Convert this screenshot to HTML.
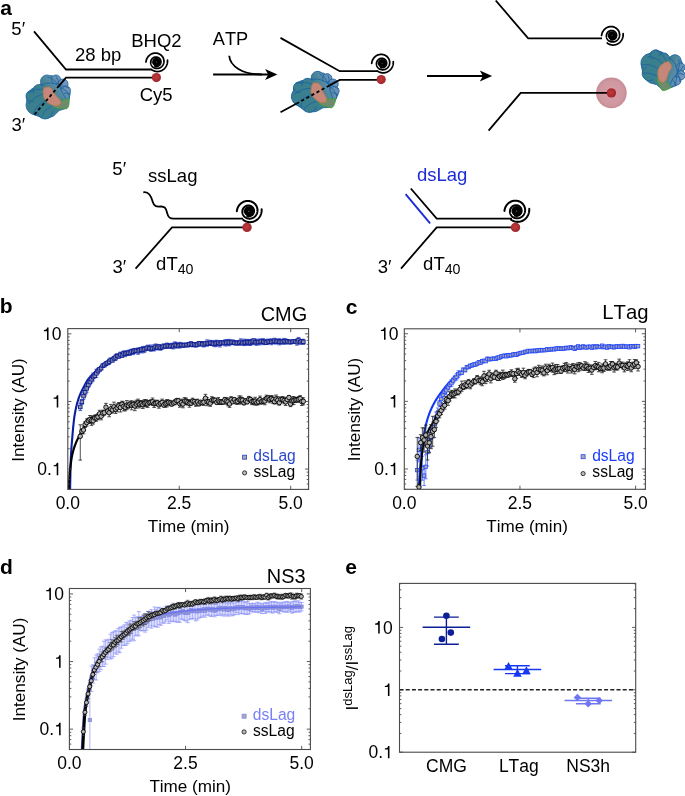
<!DOCTYPE html>
<html><head><meta charset="utf-8"><style>html,body{margin:0;padding:0;background:#fff;width:685px;height:796px;overflow:hidden}svg{display:block;font-kerning:none;will-change:transform}text{font-kerning:none}</style></head>
<body><svg width="685" height="796" viewBox="0 0 685 796" font-family='"Liberation Sans", sans-serif'>
<defs>
<radialGradient id="rg" cx="0.45" cy="0.45" r="0.6"><stop offset="0" stop-color="#c23c38"/><stop offset="1" stop-color="#9c2330"/></radialGradient>
<radialGradient id="glow" cx="0.5" cy="0.5" r="0.5"><stop offset="0" stop-color="#d7a2a8"/><stop offset="0.8" stop-color="#cf97a0"/><stop offset="1" stop-color="#c68c96"/></radialGradient>
<linearGradient id="pg" x1="-4" y1="4" x2="20" y2="-16" gradientUnits="userSpaceOnUse"><stop offset="0" stop-color="#3a7f8d"/><stop offset="0.3" stop-color="#3e8090"/><stop offset="1" stop-color="#7e9bc6"/></linearGradient>
</defs>
<rect width="685" height="796" fill="#fff"/>
<text x="0.18" y="15.4" font-size="21" font-weight="bold" fill="#000">a</text>
<text x="11.36" y="34.5" font-size="18.5" fill="#000">5′</text>
<text x="11.4" y="131" font-size="18.5" fill="#000">3′</text>
<text x="74.97" y="60.6" font-size="18.5" fill="#000">28 bp</text>
<text x="131.28" y="47" font-size="18.5" fill="#000">BHQ2</text>
<text x="139.66" y="101" font-size="18.5" fill="#000">Cy5</text>
<path d="M34 31.4 L66 69.5 L151.5 69.5" fill="none" stroke="#000" stroke-width="1.8"/>
<g transform="translate(48.25 97) rotate(0) scale(1 1)"><path d="M2.95 -21.5 L10.85 -18.7 L16.35 -14.8 L20.25 -9.2 L21.95 -3.7 L21.05 1 L17.85 11.3 L10.85 13.6 L5.25 19.1 L-1.05 21.5 L-8.15 19.9 L-14.45 17.6 L-18.35 12.1 L-20.75 6.5 L-21.95 1 L-20.35 -4.5 L-16.05 -8.4 L-8.15 -11.2 L-6.55 -14.8 L-2.55 -19.5 Z" fill="url(#pg)" stroke="#1f64a0" stroke-width="0.85" stroke-linejoin="round"/><circle cx="-12.25" cy="8" r="10" fill="url(#pg)" stroke="#1f64a0" stroke-width="0.85"/><circle cx="-3.25" cy="14.5" r="7.5" fill="url(#pg)" stroke="#1f64a0" stroke-width="0.85"/><circle cx="-16.75" cy="-1" r="5.5" fill="url(#pg)" stroke="#1f64a0" stroke-width="0.85"/><circle cx="-9.25" cy="-6.5" r="6" fill="url(#pg)" stroke="#1f64a0" stroke-width="0.85"/><circle cx="-1.25" cy="-15.5" r="6.5" fill="url(#pg)" stroke="#1f64a0" stroke-width="0.85"/><circle cx="7.75" cy="-17.5" r="4.5" fill="url(#pg)" stroke="#1f64a0" stroke-width="0.85"/><circle cx="14.75" cy="-13" r="5" fill="url(#pg)" stroke="#1f64a0" stroke-width="0.85"/><circle cx="17.75" cy="-6.5" r="4.5" fill="url(#pg)" stroke="#1f64a0" stroke-width="0.85"/><circle cx="17.25" cy="0" r="4" fill="url(#pg)" stroke="#1f64a0" stroke-width="0.85"/><path d="M-15.25 -2 L-3.25 -13 L9.75 -13 L15.75 -3 L11.75 9 L-0.25 17 L-12.25 13 Z" fill="url(#pg)" stroke="none"/><path d="M10.85 -11.3 Q1.75 -16.5 -7.25 -12" fill="none" stroke="#1f64a0" stroke-width="0.85"/><path d="M10.85 -11.3 Q6.25 -18 -0.75 -20" fill="none" stroke="#1f64a0" stroke-width="0.85"/><path d="M10.85 -11.3 Q10.75 -17 7.75 -20.5" fill="none" stroke="#1f64a0" stroke-width="0.85"/><path d="M10.85 -11.3 Q13.75 -15 16.25 -16.5" fill="none" stroke="#1f64a0" stroke-width="0.85"/><path d="M10.85 -11.3 Q16.25 -11.5 20.75 -9" fill="none" stroke="#1f64a0" stroke-width="0.85"/><path d="M10.85 -11.3 Q16.25 -7.5 21.75 -2.5" fill="none" stroke="#1f64a0" stroke-width="0.85"/><path d="M10.85 -11.3 Q13.25 -4 18.75 3" fill="none" stroke="#1f64a0" stroke-width="0.85"/><path d="M-20.75 -4 Q-13.25 -8.5 -5.25 -8" fill="none" stroke="#1f64a0" stroke-width="0.85"/><path d="M-19.75 7 Q-14.25 -1 -4.25 -3" fill="none" stroke="#1f64a0" stroke-width="0.85"/><path d="M-15.25 17 Q-11.25 7 -2.25 4" fill="none" stroke="#1f64a0" stroke-width="0.85"/><path d="M-7.25 20.5 Q-4.25 13 2.75 9" fill="none" stroke="#1f64a0" stroke-width="0.85"/><path d="M5.25 9.3 L10.85 7.3 L13.15 3.4 L17.85 2.2 L21.05 1.8 L20.85 6.5 L20.25 9.7 L18.65 11.7 L11.55 11.7 L7.65 10.9 Z" fill="#6f8a6c" stroke="#3ba33b" stroke-width="0.8" stroke-linejoin="round"/><path d="M-4.15 -9.2 L0.55 -10 L3.75 -8 L5.25 -4.5 L8.45 -0.6 L11.55 2.6 L12.55 6.1 L10.85 8.1 L6.85 8.9 L2.15 7.3 L-1.85 4.6 L-4.55 0.2 L-5.15 -5.3 Z" fill="#c4877a" stroke="#c27a48" stroke-width="0.8" stroke-linejoin="round"/></g>
<path d="M152.5 77.6 L66 77.6 L59.2 85.6" fill="none" stroke="#000" stroke-width="1.8"/>
<path d="M59.2 85.6 L33.6 115.5" fill="none" stroke="#000" stroke-width="1.8" stroke-dasharray="3.2 2.6"/>
<path d="M145.95 62 L146.03 61.42 L146.13 60.84 L146.27 60.27 L146.44 59.72 L146.64 59.18 L146.87 58.66 L147.13 58.15 L147.42 57.66 L147.72 57.19 L148.06 56.74 L148.41 56.31 L148.79 55.91 L149.19 55.53 L149.61 55.17 L150.04 54.84 L150.49 54.54 L150.95 54.27 L151.42 54.02 L151.91 53.8 L152.4 53.61 L152.9 53.45 L153.41 53.32 L153.92 53.22 L154.43 53.15 L154.94 53.1 L155.45 53.09 L155.96 53.11 L156.46 53.15 L156.96 53.22 L157.45 53.32 L157.93 53.45 L158.4 53.6 L158.85 53.77 L159.3 53.97 L159.73 54.2 L160.14 54.45 L160.54 54.72 L160.91 55 L161.27 55.31 L161.61 55.64 L161.93 55.98 L162.23 56.34 L162.5 56.71 L162.76 57.09 L162.99 57.49 L163.19 57.9 L163.37 58.31 L163.53 58.73 L163.66 59.16 L163.76 59.59 L163.84 60.03 L163.9 60.46 L163.93 60.9 L163.94 61.33 L163.92 61.76 L163.88 62.19 L163.81 62.61 L163.72 63.03 L163.61 63.43 L163.48 63.83 L163.32 64.22 L163.15 64.59 L162.95 64.96 L162.74 65.31 L162.51 65.64 L162.26 65.96 L161.99 66.27 L161.71 66.55 L161.42 66.82 L161.11 67.07 L160.79 67.3 L160.46 67.51 L160.12 67.71 L159.78 67.88 L159.42 68.03 L159.06 68.16 L158.7 68.27 L158.33 68.35 L157.96 68.42 L157.58 68.46 L157.21 68.49 L156.84 68.49 L156.47 68.47 L156.11 68.43 L155.75 68.38 L155.39 68.3 L155.05 68.2 L154.71 68.08 L154.38 67.95 L154.05 67.8 L153.74 67.63 L153.45 67.44 L153.16 67.24 L152.89 67.03 L152.63 66.8 L152.38 66.56 L152.15 66.3 L151.94 66.04 L151.74 65.76 L151.56 65.48 L151.4 65.19 L151.25 64.89 L151.12 64.58 L151.01 64.27 L150.92 63.95 L150.85 63.64 L150.79 63.32 L150.75 63 L150.73 62.67 L150.73 62.35 L150.75 62.04 L150.78 61.72 L150.83 61.41 L150.9 61.1 L150.99 60.8 L151.09 60.51 L151.2 60.22 L151.34 59.94 L151.48 59.67 L151.64 59.41 L151.82 59.16 L152 58.93 L152.2 58.7 L152.41 58.49 L152.64 58.29 L152.87 58.1 L153.11 57.93 L153.35 57.77 L153.61 57.62 L153.87 57.49 L154.14 57.38 L154.41 57.28 L154.69 57.2 L154.97 57.13 L155.25 57.08 L155.53 57.05 L155.82 57.03 L156.1 57.03 L156.38 57.04 L156.66 57.07 L156.94 57.11 L157.21 57.17 L157.48 57.24 L157.74 57.33 L157.99 57.43 L158.24 57.55 L158.48 57.68 L158.72 57.82 L158.94 57.97 L159.15 58.14 L159.36 58.32 L159.55 58.5 L159.73 58.7 L159.9 58.91 L160.06 59.12 L160.21 59.34 L160.34 59.57 L160.46 59.81 L160.56 60.05 L160.65 60.3 L160.73 60.55 L160.79 60.8 L160.84 61.05 L160.88 61.31 L160.9 61.57 L160.9 61.83 L160.9 62.09 L160.87 62.34 L160.84 62.6 L160.79 62.85 L160.72 63.09 L160.64 63.34 L160.55 63.57 L160.45 63.8 L160.33 64.03 L160.2 64.25 L160.06 64.46 L159.91 64.66 L159.75 64.85 L159.58 65.03 L159.4 65.21 L159.21 65.37 L159.01 65.52 L158.8 65.66 L158.59 65.79 L158.37 65.9 L158.14 66.01 L157.91 66.1 L157.68 66.18 L157.44 66.24 L157.2 66.29 L156.95 66.33 L156.71 66.35 L156.46 66.36 L156.21 66.36 L155.97 66.34 L155.72 66.31 L155.48 66.27 L155.24 66.21 L155.01 66.14" fill="none" stroke="#000" stroke-width="1.75" stroke-linecap="round"/>
<path d="M151.63 69.55 L151.9 69.76 L152.18 69.96 L152.47 70.14 L152.77 70.32 L153.08 70.49 L153.39 70.65 L153.71 70.79 L154.04 70.92 L154.37 71.05 L154.71 71.15 L155.05 71.25 L155.4 71.33 L155.76 71.4 L156.11 71.46 L156.47 71.5 L156.84 71.53 L157.2 71.54 L157.57 71.54 L157.94 71.53 L158.31 71.5 L158.68 71.46 L159.05 71.4 L159.42 71.33 L159.79 71.24 L160.15 71.14 L160.51 71.03 L160.87 70.9 L161.23 70.75 L161.58 70.59 L161.92 70.42 L162.26 70.24 L162.6 70.04 L162.93 69.82 L163.25 69.6 L163.56 69.36 L163.86 69.1 L164.16 68.84 L164.44 68.56 L164.72 68.27 L164.99 67.97 L165.24 67.66 L165.48 67.34 L165.72 67 L165.94 66.66 L166.14 66.31 L166.34 65.95 L166.52 65.58 L166.69 65.2 L166.84 64.81 L166.98 64.42 L167.1 64.02 L167.21 63.62 L167.3 63.21 L167.38 62.79 L167.44 62.37 L167.49 61.95 L167.52 61.52 L167.53 61.09 L167.53 60.66 L167.51 60.23" fill="none" stroke="#000" stroke-width="1.75" stroke-linecap="round"/>
<circle cx="156.35" cy="62" r="4.3" fill="#000"/>
<circle cx="156.35" cy="62" r="0.45" fill="#999"/>
<circle cx="156.4" cy="77.6" r="4.6" fill="url(#rg)"/>
<text x="212.76" y="44.5" font-size="18.2" fill="#000">ATP</text>
<path d="M213.1 74.5 L271.4 74.5" fill="none" stroke="#000" stroke-width="1.8"/>
<path d="M277.4 74.5 L265.1 69 L268.2 74.5 L265.1 80 Z" fill="#000"/>
<path d="M229.2 55.8 C230 66 242 74.5 262 74.5" fill="none" stroke="#000" stroke-width="1.8"/>
<path d="M280.5 37.9 L339.7 71.2 L377 71.2" fill="none" stroke="#000" stroke-width="1.8"/>
<g transform="translate(315.5 92.4) rotate(14) scale(1.02 0.96)"><path d="M2.95 -21.5 L10.85 -18.7 L16.35 -14.8 L20.25 -9.2 L21.95 -3.7 L21.05 1 L17.85 11.3 L10.85 13.6 L5.25 19.1 L-1.05 21.5 L-8.15 19.9 L-14.45 17.6 L-18.35 12.1 L-20.75 6.5 L-21.95 1 L-20.35 -4.5 L-16.05 -8.4 L-8.15 -11.2 L-6.55 -14.8 L-2.55 -19.5 Z" fill="url(#pg)" stroke="#1f64a0" stroke-width="0.85" stroke-linejoin="round"/><circle cx="-12.25" cy="8" r="10" fill="url(#pg)" stroke="#1f64a0" stroke-width="0.85"/><circle cx="-3.25" cy="14.5" r="7.5" fill="url(#pg)" stroke="#1f64a0" stroke-width="0.85"/><circle cx="-16.75" cy="-1" r="5.5" fill="url(#pg)" stroke="#1f64a0" stroke-width="0.85"/><circle cx="-9.25" cy="-6.5" r="6" fill="url(#pg)" stroke="#1f64a0" stroke-width="0.85"/><circle cx="-1.25" cy="-15.5" r="6.5" fill="url(#pg)" stroke="#1f64a0" stroke-width="0.85"/><circle cx="7.75" cy="-17.5" r="4.5" fill="url(#pg)" stroke="#1f64a0" stroke-width="0.85"/><circle cx="14.75" cy="-13" r="5" fill="url(#pg)" stroke="#1f64a0" stroke-width="0.85"/><circle cx="17.75" cy="-6.5" r="4.5" fill="url(#pg)" stroke="#1f64a0" stroke-width="0.85"/><circle cx="17.25" cy="0" r="4" fill="url(#pg)" stroke="#1f64a0" stroke-width="0.85"/><path d="M-15.25 -2 L-3.25 -13 L9.75 -13 L15.75 -3 L11.75 9 L-0.25 17 L-12.25 13 Z" fill="url(#pg)" stroke="none"/><path d="M10.85 -11.3 Q1.75 -16.5 -7.25 -12" fill="none" stroke="#1f64a0" stroke-width="0.85"/><path d="M10.85 -11.3 Q6.25 -18 -0.75 -20" fill="none" stroke="#1f64a0" stroke-width="0.85"/><path d="M10.85 -11.3 Q10.75 -17 7.75 -20.5" fill="none" stroke="#1f64a0" stroke-width="0.85"/><path d="M10.85 -11.3 Q13.75 -15 16.25 -16.5" fill="none" stroke="#1f64a0" stroke-width="0.85"/><path d="M10.85 -11.3 Q16.25 -11.5 20.75 -9" fill="none" stroke="#1f64a0" stroke-width="0.85"/><path d="M10.85 -11.3 Q16.25 -7.5 21.75 -2.5" fill="none" stroke="#1f64a0" stroke-width="0.85"/><path d="M10.85 -11.3 Q13.25 -4 18.75 3" fill="none" stroke="#1f64a0" stroke-width="0.85"/><path d="M-20.75 -4 Q-13.25 -8.5 -5.25 -8" fill="none" stroke="#1f64a0" stroke-width="0.85"/><path d="M-19.75 7 Q-14.25 -1 -4.25 -3" fill="none" stroke="#1f64a0" stroke-width="0.85"/><path d="M-15.25 17 Q-11.25 7 -2.25 4" fill="none" stroke="#1f64a0" stroke-width="0.85"/><path d="M-7.25 20.5 Q-4.25 13 2.75 9" fill="none" stroke="#1f64a0" stroke-width="0.85"/><path d="M5.25 9.3 L10.85 7.3 L13.15 3.4 L17.85 2.2 L21.05 1.8 L20.85 6.5 L20.25 9.7 L18.65 11.7 L11.55 11.7 L7.65 10.9 Z" fill="#6f8a6c" stroke="#3ba33b" stroke-width="0.8" stroke-linejoin="round"/><path d="M-4.15 -9.2 L0.55 -10 L3.75 -8 L5.25 -4.5 L8.45 -0.6 L11.55 2.6 L12.55 6.1 L10.85 8.1 L6.85 8.9 L2.15 7.3 L-1.85 4.6 L-4.55 0.2 L-5.15 -5.3 Z" fill="#c4877a" stroke="#c27a48" stroke-width="0.8" stroke-linejoin="round"/></g>
<path d="M378.6 79.9 L339.7 79.9 L329.5 85.5" fill="none" stroke="#000" stroke-width="1.8"/>
<path d="M329.5 85.5 L296.3 103.7" fill="none" stroke="#000" stroke-width="1.8" stroke-dasharray="3.2 2.6"/>
<path d="M296.3 103.7 L280.5 112.3" fill="none" stroke="#000" stroke-width="1.8"/>
<path d="M371.7 63.3 L371.78 62.72 L371.88 62.14 L372.02 61.57 L372.19 61.02 L372.39 60.48 L372.62 59.96 L372.88 59.45 L373.17 58.96 L373.47 58.49 L373.81 58.04 L374.16 57.61 L374.54 57.21 L374.94 56.83 L375.36 56.47 L375.79 56.14 L376.24 55.84 L376.7 55.57 L377.17 55.32 L377.66 55.1 L378.15 54.91 L378.65 54.75 L379.16 54.62 L379.67 54.52 L380.18 54.45 L380.69 54.4 L381.2 54.39 L381.71 54.41 L382.21 54.45 L382.71 54.52 L383.2 54.62 L383.68 54.75 L384.15 54.9 L384.6 55.07 L385.05 55.27 L385.48 55.5 L385.89 55.75 L386.29 56.02 L386.66 56.3 L387.02 56.61 L387.36 56.94 L387.68 57.28 L387.98 57.64 L388.25 58.01 L388.51 58.39 L388.74 58.79 L388.94 59.2 L389.12 59.61 L389.28 60.03 L389.41 60.46 L389.51 60.89 L389.59 61.33 L389.65 61.76 L389.68 62.2 L389.69 62.63 L389.67 63.06 L389.63 63.49 L389.56 63.91 L389.47 64.33 L389.36 64.73 L389.23 65.13 L389.07 65.52 L388.9 65.89 L388.7 66.26 L388.49 66.61 L388.26 66.94 L388.01 67.26 L387.74 67.57 L387.46 67.85 L387.17 68.12 L386.86 68.37 L386.54 68.6 L386.21 68.81 L385.87 69.01 L385.53 69.18 L385.17 69.33 L384.81 69.46 L384.45 69.57 L384.08 69.65 L383.71 69.72 L383.33 69.76 L382.96 69.79 L382.59 69.79 L382.22 69.77 L381.86 69.73 L381.5 69.68 L381.14 69.6 L380.8 69.5 L380.46 69.38 L380.13 69.25 L379.8 69.1 L379.49 68.93 L379.2 68.74 L378.91 68.54 L378.64 68.33 L378.38 68.1 L378.13 67.86 L377.9 67.6 L377.69 67.34 L377.49 67.06 L377.31 66.78 L377.15 66.49 L377 66.19 L376.87 65.88 L376.76 65.57 L376.67 65.25 L376.6 64.94 L376.54 64.62 L376.5 64.3 L376.48 63.97 L376.48 63.65 L376.5 63.34 L376.53 63.02 L376.58 62.71 L376.65 62.4 L376.74 62.1 L376.84 61.81 L376.95 61.52 L377.09 61.24 L377.23 60.97 L377.39 60.71 L377.57 60.46 L377.75 60.23 L377.95 60 L378.16 59.79 L378.39 59.59 L378.62 59.4 L378.86 59.23 L379.1 59.07 L379.36 58.92 L379.62 58.79 L379.89 58.68 L380.16 58.58 L380.44 58.5 L380.72 58.43 L381 58.38 L381.28 58.35 L381.57 58.33 L381.85 58.33 L382.13 58.34 L382.41 58.37 L382.69 58.41 L382.96 58.47 L383.23 58.54 L383.49 58.63 L383.74 58.73 L383.99 58.85 L384.23 58.98 L384.47 59.12 L384.69 59.27 L384.9 59.44 L385.11 59.62 L385.3 59.8 L385.48 60 L385.65 60.21 L385.81 60.42 L385.96 60.64 L386.09 60.87 L386.21 61.11 L386.31 61.35 L386.4 61.6 L386.48 61.85 L386.54 62.1 L386.59 62.35 L386.63 62.61 L386.65 62.87 L386.65 63.13 L386.65 63.39 L386.62 63.64 L386.59 63.9 L386.54 64.15 L386.47 64.39 L386.39 64.64 L386.3 64.87 L386.2 65.1 L386.08 65.33 L385.95 65.55 L385.81 65.76 L385.66 65.96 L385.5 66.15 L385.33 66.33 L385.15 66.51 L384.96 66.67 L384.76 66.82 L384.55 66.96 L384.34 67.09 L384.12 67.2 L383.89 67.31 L383.66 67.4 L383.43 67.48 L383.19 67.54 L382.95 67.59 L382.7 67.63 L382.46 67.65 L382.21 67.66 L381.96 67.66 L381.72 67.64 L381.47 67.61 L381.23 67.57 L380.99 67.51 L380.76 67.44" fill="none" stroke="#000" stroke-width="1.75" stroke-linecap="round"/>
<path d="M377.38 70.85 L377.65 71.06 L377.93 71.26 L378.22 71.44 L378.52 71.62 L378.83 71.79 L379.14 71.95 L379.46 72.09 L379.79 72.22 L380.12 72.35 L380.46 72.45 L380.8 72.55 L381.15 72.63 L381.51 72.7 L381.86 72.76 L382.22 72.8 L382.59 72.83 L382.95 72.84 L383.32 72.84 L383.69 72.83 L384.06 72.8 L384.43 72.76 L384.8 72.7 L385.17 72.63 L385.54 72.54 L385.9 72.44 L386.26 72.33 L386.62 72.2 L386.98 72.05 L387.33 71.89 L387.67 71.72 L388.01 71.54 L388.35 71.34 L388.68 71.12 L389 70.9 L389.31 70.66 L389.61 70.4 L389.91 70.14 L390.19 69.86 L390.47 69.57 L390.74 69.27 L390.99 68.96 L391.23 68.64 L391.47 68.3 L391.69 67.96 L391.89 67.61 L392.09 67.25 L392.27 66.88 L392.44 66.5 L392.59 66.11 L392.73 65.72 L392.85 65.32 L392.96 64.92 L393.05 64.51 L393.13 64.09 L393.19 63.67 L393.24 63.25 L393.27 62.82 L393.28 62.39 L393.28 61.96 L393.26 61.53" fill="none" stroke="#000" stroke-width="1.75" stroke-linecap="round"/>
<circle cx="382.1" cy="63.3" r="4.3" fill="#000"/>
<circle cx="382.1" cy="63.3" r="0.45" fill="#999"/>
<circle cx="381.2" cy="79.6" r="4.6" fill="url(#rg)"/>
<path d="M427 76 L486.1 76" fill="none" stroke="#000" stroke-width="1.8"/>
<path d="M492.1 76 L479.8 70.5 L482.9 76 L479.8 81.5 Z" fill="#000"/>
<path d="M495.7 0.5 L528.2 38.4 L602 38.4" fill="none" stroke="#000" stroke-width="1.8"/>
<path d="M601.6 35.5 L601.68 34.92 L601.78 34.34 L601.92 33.77 L602.09 33.22 L602.29 32.68 L602.52 32.16 L602.78 31.65 L603.07 31.16 L603.37 30.69 L603.71 30.24 L604.06 29.81 L604.44 29.41 L604.84 29.03 L605.26 28.67 L605.69 28.34 L606.14 28.04 L606.6 27.77 L607.07 27.52 L607.56 27.3 L608.05 27.11 L608.55 26.95 L609.06 26.82 L609.57 26.72 L610.08 26.65 L610.59 26.6 L611.1 26.59 L611.61 26.61 L612.11 26.65 L612.61 26.72 L613.1 26.82 L613.58 26.95 L614.05 27.1 L614.5 27.27 L614.95 27.47 L615.38 27.7 L615.79 27.95 L616.19 28.22 L616.56 28.5 L616.92 28.81 L617.26 29.14 L617.58 29.48 L617.88 29.84 L618.15 30.21 L618.41 30.59 L618.64 30.99 L618.84 31.4 L619.02 31.81 L619.18 32.23 L619.31 32.66 L619.41 33.09 L619.49 33.53 L619.55 33.96 L619.58 34.4 L619.59 34.83 L619.57 35.26 L619.53 35.69 L619.46 36.11 L619.37 36.53 L619.26 36.93 L619.13 37.33 L618.97 37.72 L618.8 38.09 L618.6 38.46 L618.39 38.81 L618.16 39.14 L617.91 39.46 L617.64 39.77 L617.36 40.05 L617.07 40.32 L616.76 40.57 L616.44 40.8 L616.11 41.01 L615.77 41.21 L615.43 41.38 L615.07 41.53 L614.71 41.66 L614.35 41.77 L613.98 41.85 L613.61 41.92 L613.23 41.96 L612.86 41.99 L612.49 41.99 L612.12 41.97 L611.76 41.93 L611.4 41.88 L611.04 41.8 L610.7 41.7 L610.36 41.58 L610.03 41.45 L609.7 41.3 L609.39 41.13 L609.1 40.94 L608.81 40.74 L608.54 40.53 L608.28 40.3 L608.03 40.06 L607.8 39.8 L607.59 39.54 L607.39 39.26 L607.21 38.98 L607.05 38.69 L606.9 38.39 L606.77 38.08 L606.66 37.77 L606.57 37.45 L606.5 37.14 L606.44 36.82 L606.4 36.5 L606.38 36.17 L606.38 35.85 L606.4 35.54 L606.43 35.22 L606.48 34.91 L606.55 34.6 L606.64 34.3 L606.74 34.01 L606.85 33.72 L606.99 33.44 L607.13 33.17 L607.29 32.91 L607.47 32.66 L607.65 32.43 L607.85 32.2 L608.06 31.99 L608.29 31.79 L608.52 31.6 L608.76 31.43 L609 31.27 L609.26 31.12 L609.52 30.99 L609.79 30.88 L610.06 30.78 L610.34 30.7 L610.62 30.63 L610.9 30.58 L611.18 30.55 L611.47 30.53 L611.75 30.53 L612.03 30.54 L612.31 30.57 L612.59 30.61 L612.86 30.67 L613.13 30.74 L613.39 30.83 L613.64 30.93 L613.89 31.05 L614.13 31.18 L614.37 31.32 L614.59 31.47 L614.8 31.64 L615.01 31.82 L615.2 32 L615.38 32.2 L615.55 32.41 L615.71 32.62 L615.86 32.84 L615.99 33.07 L616.11 33.31 L616.21 33.55 L616.3 33.8 L616.38 34.05 L616.44 34.3 L616.49 34.55 L616.53 34.81 L616.55 35.07 L616.55 35.33 L616.55 35.59 L616.52 35.84 L616.49 36.1 L616.44 36.35 L616.37 36.59 L616.29 36.84 L616.2 37.07 L616.1 37.3 L615.98 37.53 L615.85 37.75 L615.71 37.96 L615.56 38.16 L615.4 38.35 L615.23 38.53 L615.05 38.71 L614.86 38.87 L614.66 39.02 L614.45 39.16 L614.24 39.29 L614.02 39.4 L613.79 39.51 L613.56 39.6 L613.33 39.68 L613.09 39.74 L612.85 39.79 L612.6 39.83 L612.36 39.85 L612.11 39.86 L611.86 39.86 L611.62 39.84 L611.37 39.81 L611.13 39.77 L610.89 39.71 L610.66 39.64" fill="none" stroke="#000" stroke-width="1.75" stroke-linecap="round"/>
<path d="M607.28 43.05 L607.55 43.26 L607.83 43.46 L608.12 43.64 L608.42 43.82 L608.73 43.99 L609.04 44.15 L609.36 44.29 L609.69 44.42 L610.02 44.55 L610.36 44.65 L610.7 44.75 L611.05 44.83 L611.41 44.9 L611.76 44.96 L612.12 45 L612.49 45.03 L612.85 45.04 L613.22 45.04 L613.59 45.03 L613.96 45 L614.33 44.96 L614.7 44.9 L615.07 44.83 L615.44 44.74 L615.8 44.64 L616.16 44.53 L616.52 44.4 L616.88 44.25 L617.23 44.09 L617.57 43.92 L617.91 43.74 L618.25 43.54 L618.58 43.32 L618.9 43.1 L619.21 42.86 L619.51 42.6 L619.81 42.34 L620.09 42.06 L620.37 41.77 L620.64 41.47 L620.89 41.16 L621.13 40.84 L621.37 40.5 L621.59 40.16 L621.79 39.81 L621.99 39.45 L622.17 39.08 L622.34 38.7 L622.49 38.31 L622.63 37.92 L622.75 37.52 L622.86 37.12 L622.95 36.71 L623.03 36.29 L623.09 35.87 L623.14 35.45 L623.17 35.02 L623.18 34.59 L623.18 34.16 L623.16 33.73" fill="none" stroke="#000" stroke-width="1.75" stroke-linecap="round"/>
<circle cx="612" cy="35.5" r="4.3" fill="#000"/>
<circle cx="612" cy="35.5" r="0.45" fill="#999"/>
<circle cx="611.4" cy="92.9" r="15.3" fill="url(#glow)"/>
<path d="M488.6 130.6 L520.7 92.8 L607 92.8" fill="none" stroke="#000" stroke-width="1.8"/>
<circle cx="611.4" cy="92.9" r="4.7" fill="url(#rg)"/>
<g transform="translate(662.8 69.3) rotate(60) scale(0.95 0.95)"><path d="M2.95 -21.5 L10.85 -18.7 L16.35 -14.8 L20.25 -9.2 L21.95 -3.7 L21.05 1 L17.85 11.3 L10.85 13.6 L5.25 19.1 L-1.05 21.5 L-8.15 19.9 L-14.45 17.6 L-18.35 12.1 L-20.75 6.5 L-21.95 1 L-20.35 -4.5 L-16.05 -8.4 L-8.15 -11.2 L-6.55 -14.8 L-2.55 -19.5 Z" fill="url(#pg)" stroke="#1f64a0" stroke-width="0.85" stroke-linejoin="round"/><circle cx="-12.25" cy="8" r="10" fill="url(#pg)" stroke="#1f64a0" stroke-width="0.85"/><circle cx="-3.25" cy="14.5" r="7.5" fill="url(#pg)" stroke="#1f64a0" stroke-width="0.85"/><circle cx="-16.75" cy="-1" r="5.5" fill="url(#pg)" stroke="#1f64a0" stroke-width="0.85"/><circle cx="-9.25" cy="-6.5" r="6" fill="url(#pg)" stroke="#1f64a0" stroke-width="0.85"/><circle cx="-1.25" cy="-15.5" r="6.5" fill="url(#pg)" stroke="#1f64a0" stroke-width="0.85"/><circle cx="7.75" cy="-17.5" r="4.5" fill="url(#pg)" stroke="#1f64a0" stroke-width="0.85"/><circle cx="14.75" cy="-13" r="5" fill="url(#pg)" stroke="#1f64a0" stroke-width="0.85"/><circle cx="17.75" cy="-6.5" r="4.5" fill="url(#pg)" stroke="#1f64a0" stroke-width="0.85"/><circle cx="17.25" cy="0" r="4" fill="url(#pg)" stroke="#1f64a0" stroke-width="0.85"/><path d="M-15.25 -2 L-3.25 -13 L9.75 -13 L15.75 -3 L11.75 9 L-0.25 17 L-12.25 13 Z" fill="url(#pg)" stroke="none"/><path d="M10.85 -11.3 Q1.75 -16.5 -7.25 -12" fill="none" stroke="#1f64a0" stroke-width="0.85"/><path d="M10.85 -11.3 Q6.25 -18 -0.75 -20" fill="none" stroke="#1f64a0" stroke-width="0.85"/><path d="M10.85 -11.3 Q10.75 -17 7.75 -20.5" fill="none" stroke="#1f64a0" stroke-width="0.85"/><path d="M10.85 -11.3 Q13.75 -15 16.25 -16.5" fill="none" stroke="#1f64a0" stroke-width="0.85"/><path d="M10.85 -11.3 Q16.25 -11.5 20.75 -9" fill="none" stroke="#1f64a0" stroke-width="0.85"/><path d="M10.85 -11.3 Q16.25 -7.5 21.75 -2.5" fill="none" stroke="#1f64a0" stroke-width="0.85"/><path d="M10.85 -11.3 Q13.25 -4 18.75 3" fill="none" stroke="#1f64a0" stroke-width="0.85"/><path d="M-20.75 -4 Q-13.25 -8.5 -5.25 -8" fill="none" stroke="#1f64a0" stroke-width="0.85"/><path d="M-19.75 7 Q-14.25 -1 -4.25 -3" fill="none" stroke="#1f64a0" stroke-width="0.85"/><path d="M-15.25 17 Q-11.25 7 -2.25 4" fill="none" stroke="#1f64a0" stroke-width="0.85"/><path d="M-7.25 20.5 Q-4.25 13 2.75 9" fill="none" stroke="#1f64a0" stroke-width="0.85"/><path d="M5.25 9.3 L10.85 7.3 L13.15 3.4 L17.85 2.2 L21.05 1.8 L20.85 6.5 L20.25 9.7 L18.65 11.7 L11.55 11.7 L7.65 10.9 Z" fill="#6f8a6c" stroke="#3ba33b" stroke-width="0.8" stroke-linejoin="round"/><path d="M-4.15 -9.2 L0.55 -10 L3.75 -8 L5.25 -4.5 L8.45 -0.6 L11.55 2.6 L12.55 6.1 L10.85 8.1 L6.85 8.9 L2.15 7.3 L-1.85 4.6 L-4.55 0.2 L-5.15 -5.3 Z" fill="#c4877a" stroke="#c27a48" stroke-width="0.8" stroke-linejoin="round"/></g>
<text x="112.36" y="175.4" font-size="18.5" fill="#000">5′</text>
<text x="148.09" y="181.5" font-size="18.5" fill="#000">ssLag</text>
<path d="M143.3 192.3 C149.5 191 151.5 197 152.8 202 C154.2 207 157 206.7 160.5 206.5 C165 206.3 166 208.5 167 212.5 C168 217 169.5 218.7 173.5 218.7 L243 218.7" fill="none" stroke="#000" stroke-width="1.8"/>
<path d="M247 227.4 L172 227.4 L135.6 268.6" fill="none" stroke="#000" stroke-width="1.8"/>
<text x="112.4" y="272.6" font-size="18.5" fill="#000">3′</text>
<text x="156.12" y="269.9" font-size="18.5" fill="#000">dT</text>
<text x="177.67" y="274.4" font-size="14.2" fill="#000">40</text>
<path d="M236.84 211.2 L236.93 210.53 L237.05 209.87 L237.21 209.22 L237.41 208.58 L237.64 207.96 L237.9 207.35 L238.2 206.77 L238.52 206.21 L238.88 205.67 L239.26 205.15 L239.67 204.66 L240.11 204.19 L240.57 203.76 L241.05 203.35 L241.54 202.97 L242.06 202.62 L242.59 202.31 L243.14 202.02 L243.69 201.77 L244.26 201.55 L244.84 201.37 L245.42 201.22 L246 201.1 L246.59 201.02 L247.18 200.97 L247.77 200.95 L248.35 200.97 L248.93 201.02 L249.5 201.1 L250.06 201.22 L250.61 201.36 L251.15 201.54 L251.68 201.74 L252.19 201.97 L252.68 202.23 L253.16 202.51 L253.61 202.82 L254.05 203.15 L254.46 203.51 L254.85 203.88 L255.22 204.28 L255.56 204.69 L255.88 205.12 L256.17 205.56 L256.43 206.01 L256.67 206.48 L256.87 206.96 L257.05 207.44 L257.2 207.93 L257.32 208.43 L257.42 208.93 L257.48 209.43 L257.52 209.93 L257.53 210.43 L257.51 210.93 L257.46 211.42 L257.38 211.9 L257.28 212.38 L257.15 212.85 L257 213.31 L256.82 213.75 L256.62 214.18 L256.4 214.6 L256.15 215 L255.88 215.39 L255.6 215.76 L255.29 216.11 L254.97 216.43 L254.63 216.74 L254.28 217.03 L253.91 217.3 L253.53 217.54 L253.14 217.76 L252.74 217.96 L252.33 218.13 L251.92 218.28 L251.5 218.41 L251.07 218.51 L250.65 218.58 L250.22 218.63 L249.79 218.66 L249.36 218.66 L248.94 218.64 L248.52 218.6 L248.11 218.53 L247.7 218.44 L247.3 218.33 L246.91 218.2 L246.53 218.04 L246.16 217.87 L245.8 217.67 L245.46 217.46 L245.13 217.23 L244.82 216.98 L244.52 216.72 L244.24 216.44 L243.97 216.15 L243.73 215.84 L243.5 215.53 L243.29 215.2 L243.11 214.86 L242.94 214.52 L242.79 214.17 L242.66 213.81 L242.56 213.45 L242.47 213.08 L242.41 212.71 L242.36 212.34 L242.34 211.97 L242.34 211.61 L242.36 211.24 L242.4 210.88 L242.45 210.52 L242.53 210.17 L242.63 209.82 L242.75 209.48 L242.88 209.15 L243.03 208.83 L243.2 208.52 L243.39 208.22 L243.59 207.94 L243.8 207.66 L244.03 207.4 L244.27 207.16 L244.53 206.93 L244.79 206.71 L245.07 206.51 L245.36 206.33 L245.65 206.17 L245.95 206.02 L246.26 205.89 L246.57 205.77 L246.89 205.68 L247.21 205.6 L247.54 205.55 L247.86 205.51 L248.19 205.48 L248.51 205.48 L248.84 205.5 L249.16 205.53 L249.47 205.58 L249.79 205.65 L250.09 205.73 L250.4 205.83 L250.69 205.95 L250.98 206.08 L251.25 206.23 L251.52 206.39 L251.78 206.57 L252.02 206.76 L252.26 206.96 L252.48 207.18 L252.69 207.41 L252.89 207.64 L253.07 207.89 L253.23 208.15 L253.39 208.41 L253.52 208.68 L253.64 208.96 L253.75 209.24 L253.84 209.53 L253.91 209.82 L253.97 210.11 L254.01 210.41 L254.03 210.71 L254.04 211 L254.03 211.3 L254 211.59 L253.96 211.88 L253.9 212.17 L253.83 212.46 L253.74 212.74 L253.63 213.01 L253.51 213.28 L253.38 213.53 L253.23 213.78 L253.07 214.03 L252.9 214.26 L252.71 214.48 L252.52 214.69 L252.31 214.89 L252.09 215.07 L251.86 215.25 L251.62 215.41 L251.38 215.56 L251.12 215.69 L250.86 215.81 L250.6 215.91 L250.33 216 L250.05 216.08 L249.77 216.13 L249.49 216.18 L249.21 216.2 L248.93 216.22 L248.64 216.21 L248.36 216.19 L248.08 216.16 L247.8 216.11 L247.52 216.04 L247.25 215.96" fill="none" stroke="#000" stroke-width="2.01" stroke-linecap="round"/>
<path d="M243.38 219.88 L243.69 220.12 L244.01 220.35 L244.34 220.57 L244.68 220.77 L245.04 220.96 L245.4 221.14 L245.76 221.31 L246.14 221.46 L246.52 221.6 L246.91 221.73 L247.31 221.84 L247.71 221.93 L248.12 222.01 L248.53 222.08 L248.94 222.12 L249.36 222.16 L249.78 222.17 L250.21 222.17 L250.63 222.16 L251.06 222.12 L251.48 222.08 L251.91 222.01 L252.33 221.93 L252.75 221.83 L253.17 221.71 L253.59 221.58 L254 221.43 L254.41 221.27 L254.81 221.08 L255.21 220.89 L255.6 220.67 L255.99 220.44 L256.36 220.2 L256.73 219.94 L257.09 219.66 L257.44 219.37 L257.78 219.07 L258.11 218.75 L258.43 218.41 L258.73 218.07 L259.02 217.71 L259.3 217.34 L259.57 216.96 L259.82 216.56 L260.06 216.16 L260.29 215.74 L260.49 215.31 L260.69 214.88 L260.86 214.44 L261.02 213.98 L261.16 213.53 L261.29 213.06 L261.4 212.59 L261.49 212.11 L261.56 211.63 L261.61 211.14 L261.65 210.65 L261.66 210.16 L261.66 209.66 L261.64 209.17" fill="none" stroke="#000" stroke-width="2.01" stroke-linecap="round"/>
<circle cx="248.8" cy="211.2" r="4.94" fill="#000"/>
<circle cx="248.8" cy="211.2" r="0.52" fill="#999"/>
<circle cx="247" cy="227.4" r="4.7" fill="url(#rg)"/>
<text x="416.92" y="181.1" font-size="18.5" fill="#1c2bd6">dsLag</text>
<path d="M410.8 188.5 L436.7 218.7 L512 218.7" fill="none" stroke="#000" stroke-width="1.8"/>
<path d="M405.6 194.2 L430.1 223.3" fill="none" stroke="#1c2bd6" stroke-width="1.9"/>
<path d="M515.5 227.4 L436.7 227.4 L401 268.6" fill="none" stroke="#000" stroke-width="1.8"/>
<text x="377.8" y="272.6" font-size="18.5" fill="#000">3′</text>
<text x="423.12" y="269.9" font-size="18.5" fill="#000">dT</text>
<text x="444.67" y="274.4" font-size="14.2" fill="#000">40</text>
<path d="M504.44 210.9 L504.53 210.23 L504.65 209.57 L504.81 208.92 L505.01 208.28 L505.24 207.66 L505.5 207.05 L505.8 206.47 L506.12 205.91 L506.48 205.37 L506.86 204.85 L507.27 204.36 L507.71 203.89 L508.17 203.46 L508.65 203.05 L509.14 202.67 L509.66 202.32 L510.19 202.01 L510.74 201.72 L511.29 201.47 L511.86 201.25 L512.44 201.07 L513.02 200.92 L513.6 200.8 L514.19 200.72 L514.78 200.67 L515.37 200.65 L515.95 200.67 L516.53 200.72 L517.1 200.8 L517.66 200.92 L518.21 201.06 L518.75 201.24 L519.28 201.44 L519.79 201.67 L520.28 201.93 L520.76 202.21 L521.21 202.52 L521.65 202.85 L522.06 203.21 L522.45 203.58 L522.82 203.98 L523.16 204.39 L523.48 204.82 L523.77 205.26 L524.03 205.71 L524.27 206.18 L524.47 206.66 L524.65 207.14 L524.8 207.63 L524.92 208.13 L525.02 208.63 L525.08 209.13 L525.12 209.63 L525.13 210.13 L525.11 210.63 L525.06 211.12 L524.98 211.6 L524.88 212.08 L524.75 212.55 L524.6 213.01 L524.42 213.45 L524.22 213.88 L524 214.3 L523.75 214.7 L523.48 215.09 L523.2 215.46 L522.89 215.81 L522.57 216.13 L522.23 216.44 L521.88 216.73 L521.51 217 L521.13 217.24 L520.74 217.46 L520.34 217.66 L519.93 217.83 L519.52 217.98 L519.1 218.11 L518.67 218.21 L518.25 218.28 L517.82 218.33 L517.39 218.36 L516.96 218.36 L516.54 218.34 L516.12 218.3 L515.71 218.23 L515.3 218.14 L514.9 218.03 L514.51 217.9 L514.13 217.74 L513.76 217.57 L513.4 217.37 L513.06 217.16 L512.73 216.93 L512.42 216.68 L512.12 216.42 L511.84 216.14 L511.57 215.85 L511.33 215.54 L511.1 215.23 L510.89 214.9 L510.71 214.56 L510.54 214.22 L510.39 213.87 L510.26 213.51 L510.16 213.15 L510.07 212.78 L510.01 212.41 L509.96 212.04 L509.94 211.67 L509.94 211.31 L509.96 210.94 L510 210.58 L510.05 210.22 L510.13 209.87 L510.23 209.52 L510.35 209.18 L510.48 208.85 L510.63 208.53 L510.8 208.22 L510.99 207.92 L511.19 207.64 L511.4 207.36 L511.63 207.1 L511.87 206.86 L512.13 206.63 L512.39 206.41 L512.67 206.21 L512.96 206.03 L513.25 205.87 L513.55 205.72 L513.86 205.59 L514.17 205.47 L514.49 205.38 L514.81 205.3 L515.14 205.25 L515.46 205.21 L515.79 205.18 L516.11 205.18 L516.44 205.2 L516.76 205.23 L517.07 205.28 L517.39 205.35 L517.69 205.43 L518 205.53 L518.29 205.65 L518.58 205.78 L518.85 205.93 L519.12 206.09 L519.38 206.27 L519.62 206.46 L519.86 206.66 L520.08 206.88 L520.29 207.11 L520.49 207.34 L520.67 207.59 L520.83 207.85 L520.99 208.11 L521.12 208.38 L521.24 208.66 L521.35 208.94 L521.44 209.23 L521.51 209.52 L521.57 209.81 L521.61 210.11 L521.63 210.41 L521.64 210.7 L521.63 211 L521.6 211.29 L521.56 211.58 L521.5 211.87 L521.43 212.16 L521.34 212.44 L521.23 212.71 L521.11 212.98 L520.98 213.23 L520.83 213.48 L520.67 213.73 L520.5 213.96 L520.31 214.18 L520.12 214.39 L519.91 214.59 L519.69 214.77 L519.46 214.95 L519.22 215.11 L518.98 215.26 L518.72 215.39 L518.46 215.51 L518.2 215.61 L517.93 215.7 L517.65 215.78 L517.37 215.83 L517.09 215.88 L516.81 215.9 L516.53 215.92 L516.24 215.91 L515.96 215.89 L515.68 215.86 L515.4 215.81 L515.12 215.74 L514.85 215.66" fill="none" stroke="#000" stroke-width="2.01" stroke-linecap="round"/>
<path d="M510.98 219.58 L511.29 219.82 L511.61 220.05 L511.94 220.27 L512.28 220.47 L512.64 220.66 L513 220.84 L513.36 221.01 L513.74 221.16 L514.12 221.3 L514.51 221.43 L514.91 221.54 L515.31 221.63 L515.72 221.71 L516.13 221.78 L516.54 221.82 L516.96 221.86 L517.38 221.87 L517.81 221.87 L518.23 221.86 L518.66 221.82 L519.08 221.78 L519.51 221.71 L519.93 221.63 L520.35 221.53 L520.77 221.41 L521.19 221.28 L521.6 221.13 L522.01 220.97 L522.41 220.78 L522.81 220.59 L523.2 220.37 L523.59 220.14 L523.96 219.9 L524.33 219.64 L524.69 219.36 L525.04 219.07 L525.38 218.77 L525.71 218.45 L526.03 218.11 L526.33 217.77 L526.62 217.41 L526.9 217.04 L527.17 216.66 L527.42 216.26 L527.66 215.86 L527.89 215.44 L528.09 215.01 L528.29 214.58 L528.46 214.14 L528.62 213.68 L528.76 213.23 L528.89 212.76 L529 212.29 L529.09 211.81 L529.16 211.33 L529.21 210.84 L529.25 210.35 L529.26 209.86 L529.26 209.36 L529.24 208.87" fill="none" stroke="#000" stroke-width="2.01" stroke-linecap="round"/>
<circle cx="516.4" cy="210.9" r="4.94" fill="#000"/>
<circle cx="516.4" cy="210.9" r="0.52" fill="#999"/>
<circle cx="515.5" cy="227.4" r="4.7" fill="url(#rg)"/>
<text x="-0.38" y="313.4" font-size="21" font-weight="bold" fill="#000">b</text>
<text x="260.76" y="320.9" font-size="19.9" fill="#000">CMG</text>
<clipPath id="cb"><rect x="67.8" y="328.6" width="240.8" height="160.8"/></clipPath>
<g clip-path="url(#cb)">
<path d="M70.1 490 L70.15 487.33 L70.2 484.68 L70.25 482.04 L70.3 479.45 L70.35 476.92 L70.4 474.46 L70.45 472.1 L70.5 469.83 L70.55 467.69 L70.6 465.69 L70.65 463.85 L70.7 462.17 L70.75 460.68 L70.8 459.4 L70.85 458.25 L70.9 457.15 L70.95 456.09 L71 455.08 L71.05 454.11 L71.1 453.18 L71.15 452.29 L71.2 451.43 L71.25 450.61 L71.3 449.82 L71.35 449.06 L71.4 448.33 L71.45 447.62 L71.55 446.27 L71.65 444.99 L71.75 443.77 L71.85 442.59 L71.95 441.43 L72.05 440.27 L72.15 439.1 L72.25 437.9 L72.35 436.71 L72.45 435.52 L72.55 434.35 L72.65 433.19 L72.75 432.04 L72.85 430.92 L72.95 429.8 L73.05 428.71 L73.15 427.64 L73.25 426.59 L73.35 425.57 L73.45 424.57 L73.55 423.6 L73.65 422.65 L73.75 421.74 L73.85 420.86 L73.95 420.01 L74.05 419.19 L74.15 418.41 L74.25 417.67 L74.35 416.97 L74.5 416 L74.65 415.09 L74.8 414.2 L74.95 413.34 L75.1 412.51 L75.25 411.7 L75.4 410.91 L75.55 410.15 L75.7 409.41 L75.85 408.69 L76 408 L76.2 407.1 L76.4 406.23 L76.6 405.4 L76.8 404.6 L77 403.83 L77.2 403.09 L77.4 402.37 L77.6 401.67 L77.8 401 L78.05 400.19 L78.3 399.41 L78.55 398.65 L78.8 397.92 L79.05 397.21 L79.3 396.53 L79.55 395.87 L79.85 395.11 L80.15 394.38 L80.45 393.68 L80.75 393 L81.05 392.34 L81.35 391.71 L81.7 390.98 L82.05 390.28 L82.4 389.59 L82.75 388.91 L83.1 388.23 L83.45 387.56 L83.8 386.89 L84.15 386.21 L84.5 385.53 L84.85 384.85 L85.2 384.19 L85.55 383.53 L85.9 382.89 L86.25 382.26 L86.65 381.57 L87.05 380.91 L87.45 380.29 L87.85 379.71 L88.3 379.1 L88.75 378.52 L89.2 377.98 L89.7 377.4 L90.2 376.85 L90.7 376.32 L91.2 375.8 L91.7 375.3 L92.2 374.8 L92.7 374.3 L93.2 373.8 L93.7 373.3 L94.2 372.79 L94.7 372.28 L95.2 371.77 L95.7 371.26 L96.2 370.76 L96.7 370.26 L97.2 369.76 L97.7 369.27 L98.25 368.74 L98.8 368.21 L99.35 367.69 L99.9 367.18 L100.45 366.68 L101 366.19 L101.55 365.71 L102.1 365.24 L102.65 364.78 L103.2 364.34 L103.75 363.91 L104.35 363.44 L104.95 362.98 L105.55 362.53 L106.15 362.08 L106.75 361.64 L107.35 361.22 L107.95 360.8 L108.55 360.39 L109.15 359.99 L109.75 359.6 L110.35 359.22 L110.95 358.85 L111.6 358.46 L112.25 358.08 L112.9 357.72 L113.55 357.36 L114.2 357 L114.85 356.66 L115.5 356.31 L116.15 355.98 L116.8 355.65 L117.45 355.34 L118.1 355.03 L118.75 354.74 L119.4 354.46 L120.05 354.19 L120.75 353.91 L121.45 353.66 L122.15 353.42 L122.85 353.18 L123.55 352.96 L124.25 352.74 L124.95 352.52 L125.65 352.31 L126.35 352.11 L127.05 351.9 L127.75 351.71 L128.45 351.52 L129.15 351.33 L129.85 351.15 L130.55 350.97 L131.25 350.79 L131.95 350.63 L132.65 350.46 L133.35 350.3 L134.05 350.14 L134.75 349.99 L135.45 349.84 L136.15 349.69 L136.85 349.55 L137.55 349.41 L138.25 349.28 L138.95 349.15 L139.65 349.02 L140.35 348.9 L141.05 348.77 L141.75 348.66 L142.45 348.54 L143.15 348.43 L143.85 348.32 L144.55 348.21 L145.25 348.1 L145.95 348 L146.65 347.9 L147.35 347.8 L148.05 347.71 L148.75 347.61 L149.45 347.52 L150.15 347.43 L150.85 347.34 L151.55 347.25 L152.25 347.16 L152.95 347.08 L153.65 347 L154.35 346.91 L155.05 346.83 L155.75 346.75 L156.45 346.68 L157.15 346.6 L157.85 346.52 L158.55 346.44 L159.25 346.37 L159.95 346.29 L160.65 346.22 L161.35 346.15 L162.05 346.07 L162.75 346 L163.45 345.93 L164.15 345.86 L164.85 345.79 L165.55 345.72 L166.25 345.65 L166.95 345.58 L167.65 345.52 L168.35 345.45 L169.05 345.39 L169.75 345.32 L170.45 345.26 L171.15 345.2 L171.85 345.14 L172.55 345.08 L173.25 345.02 L173.95 344.96 L174.65 344.91 L175.35 344.85 L176.05 344.8 L176.75 344.75 L177.45 344.7 L178.15 344.65 L178.85 344.6 L179.55 344.56 L180.25 344.51 L180.95 344.47 L181.65 344.43 L182.35 344.39 L183.05 344.35 L183.75 344.31 L184.45 344.27 L185.15 344.23 L185.85 344.19 L186.55 344.16 L187.25 344.12 L187.95 344.09 L188.65 344.05 L189.35 344.02 L190.05 343.98 L190.75 343.95 L191.45 343.92 L192.15 343.88 L192.85 343.85 L193.55 343.82 L194.25 343.79 L194.95 343.76 L195.65 343.73 L196.35 343.69 L197.05 343.66 L197.75 343.63 L198.45 343.6 L199.15 343.57 L199.85 343.54 L200.55 343.5 L201.25 343.47 L201.95 343.44 L202.65 343.41 L203.35 343.38 L204.05 343.35 L204.75 343.32 L205.45 343.29 L206.15 343.26 L206.85 343.23 L207.55 343.2 L208.25 343.17 L208.95 343.14 L209.65 343.11 L210.35 343.08 L211.05 343.05 L211.75 343.02 L212.45 342.99 L213.15 342.96 L213.85 342.93 L214.55 342.9 L215.25 342.87 L215.95 342.85 L216.65 342.82 L217.35 342.79 L218.05 342.76 L218.75 342.74 L219.45 342.71 L220.15 342.68 L220.85 342.65 L221.55 342.63 L222.25 342.6 L222.95 342.58 L223.65 342.55 L224.35 342.53 L225.05 342.5 L225.75 342.48 L226.45 342.45 L227.15 342.43 L227.85 342.4 L228.55 342.38 L229.25 342.36 L229.95 342.33 L230.65 342.31 L231.35 342.29 L232.05 342.27 L232.75 342.25 L233.45 342.22 L234.15 342.2 L234.85 342.18 L235.55 342.16 L236.25 342.14 L236.95 342.12 L237.65 342.11 L238.35 342.09 L239.05 342.07 L239.75 342.05 L240.45 342.03 L241.15 342.02 L241.85 342 L242.55 341.99 L243.25 341.97 L243.95 341.95 L244.65 341.94 L245.35 341.92 L246.05 341.9 L246.75 341.89 L247.45 341.87 L248.15 341.86 L248.85 341.84 L249.55 341.83 L250.25 341.81 L250.95 341.79 L251.65 341.78 L252.35 341.76 L253.05 341.75 L253.75 341.73 L254.45 341.72 L255.15 341.7 L255.85 341.69 L256.55 341.67 L257.25 341.66 L257.95 341.64 L258.65 341.63 L259.35 341.61 L260.05 341.6 L260.75 341.58 L261.45 341.57 L262.15 341.56 L262.85 341.54 L263.55 341.53 L264.25 341.51 L264.95 341.5 L265.65 341.49 L266.35 341.47 L267.05 341.46 L267.75 341.45 L268.45 341.43 L269.15 341.42 L269.85 341.41 L270.55 341.39 L271.25 341.38 L271.95 341.37 L272.65 341.36 L273.35 341.34 L274.05 341.33 L274.75 341.32 L275.45 341.31 L276.15 341.3 L276.85 341.29 L277.55 341.27 L278.25 341.26 L278.95 341.25 L279.65 341.24 L280.35 341.23 L281.05 341.22 L281.75 341.21 L282.45 341.2 L283.15 341.19 L283.85 341.18 L284.55 341.17 L285.25 341.16 L285.95 341.15 L286.65 341.14 L287.35 341.14 L288.05 341.13 L288.75 341.12 L289.45 341.11 L290.15 341.1 L290.85 341.1 L291.55 341.09 L292.25 341.08 L292.95 341.07 L293.65 341.07 L294.35 341.06 L295.05 341.06 L295.75 341.05 L296.45 341.04 L297.15 341.04 L297.85 341.03 L298.55 341.03 L299.25 341.02 L299.95 341.02 L300.65 341.01 L301.35 341.01 L302.05 341.01 L302.75 341 L303.45 341 L303.6 341" fill="none" stroke="#0b1f9c" stroke-width="2.1"/>
<path d="M80.28 403.28V410.55 M78.48 403.28h3.6 M78.48 410.55h3.6M81.89 399.5V404.32 M80.09 399.5h3.6 M80.09 404.32h3.6M83.49 392.74V399.47 M81.69 392.74h3.6 M81.69 399.47h3.6M85.1 388.59V395.98 M83.3 388.59h3.6 M83.3 395.98h3.6M86.7 384.58V392.19 M84.9 384.58h3.6 M84.9 392.19h3.6M88.31 382.11V387.79 M86.51 382.11h3.6 M86.51 387.79h3.6M89.91 379.07V384.81 M88.11 379.07h3.6 M88.11 384.81h3.6M91.52 375.71V382.78 M89.72 375.71h3.6 M89.72 382.78h3.6M93.12 373.1V381.03 M91.32 373.1h3.6 M91.32 381.03h3.6M94.73 373.99V377.74 M92.93 373.99h3.6 M92.93 377.74h3.6M96.33 369.31V377.42 M94.53 369.31h3.6 M94.53 377.42h3.6M97.94 368.33V373.76 M96.14 368.33h3.6 M96.14 373.76h3.6M99.54 367.48V371.22 M97.74 367.48h3.6 M97.74 371.22h3.6M101.15 366.34V369.91 M99.35 366.34h3.6 M99.35 369.91h3.6M102.75 363.92V367.54 M100.95 363.92h3.6 M100.95 367.54h3.6M104.36 363.27V366.88 M102.56 363.27h3.6 M102.56 366.88h3.6M105.96 361.82V365.65 M104.16 361.82h3.6 M104.16 365.65h3.6M107.57 361.55V364.39 M105.77 361.55h3.6 M105.77 364.39h3.6M109.17 359.14V364.26 M107.37 359.14h3.6 M107.37 364.26h3.6M110.78 358.16V361.61 M108.98 358.16h3.6 M108.98 361.61h3.6M112.38 358.7V361.91 M110.58 358.7h3.6 M110.58 361.91h3.6M113.98 356.44V360.43 M112.18 356.44h3.6 M112.18 360.43h3.6M115.59 354.33V360.53 M113.79 354.33h3.6 M113.79 360.53h3.6M117.19 353.84V358.15 M115.39 353.84h3.6 M115.39 358.15h3.6M118.8 354.27V358.15 M117 354.27h3.6 M117 358.15h3.6M120.4 352.12V357.05 M118.6 352.12h3.6 M118.6 357.05h3.6M122.01 352.9V357.52 M120.21 352.9h3.6 M120.21 357.52h3.6M123.61 350.98V355.91 M121.81 350.98h3.6 M121.81 355.91h3.6M125.22 351.01V356.7 M123.42 351.01h3.6 M123.42 356.7h3.6M126.82 350.99V355.28 M125.02 350.99h3.6 M125.02 355.28h3.6M128.43 350.21V355.56 M126.63 350.21h3.6 M126.63 355.56h3.6M130.03 350.09V355.34 M128.23 350.09h3.6 M128.23 355.34h3.6M131.64 349.16V353.8 M129.84 349.16h3.6 M129.84 353.8h3.6M133.24 348.98V354.61 M131.44 348.98h3.6 M131.44 354.61h3.6M134.85 348.38V352.94 M133.05 348.38h3.6 M133.05 352.94h3.6M136.45 349.28V352.15 M134.65 349.28h3.6 M134.65 352.15h3.6M138.06 347.93V354.31 M136.26 347.93h3.6 M136.26 354.31h3.6M139.66 347.85V352.8 M137.86 347.85h3.6 M137.86 352.8h3.6M141.27 347.31V351.92 M139.47 347.31h3.6 M139.47 351.92h3.6M142.87 346.52V352.89 M141.07 346.52h3.6 M141.07 352.89h3.6M144.48 346.36V352.29 M142.68 346.36h3.6 M142.68 352.29h3.6M146.08 346.61V350.23 M144.28 346.61h3.6 M144.28 350.23h3.6M147.69 345.16V350.05 M145.89 345.16h3.6 M145.89 350.05h3.6M149.29 346.14V350.59 M147.49 346.14h3.6 M147.49 350.59h3.6M150.9 345V351.29 M149.1 345h3.6 M149.1 351.29h3.6M152.5 347.15V349.93 M150.7 347.15h3.6 M150.7 349.93h3.6M154.11 344.91V350.94 M152.31 344.91h3.6 M152.31 350.94h3.6M155.71 343.97V349.46 M153.91 343.97h3.6 M153.91 349.46h3.6M157.32 345.11V349.93 M155.52 345.11h3.6 M155.52 349.93h3.6M158.92 344.45V348.78 M157.12 344.45h3.6 M157.12 348.78h3.6M160.53 345.35V350.21 M158.73 345.35h3.6 M158.73 350.21h3.6M162.13 345.3V348.8 M160.33 345.3h3.6 M160.33 348.8h3.6M163.74 343.99V348.07 M161.94 343.99h3.6 M161.94 348.07h3.6M165.34 344.34V348.37 M163.54 344.34h3.6 M163.54 348.37h3.6M166.95 343.08V348.09 M165.15 343.08h3.6 M165.15 348.09h3.6M168.55 343.65V348.1 M166.75 343.65h3.6 M166.75 348.1h3.6M170.16 344.48V347.89 M168.36 344.48h3.6 M168.36 347.89h3.6M171.76 343.31V348.22 M169.96 343.31h3.6 M169.96 348.22h3.6M173.37 343.23V348.92 M171.57 343.23h3.6 M171.57 348.92h3.6M174.97 341.92V347.68 M173.17 341.92h3.6 M173.17 347.68h3.6M176.58 342.63V347.87 M174.78 342.63h3.6 M174.78 347.87h3.6M178.18 344.48V347.55 M176.38 344.48h3.6 M176.38 347.55h3.6M179.78 342.34V347.88 M177.98 342.34h3.6 M177.98 347.88h3.6M181.39 343.09V346.77 M179.59 343.09h3.6 M179.59 346.77h3.6M182.99 343.29V347.32 M181.19 343.29h3.6 M181.19 347.32h3.6M184.6 343.61V346.62 M182.8 343.61h3.6 M182.8 346.62h3.6M186.2 343.23V346.6 M184.4 343.23h3.6 M184.4 346.6h3.6M187.81 343.11V346.87 M186.01 343.11h3.6 M186.01 346.87h3.6M189.41 342.35V346.29 M187.61 342.35h3.6 M187.61 346.29h3.6M191.02 341.62V346.12 M189.22 341.62h3.6 M189.22 346.12h3.6M192.62 342.55V346.86 M190.82 342.55h3.6 M190.82 346.86h3.6M194.23 342.53V345.98 M192.43 342.53h3.6 M192.43 345.98h3.6M195.83 342.54V347.18 M194.03 342.54h3.6 M194.03 347.18h3.6M197.44 342.88V346.41 M195.64 342.88h3.6 M195.64 346.41h3.6M199.04 341.88V344.72 M197.24 341.88h3.6 M197.24 344.72h3.6M200.65 341.95V344.78 M198.85 341.95h3.6 M198.85 344.78h3.6M202.25 342.56V345.91 M200.45 342.56h3.6 M200.45 345.91h3.6M203.86 341.62V346.97 M202.06 341.62h3.6 M202.06 346.97h3.6M205.46 341.62V345.19 M203.66 341.62h3.6 M203.66 345.19h3.6M207.07 339.89V346.24 M205.27 339.89h3.6 M205.27 346.24h3.6M208.67 341.87V345.45 M206.87 341.87h3.6 M206.87 345.45h3.6M210.28 340.33V345.48 M208.48 340.33h3.6 M208.48 345.48h3.6M211.88 340.92V344.86 M210.08 340.92h3.6 M210.08 344.86h3.6M213.49 341.1V346.19 M211.69 341.1h3.6 M211.69 346.19h3.6M215.09 340.41V346.73 M213.29 340.41h3.6 M213.29 346.73h3.6M216.7 340.29V346.27 M214.9 340.29h3.6 M214.9 346.27h3.6M218.3 340.82V344.72 M216.5 340.82h3.6 M216.5 344.72h3.6M219.91 340.74V346.96 M218.11 340.74h3.6 M218.11 346.96h3.6M221.51 341.09V344.78 M219.71 341.09h3.6 M219.71 344.78h3.6M223.12 341.03V343.82 M221.32 341.03h3.6 M221.32 343.82h3.6M224.72 340.03V345.81 M222.92 340.03h3.6 M222.92 345.81h3.6M226.33 339.53V345.83 M224.53 339.53h3.6 M224.53 345.83h3.6M227.93 339.49V345.44 M226.13 339.49h3.6 M226.13 345.44h3.6M229.54 339.37V345.71 M227.74 339.37h3.6 M227.74 345.71h3.6M231.14 340.38V344.53 M229.34 340.38h3.6 M229.34 344.53h3.6M232.75 340.02V344.06 M230.95 340.02h3.6 M230.95 344.06h3.6M234.35 340.51V344.86 M232.55 340.51h3.6 M232.55 344.86h3.6M235.96 341.37V344.84 M234.16 341.37h3.6 M234.16 344.84h3.6M237.56 341.01V344.86 M235.76 341.01h3.6 M235.76 344.86h3.6M239.17 340.47V345.07 M237.37 340.47h3.6 M237.37 345.07h3.6M240.77 338.88V344.95 M238.97 338.88h3.6 M238.97 344.95h3.6M242.38 341.69V344.51 M240.58 341.69h3.6 M240.58 344.51h3.6M243.98 339.18V345.57 M242.18 339.18h3.6 M242.18 345.57h3.6M245.59 339.78V345.42 M243.79 339.78h3.6 M243.79 345.42h3.6M247.19 339.39V344.63 M245.39 339.39h3.6 M245.39 344.63h3.6M248.79 339.48V345.33 M246.99 339.48h3.6 M246.99 345.33h3.6M250.4 339.48V345.48 M248.6 339.48h3.6 M248.6 345.48h3.6M252 339.25V344.54 M250.2 339.25h3.6 M250.2 344.54h3.6M253.61 338.92V342.54 M251.81 338.92h3.6 M251.81 342.54h3.6M255.21 339.41V344.84 M253.41 339.41h3.6 M253.41 344.84h3.6M256.82 339.14V345.25 M255.02 339.14h3.6 M255.02 345.25h3.6M258.42 340.29V343.84 M256.62 340.29h3.6 M256.62 343.84h3.6M260.03 339V344.85 M258.23 339h3.6 M258.23 344.85h3.6M261.63 339.19V343.31 M259.83 339.19h3.6 M259.83 343.31h3.6M263.24 338.65V344.6 M261.44 338.65h3.6 M261.44 344.6h3.6M264.84 339.62V344.6 M263.04 339.62h3.6 M263.04 344.6h3.6M266.45 341.03V344.29 M264.65 341.03h3.6 M264.65 344.29h3.6M268.05 339.07V343.86 M266.25 339.07h3.6 M266.25 343.86h3.6M269.66 340.28V343.31 M267.86 340.28h3.6 M267.86 343.31h3.6M271.26 338.77V344.72 M269.46 338.77h3.6 M269.46 344.72h3.6M272.87 339.83V343.85 M271.07 339.83h3.6 M271.07 343.85h3.6M274.47 338.28V343.3 M272.67 338.28h3.6 M272.67 343.3h3.6M276.08 339.24V344.1 M274.28 339.24h3.6 M274.28 344.1h3.6M277.68 339.34V342.92 M275.88 339.34h3.6 M275.88 342.92h3.6M279.29 338.82V344.86 M277.49 338.82h3.6 M277.49 344.86h3.6M280.89 339.27V344.1 M279.09 339.27h3.6 M279.09 344.1h3.6M282.5 340.04V343.82 M280.7 340.04h3.6 M280.7 343.82h3.6M284.1 338.41V344.07 M282.3 338.41h3.6 M282.3 344.07h3.6M285.71 338.86V344.09 M283.91 338.86h3.6 M283.91 344.09h3.6M287.31 339.81V342.91 M285.51 339.81h3.6 M285.51 342.91h3.6M288.92 340.65V343.56 M287.12 340.65h3.6 M287.12 343.56h3.6M290.52 340.19V343.83 M288.72 340.19h3.6 M288.72 343.83h3.6M292.13 340.25V343.43 M290.33 340.25h3.6 M290.33 343.43h3.6M293.73 339.64V343.01 M291.93 339.64h3.6 M291.93 343.01h3.6M295.34 339.82V342.95 M293.54 339.82h3.6 M293.54 342.95h3.6M296.94 339.02V345.13 M295.14 339.02h3.6 M295.14 345.13h3.6M298.55 337.41V343.51 M296.75 337.41h3.6 M296.75 343.51h3.6M300.15 340.22V344.06 M298.35 340.22h3.6 M298.35 344.06h3.6M301.76 339.73V342.86 M299.96 339.73h3.6 M299.96 342.86h3.6M303.36 339.23V344.39 M301.56 339.23h3.6 M301.56 344.39h3.6" stroke="#3148c0" stroke-width="0.9" fill="none" opacity="1"/>
<g fill="#9494a4" stroke="#0f1f95" stroke-width="0.9"><rect x="78.5" y="405.14" width="3.56" height="3.56"/><rect x="80.11" y="400.13" width="3.56" height="3.56"/><rect x="81.71" y="394.32" width="3.56" height="3.56"/><rect x="83.32" y="390.5" width="3.56" height="3.56"/><rect x="84.92" y="386.6" width="3.56" height="3.56"/><rect x="86.53" y="383.17" width="3.56" height="3.56"/><rect x="88.13" y="380.16" width="3.56" height="3.56"/><rect x="89.74" y="377.46" width="3.56" height="3.56"/><rect x="91.34" y="375.28" width="3.56" height="3.56"/><rect x="92.95" y="374.08" width="3.56" height="3.56"/><rect x="94.55" y="371.58" width="3.56" height="3.56"/><rect x="96.16" y="369.27" width="3.56" height="3.56"/><rect x="97.76" y="367.57" width="3.56" height="3.56"/><rect x="99.37" y="366.34" width="3.56" height="3.56"/><rect x="100.97" y="363.95" width="3.56" height="3.56"/><rect x="102.58" y="363.29" width="3.56" height="3.56"/><rect x="104.18" y="361.95" width="3.56" height="3.56"/><rect x="105.79" y="361.18" width="3.56" height="3.56"/><rect x="107.39" y="359.92" width="3.56" height="3.56"/><rect x="109" y="358.1" width="3.56" height="3.56"/><rect x="110.6" y="358.52" width="3.56" height="3.56"/><rect x="112.2" y="356.65" width="3.56" height="3.56"/><rect x="113.81" y="355.65" width="3.56" height="3.56"/><rect x="115.41" y="354.21" width="3.56" height="3.56"/><rect x="117.02" y="354.43" width="3.56" height="3.56"/><rect x="118.62" y="352.8" width="3.56" height="3.56"/><rect x="120.23" y="353.42" width="3.56" height="3.56"/><rect x="121.83" y="351.66" width="3.56" height="3.56"/><rect x="123.44" y="352.08" width="3.56" height="3.56"/><rect x="125.04" y="351.35" width="3.56" height="3.56"/><rect x="126.65" y="351.11" width="3.56" height="3.56"/><rect x="128.25" y="350.93" width="3.56" height="3.56"/><rect x="129.86" y="349.7" width="3.56" height="3.56"/><rect x="131.46" y="350.02" width="3.56" height="3.56"/><rect x="133.07" y="348.88" width="3.56" height="3.56"/><rect x="134.67" y="348.93" width="3.56" height="3.56"/><rect x="136.28" y="349.34" width="3.56" height="3.56"/><rect x="137.88" y="348.54" width="3.56" height="3.56"/><rect x="139.49" y="347.83" width="3.56" height="3.56"/><rect x="141.09" y="347.92" width="3.56" height="3.56"/><rect x="142.7" y="347.54" width="3.56" height="3.56"/><rect x="144.3" y="346.64" width="3.56" height="3.56"/><rect x="145.91" y="345.82" width="3.56" height="3.56"/><rect x="147.51" y="346.58" width="3.56" height="3.56"/><rect x="149.12" y="346.36" width="3.56" height="3.56"/><rect x="150.72" y="346.76" width="3.56" height="3.56"/><rect x="152.33" y="346.14" width="3.56" height="3.56"/><rect x="153.93" y="344.94" width="3.56" height="3.56"/><rect x="155.54" y="345.74" width="3.56" height="3.56"/><rect x="157.14" y="344.83" width="3.56" height="3.56"/><rect x="158.75" y="346" width="3.56" height="3.56"/><rect x="160.35" y="345.27" width="3.56" height="3.56"/><rect x="161.96" y="344.25" width="3.56" height="3.56"/><rect x="163.56" y="344.57" width="3.56" height="3.56"/><rect x="165.17" y="343.8" width="3.56" height="3.56"/><rect x="166.77" y="344.09" width="3.56" height="3.56"/><rect x="168.38" y="344.4" width="3.56" height="3.56"/><rect x="169.98" y="343.98" width="3.56" height="3.56"/><rect x="171.59" y="344.29" width="3.56" height="3.56"/><rect x="173.19" y="343.02" width="3.56" height="3.56"/><rect x="174.8" y="343.47" width="3.56" height="3.56"/><rect x="176.4" y="344.24" width="3.56" height="3.56"/><rect x="178" y="343.33" width="3.56" height="3.56"/><rect x="179.61" y="343.15" width="3.56" height="3.56"/><rect x="181.21" y="343.52" width="3.56" height="3.56"/><rect x="182.82" y="343.33" width="3.56" height="3.56"/><rect x="184.42" y="343.13" width="3.56" height="3.56"/><rect x="186.03" y="343.21" width="3.56" height="3.56"/><rect x="187.63" y="342.54" width="3.56" height="3.56"/><rect x="189.24" y="342.09" width="3.56" height="3.56"/><rect x="190.84" y="342.93" width="3.56" height="3.56"/><rect x="192.45" y="342.47" width="3.56" height="3.56"/><rect x="194.05" y="343.08" width="3.56" height="3.56"/><rect x="195.66" y="342.86" width="3.56" height="3.56"/><rect x="197.26" y="341.52" width="3.56" height="3.56"/><rect x="198.87" y="341.58" width="3.56" height="3.56"/><rect x="200.47" y="342.45" width="3.56" height="3.56"/><rect x="202.08" y="342.51" width="3.56" height="3.56"/><rect x="203.68" y="341.62" width="3.56" height="3.56"/><rect x="205.29" y="341.28" width="3.56" height="3.56"/><rect x="206.89" y="341.88" width="3.56" height="3.56"/><rect x="208.5" y="341.13" width="3.56" height="3.56"/><rect x="210.1" y="341.11" width="3.56" height="3.56"/><rect x="211.71" y="341.86" width="3.56" height="3.56"/><rect x="213.31" y="341.79" width="3.56" height="3.56"/><rect x="214.92" y="341.5" width="3.56" height="3.56"/><rect x="216.52" y="340.99" width="3.56" height="3.56"/><rect x="218.13" y="342.07" width="3.56" height="3.56"/><rect x="219.73" y="341.15" width="3.56" height="3.56"/><rect x="221.34" y="340.64" width="3.56" height="3.56"/><rect x="222.94" y="341.14" width="3.56" height="3.56"/><rect x="224.55" y="340.9" width="3.56" height="3.56"/><rect x="226.15" y="340.68" width="3.56" height="3.56"/><rect x="227.76" y="340.76" width="3.56" height="3.56"/><rect x="229.36" y="340.67" width="3.56" height="3.56"/><rect x="230.97" y="340.26" width="3.56" height="3.56"/><rect x="232.57" y="340.91" width="3.56" height="3.56"/><rect x="234.18" y="341.32" width="3.56" height="3.56"/><rect x="235.78" y="341.16" width="3.56" height="3.56"/><rect x="237.39" y="340.99" width="3.56" height="3.56"/><rect x="238.99" y="340.13" width="3.56" height="3.56"/><rect x="240.6" y="341.32" width="3.56" height="3.56"/><rect x="242.2" y="340.59" width="3.56" height="3.56"/><rect x="243.81" y="340.81" width="3.56" height="3.56"/><rect x="245.41" y="340.23" width="3.56" height="3.56"/><rect x="247.01" y="340.62" width="3.56" height="3.56"/><rect x="248.62" y="340.7" width="3.56" height="3.56"/><rect x="250.22" y="340.11" width="3.56" height="3.56"/><rect x="251.83" y="338.95" width="3.56" height="3.56"/><rect x="253.43" y="340.34" width="3.56" height="3.56"/><rect x="255.04" y="340.41" width="3.56" height="3.56"/><rect x="256.64" y="340.28" width="3.56" height="3.56"/><rect x="258.25" y="340.14" width="3.56" height="3.56"/><rect x="259.85" y="339.47" width="3.56" height="3.56"/><rect x="261.46" y="339.84" width="3.56" height="3.56"/><rect x="263.06" y="340.32" width="3.56" height="3.56"/><rect x="264.67" y="340.88" width="3.56" height="3.56"/><rect x="266.27" y="339.68" width="3.56" height="3.56"/><rect x="267.88" y="340.02" width="3.56" height="3.56"/><rect x="269.48" y="339.96" width="3.56" height="3.56"/><rect x="271.09" y="340.06" width="3.56" height="3.56"/><rect x="272.69" y="339.01" width="3.56" height="3.56"/><rect x="274.3" y="339.89" width="3.56" height="3.56"/><rect x="275.9" y="339.35" width="3.56" height="3.56"/><rect x="277.51" y="340.06" width="3.56" height="3.56"/><rect x="279.11" y="339.9" width="3.56" height="3.56"/><rect x="280.72" y="340.15" width="3.56" height="3.56"/><rect x="282.32" y="339.46" width="3.56" height="3.56"/><rect x="283.93" y="339.7" width="3.56" height="3.56"/><rect x="285.53" y="339.58" width="3.56" height="3.56"/><rect x="287.14" y="340.33" width="3.56" height="3.56"/><rect x="288.74" y="340.23" width="3.56" height="3.56"/><rect x="290.35" y="340.06" width="3.56" height="3.56"/><rect x="291.95" y="339.54" width="3.56" height="3.56"/><rect x="293.56" y="339.6" width="3.56" height="3.56"/><rect x="295.16" y="340.29" width="3.56" height="3.56"/><rect x="296.77" y="338.68" width="3.56" height="3.56"/><rect x="298.37" y="340.36" width="3.56" height="3.56"/><rect x="299.98" y="339.51" width="3.56" height="3.56"/><rect x="301.58" y="340.03" width="3.56" height="3.56"/></g>
<path d="M68.6 490 L68.65 489.18 L68.7 488.36 L68.75 487.55 L68.8 486.74 L68.85 485.94 L68.9 485.15 L68.95 484.36 L69 483.58 L69.05 482.81 L69.1 482.05 L69.15 481.3 L69.2 480.56 L69.25 479.83 L69.3 479.11 L69.35 478.4 L69.45 477.02 L69.55 475.69 L69.65 474.42 L69.75 473.21 L69.85 472.06 L69.95 470.98 L70.05 469.97 L70.15 469.04 L70.25 468.13 L70.35 467.25 L70.45 466.4 L70.55 465.57 L70.65 464.77 L70.75 463.99 L70.85 463.23 L70.95 462.49 L71.05 461.78 L71.2 460.76 L71.35 459.78 L71.5 458.85 L71.65 457.97 L71.8 457.13 L71.95 456.33 L72.1 455.58 L72.25 454.87 L72.4 454.18 L72.6 453.31 L72.8 452.48 L73 451.68 L73.2 450.92 L73.4 450.2 L73.6 449.5 L73.85 448.67 L74.1 447.88 L74.35 447.13 L74.6 446.4 L74.85 445.69 L75.1 445 L75.35 444.33 L75.65 443.56 L75.95 442.82 L76.25 442.1 L76.55 441.42 L76.85 440.75 L77.15 440.11 L77.5 439.37 L77.85 438.66 L78.2 437.96 L78.55 437.27 L78.9 436.58 L79.25 435.9 L79.6 435.21 L79.95 434.53 L80.3 433.85 L80.65 433.19 L81 432.54 L81.35 431.9 L81.7 431.26 L82.05 430.64 L82.4 430.03 L82.8 429.35 L83.2 428.68 L83.6 428.02 L84 427.38 L84.4 426.74 L84.8 426.09 L85.2 425.45 L85.6 424.83 L86 424.22 L86.4 423.63 L86.85 423 L87.3 422.41 L87.8 421.82 L88.3 421.3 L88.8 420.79 L89.3 420.29 L89.85 419.76 L90.4 419.25 L90.95 418.76 L91.5 418.3 L92.05 417.86 L92.65 417.41 L93.25 417.01 L93.9 416.63 L94.55 416.3 L95.2 416.03 L95.3 416" fill="none" stroke="#000" stroke-width="2.2"/>
<path d="M80.28 424.8V460.1 M78.48 424.8h3.6 M78.48 460.1h3.6M81.89 429.02V433.56 M80.09 429.02h3.6 M80.09 433.56h3.6M83.49 426.14V433.87 M81.69 426.14h3.6 M81.69 433.87h3.6M85.1 421.67V427.43 M83.3 421.67h3.6 M83.3 427.43h3.6M86.7 418.94V426.18 M84.9 418.94h3.6 M84.9 426.18h3.6M88.31 418.18V423.12 M86.51 418.18h3.6 M86.51 423.12h3.6M89.91 415.55V423.57 M88.11 415.55h3.6 M88.11 423.57h3.6M91.52 415.87V425.36 M89.72 415.87h3.6 M89.72 425.36h3.6M93.12 417.6V424.1 M91.32 417.6h3.6 M91.32 424.1h3.6M94.73 415.21V420.75 M92.93 415.21h3.6 M92.93 420.75h3.6M96.33 414.64V421.25 M94.53 414.64h3.6 M94.53 421.25h3.6M97.94 413.93V419.74 M96.14 413.93h3.6 M96.14 419.74h3.6M99.54 410.3V417.24 M97.74 410.3h3.6 M97.74 417.24h3.6M101.15 412.72V419.85 M99.35 412.72h3.6 M99.35 419.85h3.6M102.75 410.23V416.08 M100.95 410.23h3.6 M100.95 416.08h3.6M104.36 410.32V415.14 M102.56 410.32h3.6 M102.56 415.14h3.6M105.96 403.35V411.1 M104.16 403.35h3.6 M104.16 411.1h3.6M107.57 408.6V413.67 M105.77 408.6h3.6 M105.77 413.67h3.6M109.17 408.67V416.75 M107.37 408.67h3.6 M107.37 416.75h3.6M110.78 404.38V413.39 M108.98 404.38h3.6 M108.98 413.39h3.6M112.38 406.92V412.92 M110.58 406.92h3.6 M110.58 412.92h3.6M113.98 402.15V411.57 M112.18 402.15h3.6 M112.18 411.57h3.6M115.59 405.23V413.41 M113.79 405.23h3.6 M113.79 413.41h3.6M117.19 403.84V411.81 M115.39 403.84h3.6 M115.39 411.81h3.6M118.8 402.58V409.32 M117 402.58h3.6 M117 409.32h3.6M120.4 402.89V412 M118.6 402.89h3.6 M118.6 412h3.6M122.01 401.21V407.22 M120.21 401.21h3.6 M120.21 407.22h3.6M123.61 401.9V410.79 M121.81 401.9h3.6 M121.81 410.79h3.6M125.22 403.73V410.9 M123.42 403.73h3.6 M123.42 410.9h3.6M126.82 400.59V409.68 M125.02 400.59h3.6 M125.02 409.68h3.6M128.43 402.96V408.25 M126.63 402.96h3.6 M126.63 408.25h3.6M130.03 401.3V407.15 M128.23 401.3h3.6 M128.23 407.15h3.6M131.64 400.77V409.79 M129.84 400.77h3.6 M129.84 409.79h3.6M133.24 401.79V407.33 M131.44 401.79h3.6 M131.44 407.33h3.6M134.85 401.36V410.65 M133.05 401.36h3.6 M133.05 410.65h3.6M136.45 400.24V408.16 M134.65 400.24h3.6 M134.65 408.16h3.6M138.06 399.14V406.77 M136.26 399.14h3.6 M136.26 406.77h3.6M139.66 400.59V407.86 M137.86 400.59h3.6 M137.86 407.86h3.6M141.27 400.76V406.62 M139.47 400.76h3.6 M139.47 406.62h3.6M142.87 400.73V408.54 M141.07 400.73h3.6 M141.07 408.54h3.6M144.48 399.61V406.9 M142.68 399.61h3.6 M142.68 406.9h3.6M146.08 399.63V406.48 M144.28 399.63h3.6 M144.28 406.48h3.6M147.69 400.45V407.39 M145.89 400.45h3.6 M145.89 407.39h3.6M149.29 400.67V404.42 M147.49 400.67h3.6 M147.49 404.42h3.6M150.9 399.95V404.49 M149.1 399.95h3.6 M149.1 404.49h3.6M152.5 398.02V405.56 M150.7 398.02h3.6 M150.7 405.56h3.6M154.11 400V407.44 M152.31 400h3.6 M152.31 407.44h3.6M155.71 401.02V405.64 M153.91 401.02h3.6 M153.91 405.64h3.6M157.32 400.2V405.64 M155.52 400.2h3.6 M155.52 405.64h3.6M158.92 401.4V408.21 M157.12 401.4h3.6 M157.12 408.21h3.6M160.53 401.27V405.55 M158.73 401.27h3.6 M158.73 405.55h3.6M162.13 399.15V405.75 M160.33 399.15h3.6 M160.33 405.75h3.6M163.74 403.21V406.81 M161.94 403.21h3.6 M161.94 406.81h3.6M165.34 400.39V407.25 M163.54 400.39h3.6 M163.54 407.25h3.6M166.95 399.58V406.84 M165.15 399.58h3.6 M165.15 406.84h3.6M168.55 400.26V404.46 M166.75 400.26h3.6 M166.75 404.46h3.6M170.16 400.41V405.68 M168.36 400.41h3.6 M168.36 405.68h3.6M171.76 402.23V405.91 M169.96 402.23h3.6 M169.96 405.91h3.6M173.37 401.17V404.82 M171.57 401.17h3.6 M171.57 404.82h3.6M174.97 399.68V404.76 M173.17 399.68h3.6 M173.17 404.76h3.6M176.58 398.67V402.67 M174.78 398.67h3.6 M174.78 402.67h3.6M178.18 398.34V403.39 M176.38 398.34h3.6 M176.38 403.39h3.6M179.78 400.16V407.2 M177.98 400.16h3.6 M177.98 407.2h3.6M181.39 399.11V406.02 M179.59 399.11h3.6 M179.59 406.02h3.6M182.99 400.34V407.82 M181.19 400.34h3.6 M181.19 407.82h3.6M184.6 397.66V404.42 M182.8 397.66h3.6 M182.8 404.42h3.6M186.2 398.11V404.66 M184.4 398.11h3.6 M184.4 404.66h3.6M187.81 399.98V404.92 M186.01 399.98h3.6 M186.01 404.92h3.6M189.41 399.65V407.19 M187.61 399.65h3.6 M187.61 407.19h3.6M191.02 401.08V405.15 M189.22 401.08h3.6 M189.22 405.15h3.6M192.62 398.19V404.06 M190.82 398.19h3.6 M190.82 404.06h3.6M194.23 399.48V403.63 M192.43 399.48h3.6 M192.43 403.63h3.6M195.83 400.02V406.31 M194.03 400.02h3.6 M194.03 406.31h3.6M197.44 399.19V404.62 M195.64 399.19h3.6 M195.64 404.62h3.6M199.04 401.71V405.84 M197.24 401.71h3.6 M197.24 405.84h3.6M200.65 400.4V404.14 M198.85 400.4h3.6 M198.85 404.14h3.6M202.25 400.83V404.76 M200.45 400.83h3.6 M200.45 404.76h3.6M203.86 398.95V405.37 M202.06 398.95h3.6 M202.06 405.37h3.6M205.46 394.33V402.14 M203.66 394.33h3.6 M203.66 402.14h3.6M207.07 397.66V405.76 M205.27 397.66h3.6 M205.27 405.76h3.6M208.67 399.69V404.33 M206.87 399.69h3.6 M206.87 404.33h3.6M210.28 400.09V406.32 M208.48 400.09h3.6 M208.48 406.32h3.6M211.88 396.71V403.48 M210.08 396.71h3.6 M210.08 403.48h3.6M213.49 397.72V402.39 M211.69 397.72h3.6 M211.69 402.39h3.6M215.09 398.49V401.99 M213.29 398.49h3.6 M213.29 401.99h3.6M216.7 400.51V404.15 M214.9 400.51h3.6 M214.9 404.15h3.6M218.3 397.59V404.43 M216.5 397.59h3.6 M216.5 404.43h3.6M219.91 399.53V404.12 M218.11 399.53h3.6 M218.11 404.12h3.6M221.51 399.82V404.37 M219.71 399.82h3.6 M219.71 404.37h3.6M223.12 399.61V404.1 M221.32 399.61h3.6 M221.32 404.1h3.6M224.72 397.42V402.34 M222.92 397.42h3.6 M222.92 402.34h3.6M226.33 397.85V404.31 M224.53 397.85h3.6 M224.53 404.31h3.6M227.93 397.91V405.86 M226.13 397.91h3.6 M226.13 405.86h3.6M229.54 400.5V407.36 M227.74 400.5h3.6 M227.74 407.36h3.6M231.14 396.62V402.8 M229.34 396.62h3.6 M229.34 402.8h3.6M232.75 399.86V403.58 M230.95 399.86h3.6 M230.95 403.58h3.6M234.35 397.51V401.83 M232.55 397.51h3.6 M232.55 401.83h3.6M235.96 399.83V403.75 M234.16 399.83h3.6 M234.16 403.75h3.6M237.56 398.43V404.32 M235.76 398.43h3.6 M235.76 404.32h3.6M239.17 395.89V403.65 M237.37 395.89h3.6 M237.37 403.65h3.6M240.77 396.07V404.11 M238.97 396.07h3.6 M238.97 404.11h3.6M242.38 397.6V402.81 M240.58 397.6h3.6 M240.58 402.81h3.6M243.98 400.86V404.81 M242.18 400.86h3.6 M242.18 404.81h3.6M245.59 398.63V403.53 M243.79 398.63h3.6 M243.79 403.53h3.6M247.19 400.1V403.65 M245.39 400.1h3.6 M245.39 403.65h3.6M248.79 396.38V401.96 M246.99 396.38h3.6 M246.99 401.96h3.6M250.4 397.29V401.74 M248.6 397.29h3.6 M248.6 401.74h3.6M252 398.45V404.66 M250.2 398.45h3.6 M250.2 404.66h3.6M253.61 399.09V404.3 M251.81 399.09h3.6 M251.81 404.3h3.6M255.21 397.28V405.1 M253.41 397.28h3.6 M253.41 405.1h3.6M256.82 400.44V404.82 M255.02 400.44h3.6 M255.02 404.82h3.6M258.42 398.62V404.75 M256.62 398.62h3.6 M256.62 404.75h3.6M260.03 396.04V403.02 M258.23 396.04h3.6 M258.23 403.02h3.6M261.63 398.89V404.2 M259.83 398.89h3.6 M259.83 404.2h3.6M263.24 399.17V403.02 M261.44 399.17h3.6 M261.44 403.02h3.6M264.84 397.34V404.77 M263.04 397.34h3.6 M263.04 404.77h3.6M266.45 395.15V401.84 M264.65 395.15h3.6 M264.65 401.84h3.6M268.05 396.21V399.8 M266.25 396.21h3.6 M266.25 399.8h3.6M269.66 395.91V402.74 M267.86 395.91h3.6 M267.86 402.74h3.6M271.26 395.73V401.52 M269.46 395.73h3.6 M269.46 401.52h3.6M272.87 396.01V403.2 M271.07 396.01h3.6 M271.07 403.2h3.6M274.47 399.25V403.97 M272.67 399.25h3.6 M272.67 403.97h3.6M276.08 395.06V402.97 M274.28 395.06h3.6 M274.28 402.97h3.6M277.68 396.61V403.82 M275.88 396.61h3.6 M275.88 403.82h3.6M279.29 400.26V405.12 M277.49 400.26h3.6 M277.49 405.12h3.6M280.89 397.13V401.68 M279.09 397.13h3.6 M279.09 401.68h3.6M282.5 396.68V402.14 M280.7 396.68h3.6 M280.7 402.14h3.6M284.1 397.16V403.79 M282.3 397.16h3.6 M282.3 403.79h3.6M285.71 398.26V405.53 M283.91 398.26h3.6 M283.91 405.53h3.6M287.31 397.57V401.49 M285.51 397.57h3.6 M285.51 401.49h3.6M288.92 395.48V399.64 M287.12 395.48h3.6 M287.12 399.64h3.6M290.52 401.22V406.63 M288.72 401.22h3.6 M288.72 406.63h3.6M292.13 397.03V404.67 M290.33 397.03h3.6 M290.33 404.67h3.6M293.73 396.53V404.59 M291.93 396.53h3.6 M291.93 404.59h3.6M295.34 397.49V402.35 M293.54 397.49h3.6 M293.54 402.35h3.6M296.94 397.5V402.05 M295.14 397.5h3.6 M295.14 402.05h3.6M298.55 396.62V402.13 M296.75 396.62h3.6 M296.75 402.13h3.6M300.15 395.63V401.54 M298.35 395.63h3.6 M298.35 401.54h3.6M301.76 397.6V405.48 M299.96 397.6h3.6 M299.96 405.48h3.6M303.36 397.86V404.84 M301.56 397.86h3.6 M301.56 404.84h3.6" stroke="#222" stroke-width="0.8" fill="none" opacity="1"/>
<g fill="#b0b0b0" stroke="#000" stroke-width="0.9"><circle cx="80.28" cy="436.3" r="2.24"/><circle cx="81.89" cy="431.29" r="2.24"/><circle cx="83.49" cy="430" r="2.24"/><circle cx="85.1" cy="424.55" r="2.24"/><circle cx="86.7" cy="422.56" r="2.24"/><circle cx="88.31" cy="420.65" r="2.24"/><circle cx="89.91" cy="419.56" r="2.24"/><circle cx="91.52" cy="420.61" r="2.24"/><circle cx="93.12" cy="420.85" r="2.24"/><circle cx="94.73" cy="417.98" r="2.24"/><circle cx="96.33" cy="417.95" r="2.24"/><circle cx="97.94" cy="416.83" r="2.24"/><circle cx="99.54" cy="413.77" r="2.24"/><circle cx="101.15" cy="416.29" r="2.24"/><circle cx="102.75" cy="413.16" r="2.24"/><circle cx="104.36" cy="412.73" r="2.24"/><circle cx="105.96" cy="407.22" r="2.24"/><circle cx="107.57" cy="411.14" r="2.24"/><circle cx="109.17" cy="412.71" r="2.24"/><circle cx="110.78" cy="408.88" r="2.24"/><circle cx="112.38" cy="409.92" r="2.24"/><circle cx="113.98" cy="406.86" r="2.24"/><circle cx="115.59" cy="409.32" r="2.24"/><circle cx="117.19" cy="407.82" r="2.24"/><circle cx="118.8" cy="405.95" r="2.24"/><circle cx="120.4" cy="407.45" r="2.24"/><circle cx="122.01" cy="404.22" r="2.24"/><circle cx="123.61" cy="406.35" r="2.24"/><circle cx="125.22" cy="407.31" r="2.24"/><circle cx="126.82" cy="405.14" r="2.24"/><circle cx="128.43" cy="405.6" r="2.24"/><circle cx="130.03" cy="404.22" r="2.24"/><circle cx="131.64" cy="405.28" r="2.24"/><circle cx="133.24" cy="404.56" r="2.24"/><circle cx="134.85" cy="406" r="2.24"/><circle cx="136.45" cy="404.2" r="2.24"/><circle cx="138.06" cy="402.95" r="2.24"/><circle cx="139.66" cy="404.22" r="2.24"/><circle cx="141.27" cy="403.69" r="2.24"/><circle cx="142.87" cy="404.64" r="2.24"/><circle cx="144.48" cy="403.25" r="2.24"/><circle cx="146.08" cy="403.06" r="2.24"/><circle cx="147.69" cy="403.92" r="2.24"/><circle cx="149.29" cy="402.54" r="2.24"/><circle cx="150.9" cy="402.22" r="2.24"/><circle cx="152.5" cy="401.79" r="2.24"/><circle cx="154.11" cy="403.72" r="2.24"/><circle cx="155.71" cy="403.33" r="2.24"/><circle cx="157.32" cy="402.92" r="2.24"/><circle cx="158.92" cy="404.81" r="2.24"/><circle cx="160.53" cy="403.41" r="2.24"/><circle cx="162.13" cy="402.45" r="2.24"/><circle cx="163.74" cy="405.01" r="2.24"/><circle cx="165.34" cy="403.82" r="2.24"/><circle cx="166.95" cy="403.21" r="2.24"/><circle cx="168.55" cy="402.36" r="2.24"/><circle cx="170.16" cy="403.04" r="2.24"/><circle cx="171.76" cy="404.07" r="2.24"/><circle cx="173.37" cy="403" r="2.24"/><circle cx="174.97" cy="402.22" r="2.24"/><circle cx="176.58" cy="400.67" r="2.24"/><circle cx="178.18" cy="400.86" r="2.24"/><circle cx="179.78" cy="403.68" r="2.24"/><circle cx="181.39" cy="402.57" r="2.24"/><circle cx="182.99" cy="404.08" r="2.24"/><circle cx="184.6" cy="401.04" r="2.24"/><circle cx="186.2" cy="401.38" r="2.24"/><circle cx="187.81" cy="402.45" r="2.24"/><circle cx="189.41" cy="403.42" r="2.24"/><circle cx="191.02" cy="403.11" r="2.24"/><circle cx="192.62" cy="401.13" r="2.24"/><circle cx="194.23" cy="401.56" r="2.24"/><circle cx="195.83" cy="403.17" r="2.24"/><circle cx="197.44" cy="401.91" r="2.24"/><circle cx="199.04" cy="403.77" r="2.24"/><circle cx="200.65" cy="402.27" r="2.24"/><circle cx="202.25" cy="402.8" r="2.24"/><circle cx="203.86" cy="402.16" r="2.24"/><circle cx="205.46" cy="398.23" r="2.24"/><circle cx="207.07" cy="401.71" r="2.24"/><circle cx="208.67" cy="402.01" r="2.24"/><circle cx="210.28" cy="403.21" r="2.24"/><circle cx="211.88" cy="400.09" r="2.24"/><circle cx="213.49" cy="400.06" r="2.24"/><circle cx="215.09" cy="400.24" r="2.24"/><circle cx="216.7" cy="402.33" r="2.24"/><circle cx="218.3" cy="401.01" r="2.24"/><circle cx="219.91" cy="401.82" r="2.24"/><circle cx="221.51" cy="402.1" r="2.24"/><circle cx="223.12" cy="401.86" r="2.24"/><circle cx="224.72" cy="399.88" r="2.24"/><circle cx="226.33" cy="401.08" r="2.24"/><circle cx="227.93" cy="401.88" r="2.24"/><circle cx="229.54" cy="403.93" r="2.24"/><circle cx="231.14" cy="399.71" r="2.24"/><circle cx="232.75" cy="401.72" r="2.24"/><circle cx="234.35" cy="399.67" r="2.24"/><circle cx="235.96" cy="401.79" r="2.24"/><circle cx="237.56" cy="401.38" r="2.24"/><circle cx="239.17" cy="399.77" r="2.24"/><circle cx="240.77" cy="400.09" r="2.24"/><circle cx="242.38" cy="400.21" r="2.24"/><circle cx="243.98" cy="402.83" r="2.24"/><circle cx="245.59" cy="401.08" r="2.24"/><circle cx="247.19" cy="401.87" r="2.24"/><circle cx="248.79" cy="399.17" r="2.24"/><circle cx="250.4" cy="399.51" r="2.24"/><circle cx="252" cy="401.56" r="2.24"/><circle cx="253.61" cy="401.69" r="2.24"/><circle cx="255.21" cy="401.19" r="2.24"/><circle cx="256.82" cy="402.63" r="2.24"/><circle cx="258.42" cy="401.68" r="2.24"/><circle cx="260.03" cy="399.53" r="2.24"/><circle cx="261.63" cy="401.55" r="2.24"/><circle cx="263.24" cy="401.09" r="2.24"/><circle cx="264.84" cy="401.06" r="2.24"/><circle cx="266.45" cy="398.49" r="2.24"/><circle cx="268.05" cy="398.01" r="2.24"/><circle cx="269.66" cy="399.32" r="2.24"/><circle cx="271.26" cy="398.63" r="2.24"/><circle cx="272.87" cy="399.61" r="2.24"/><circle cx="274.47" cy="401.61" r="2.24"/><circle cx="276.08" cy="399.01" r="2.24"/><circle cx="277.68" cy="400.21" r="2.24"/><circle cx="279.29" cy="402.69" r="2.24"/><circle cx="280.89" cy="399.4" r="2.24"/><circle cx="282.5" cy="399.41" r="2.24"/><circle cx="284.1" cy="400.47" r="2.24"/><circle cx="285.71" cy="401.89" r="2.24"/><circle cx="287.31" cy="399.53" r="2.24"/><circle cx="288.92" cy="397.56" r="2.24"/><circle cx="290.52" cy="403.92" r="2.24"/><circle cx="292.13" cy="400.85" r="2.24"/><circle cx="293.73" cy="400.56" r="2.24"/><circle cx="295.34" cy="399.92" r="2.24"/><circle cx="296.94" cy="399.77" r="2.24"/><circle cx="298.55" cy="399.38" r="2.24"/><circle cx="300.15" cy="398.58" r="2.24"/><circle cx="301.76" cy="401.54" r="2.24"/><circle cx="303.36" cy="401.35" r="2.24"/></g>
</g>
<path d="M67.8 489.4h1.9M308.6 489.4h-1.9M67.8 484.05h1.9M308.6 484.05h-1.9M67.8 479.52h1.9M308.6 479.52h-1.9M67.8 475.6h1.9M308.6 475.6h-1.9M67.8 472.14h1.9M308.6 472.14h-1.9M67.8 469.05h3.6M308.6 469.05h-3.6M67.8 448.7h1.9M308.6 448.7h-1.9M67.8 436.8h1.9M308.6 436.8h-1.9M67.8 428.35h1.9M308.6 428.35h-1.9M67.8 421.8h1.9M308.6 421.8h-1.9M67.8 416.45h1.9M308.6 416.45h-1.9M67.8 411.92h1.9M308.6 411.92h-1.9M67.8 408h1.9M308.6 408h-1.9M67.8 404.54h1.9M308.6 404.54h-1.9M67.8 401.45h3.6M308.6 401.45h-3.6M67.8 381.1h1.9M308.6 381.1h-1.9M67.8 369.2h1.9M308.6 369.2h-1.9M67.8 360.75h1.9M308.6 360.75h-1.9M67.8 354.2h1.9M308.6 354.2h-1.9M67.8 348.85h1.9M308.6 348.85h-1.9M67.8 344.32h1.9M308.6 344.32h-1.9M67.8 340.4h1.9M308.6 340.4h-1.9M67.8 336.94h1.9M308.6 336.94h-1.9M67.8 333.85h3.6M308.6 333.85h-3.6M179.25 489.4v-3.6M179.25 328.6v3.6M290.7 489.4v-3.6M290.7 328.6v3.6" stroke="#4a4a4a" stroke-width="0.9" fill="none"/>
<rect x="67.8" y="328.6" width="240.8" height="160.8" fill="none" stroke="#4a4a4a" stroke-width="1.1"/>
<text x="51.87" y="339.95" font-size="17.5">0</text>
<path d="M48.55 339.95 L46.99 339.95 L46.99 331.13 L43.94 331.13 L43.94 330.01 C45.92 330.01 46.73 329.49 47.09 327.54 L48.55 327.54 Z" fill="#000"/>
<path d="M58.28 407.55 L56.72 407.55 L56.72 398.73 L53.67 398.73 L53.67 397.61 C55.65 397.61 56.46 397.09 56.82 395.14 L58.28 395.14 Z" fill="#000"/>
<text x="37.27" y="475.15" font-size="17.5">0</text>
<text x="47" y="475.15" font-size="17.5">.</text>
<path d="M58.27 475.15 L56.72 475.15 L56.72 466.33 L53.67 466.33 L53.67 465.21 C55.65 465.21 56.45 464.69 56.82 462.74 L58.27 462.74 Z" fill="#000"/>
<text x="55.64" y="508.6" font-size="17.5" fill="#000">0.0</text>
<text x="167.01" y="508.6" font-size="17.5" fill="#000">2.5</text>
<text x="278.53" y="508.6" font-size="17.5" fill="#000">5.0</text>
<text x="147.69" y="531.9" font-size="17.1" fill="#000">Time (min)</text>
<text transform="translate(24 461.78) rotate(-90)" x="0" y="0" font-size="17.1">Intensity (AU)</text>
<rect x="242.6" y="455.2" width="4" height="4" fill="#aaa" stroke="#2540c0" stroke-width="0.8"/>
<text x="253.24" y="461.3" font-size="15.6" fill="#2a48cc">dsLag</text>
<circle cx="244.6" cy="472.9" r="2.1" fill="#bbb" stroke="#111" stroke-width="0.8"/>
<text x="253.47" y="476.9" font-size="15.6" fill="#000">ssLag</text>
<text x="345.78" y="313.9" font-size="21" font-weight="bold" fill="#000">c</text>
<text x="602.34" y="319" font-size="20.3" fill="#000">LTag</text>
<clipPath id="cc"><rect x="404.3" y="328.8" width="241.1" height="160.5"/></clipPath>
<g clip-path="url(#cc)">
<path d="M418.6 490 L418.65 489.16 L418.7 488.32 L418.75 487.49 L418.8 486.66 L418.85 485.84 L418.9 485.02 L418.95 484.21 L419 483.4 L419.05 482.59 L419.1 481.8 L419.15 481.01 L419.2 480.22 L419.25 479.44 L419.3 478.67 L419.35 477.91 L419.4 477.15 L419.45 476.4 L419.5 475.66 L419.55 474.93 L419.6 474.2 L419.65 473.49 L419.7 472.78 L419.8 471.39 L419.9 470.05 L420 468.74 L420.1 467.48 L420.2 466.27 L420.3 465.1 L420.4 463.97 L420.5 462.85 L420.6 461.75 L420.7 460.66 L420.8 459.59 L420.9 458.54 L421 457.51 L421.1 456.49 L421.2 455.5 L421.3 454.51 L421.4 453.55 L421.5 452.61 L421.6 451.68 L421.7 450.77 L421.8 449.89 L421.9 449.02 L422 448.17 L422.1 447.33 L422.2 446.52 L422.3 445.73 L422.4 444.96 L422.5 444.2 L422.6 443.47 L422.7 442.76 L422.85 441.73 L423 440.74 L423.15 439.77 L423.3 438.82 L423.45 437.89 L423.6 436.97 L423.75 436.07 L423.9 435.18 L424.05 434.31 L424.2 433.46 L424.35 432.63 L424.5 431.81 L424.65 431.01 L424.8 430.23 L424.95 429.46 L425.1 428.71 L425.25 427.98 L425.4 427.27 L425.55 426.57 L425.75 425.66 L425.95 424.79 L426.15 423.94 L426.35 423.13 L426.55 422.34 L426.75 421.59 L426.95 420.86 L427.15 420.17 L427.4 419.33 L427.65 418.52 L427.9 417.74 L428.15 416.97 L428.4 416.22 L428.65 415.5 L428.9 414.79 L429.15 414.1 L429.4 413.43 L429.7 412.65 L430 411.9 L430.3 411.16 L430.6 410.45 L430.9 409.75 L431.2 409.07 L431.5 408.42 L431.8 407.77 L432.15 407.04 L432.5 406.32 L432.85 405.63 L433.2 404.94 L433.55 404.26 L433.9 403.6 L434.25 402.95 L434.6 402.31 L434.95 401.69 L435.3 401.08 L435.7 400.41 L436.1 399.75 L436.5 399.11 L436.9 398.48 L437.3 397.86 L437.7 397.26 L438.1 396.67 L438.5 396.09 L438.95 395.45 L439.4 394.82 L439.85 394.2 L440.3 393.59 L440.75 392.98 L441.2 392.37 L441.65 391.77 L442.1 391.17 L442.55 390.57 L443 389.97 L443.45 389.38 L443.9 388.8 L444.35 388.22 L444.8 387.65 L445.25 387.09 L445.7 386.53 L446.15 385.98 L446.6 385.44 L447.1 384.85 L447.6 384.26 L448.1 383.69 L448.6 383.13 L449.1 382.58 L449.6 382.04 L450.1 381.51 L450.6 381 L451.1 380.5 L451.6 380.01 L452.15 379.48 L452.7 378.96 L453.25 378.44 L453.8 377.94 L454.35 377.45 L454.9 376.96 L455.45 376.48 L456 376.01 L456.55 375.55 L457.1 375.09 L457.65 374.64 L458.2 374.2 L458.75 373.76 L459.35 373.29 L459.95 372.83 L460.55 372.37 L461.15 371.91 L461.75 371.46 L462.35 371.01 L462.95 370.57 L463.55 370.12 L464.15 369.69 L464.75 369.26 L465.35 368.83 L465.95 368.42 L466.55 368.01 L467.15 367.62 L467.75 367.24 L468.35 366.87 L469 366.49 L469.65 366.14 L470.3 365.8 L470.95 365.48 L471.6 365.17 L472.25 364.87 L472.9 364.58 L473.55 364.31 L474.2 364.04 L474.85 363.78 L475.55 363.5 L476.25 363.23 L476.95 362.97 L477.65 362.72 L478.35 362.46 L479.05 362.21 L479.75 361.96 L480.45 361.71 L481.15 361.47 L481.85 361.23 L482.55 361 L483.25 360.77 L483.95 360.55 L484.65 360.33 L485.35 360.12 L486.05 359.92 L486.75 359.73 L487.45 359.54 L488.15 359.36 L488.85 359.19 L489.55 359.03 L490.25 358.87 L490.95 358.72 L491.65 358.57 L492.35 358.42 L493.05 358.28 L493.75 358.14 L494.45 357.99 L495.15 357.85 L495.85 357.71 L496.55 357.57 L497.25 357.43 L497.95 357.28 L498.65 357.14 L499.35 357 L500.05 356.86 L500.75 356.72 L501.45 356.59 L502.15 356.45 L502.85 356.32 L503.55 356.19 L504.25 356.06 L504.95 355.93 L505.65 355.8 L506.35 355.68 L507.05 355.55 L507.75 355.43 L508.45 355.31 L509.15 355.19 L509.85 355.07 L510.55 354.95 L511.25 354.84 L511.95 354.72 L512.65 354.61 L513.35 354.49 L514.05 354.38 L514.75 354.26 L515.45 354.15 L516.15 354.04 L516.85 353.92 L517.55 353.81 L518.25 353.69 L518.95 353.58 L519.65 353.46 L520.35 353.34 L521.05 353.22 L521.75 353.1 L522.45 352.97 L523.15 352.85 L523.85 352.72 L524.55 352.59 L525.25 352.46 L525.95 352.33 L526.65 352.2 L527.35 352.07 L528.05 351.94 L528.75 351.82 L529.45 351.69 L530.15 351.57 L530.85 351.45 L531.55 351.33 L532.25 351.22 L532.95 351.11 L533.65 351 L534.35 350.9 L535.05 350.81 L535.75 350.72 L536.45 350.63 L537.15 350.55 L537.85 350.47 L538.55 350.39 L539.25 350.32 L539.95 350.24 L540.65 350.17 L541.35 350.1 L542.05 350.03 L542.75 349.96 L543.45 349.9 L544.15 349.83 L544.85 349.77 L545.55 349.7 L546.25 349.64 L546.95 349.58 L547.65 349.52 L548.35 349.46 L549.05 349.41 L549.75 349.35 L550.45 349.3 L551.15 349.24 L551.85 349.19 L552.55 349.13 L553.25 349.08 L553.95 349.03 L554.65 348.98 L555.35 348.93 L556.05 348.88 L556.75 348.83 L557.45 348.78 L558.15 348.73 L558.85 348.68 L559.55 348.64 L560.25 348.59 L560.95 348.54 L561.65 348.5 L562.35 348.45 L563.05 348.4 L563.75 348.36 L564.45 348.31 L565.15 348.27 L565.85 348.22 L566.55 348.18 L567.25 348.14 L567.95 348.09 L568.65 348.05 L569.35 348.01 L570.05 347.97 L570.75 347.92 L571.45 347.88 L572.15 347.84 L572.85 347.8 L573.55 347.77 L574.25 347.73 L574.95 347.69 L575.65 347.65 L576.35 347.62 L577.05 347.58 L577.75 347.55 L578.45 347.51 L579.15 347.48 L579.85 347.45 L580.55 347.42 L581.25 347.39 L581.95 347.36 L582.65 347.33 L583.35 347.3 L584.05 347.27 L584.75 347.25 L585.45 347.22 L586.15 347.19 L586.85 347.17 L587.55 347.14 L588.25 347.11 L588.95 347.09 L589.65 347.06 L590.35 347.03 L591.05 347.01 L591.75 346.98 L592.45 346.96 L593.15 346.93 L593.85 346.91 L594.55 346.89 L595.25 346.86 L595.95 346.84 L596.65 346.82 L597.35 346.8 L598.05 346.78 L598.75 346.76 L599.45 346.74 L600.15 346.72 L600.85 346.71 L601.55 346.69 L602.25 346.67 L602.95 346.66 L603.65 346.65 L604.35 346.63 L605.05 346.62 L605.75 346.61 L606.45 346.6 L607.15 346.6 L607.85 346.59 L608.55 346.58 L609.25 346.57 L609.95 346.57 L610.65 346.56 L611.35 346.55 L612.05 346.54 L612.75 346.54 L613.45 346.53 L614.15 346.52 L614.85 346.52 L615.55 346.51 L616.25 346.5 L616.95 346.5 L617.65 346.49 L618.35 346.49 L619.05 346.48 L619.75 346.47 L620.45 346.47 L621.15 346.46 L621.85 346.46 L622.55 346.45 L623.25 346.45 L623.95 346.44 L624.65 346.44 L625.35 346.44 L626.05 346.43 L626.75 346.43 L627.45 346.42 L628.15 346.42 L628.85 346.42 L629.55 346.42 L630.25 346.41 L630.95 346.41 L631.65 346.41 L632.35 346.41 L633.05 346.4 L633.75 346.4 L634.45 346.4 L635.15 346.4 L635.85 346.4 L636.55 346.4 L637.2 346.4" fill="none" stroke="#1238f5" stroke-width="2.1"/>
<path d="M417.25 460.1V480.1 M415.45 460.1h3.6 M415.45 480.1h3.6M418.96 437.9V461.9 M417.16 437.9h3.6 M417.16 461.9h3.6M420.68 444.1V472.1 M418.88 444.1h3.6 M418.88 472.1h3.6M422.39 456.2V480.2 M420.59 456.2h3.6 M420.59 480.2h3.6M424.1 465.6V485.6 M422.3 465.6h3.6 M422.3 485.6h3.6M425.81 454.8V478.8 M424.01 454.8h3.6 M424.01 478.8h3.6M427.52 438V466 M425.72 438h3.6 M425.72 466h3.6M429.23 428V452 M427.43 428h3.6 M427.43 452h3.6M430.95 427.8V447.8 M429.15 427.8h3.6 M429.15 447.8h3.6M432.66 422V438 M430.86 422h3.6 M430.86 438h3.6M434.37 417V431 M432.57 417h3.6 M432.57 431h3.6M436.08 412V424 M434.28 412h3.6 M434.28 424h3.6M437.79 408V418 M435.99 408h3.6 M435.99 418h3.6M439.5 400.59V406.46 M437.7 400.59h3.6 M437.7 406.46h3.6M441.22 395.47V402.5 M439.42 395.47h3.6 M439.42 402.5h3.6M442.93 390.76V398.78 M441.13 390.76h3.6 M441.13 398.78h3.6M444.64 389.08V394.81 M442.84 389.08h3.6 M442.84 394.81h3.6M446.35 386.23V394.33 M444.55 386.23h3.6 M444.55 394.33h3.6M448.06 385.25V389.51 M446.26 385.25h3.6 M446.26 389.51h3.6M449.77 382.42V387.06 M447.97 382.42h3.6 M447.97 387.06h3.6M451.49 379.84V386.44 M449.69 379.84h3.6 M449.69 386.44h3.6M453.2 377.95V383 M451.4 377.95h3.6 M451.4 383h3.6M454.91 375.52V380.81 M453.11 375.52h3.6 M453.11 380.81h3.6M456.62 373.55V379.96 M454.82 373.55h3.6 M454.82 379.96h3.6M458.33 370.79V377.66 M456.53 370.79h3.6 M456.53 377.66h3.6M460.04 371.25V374.74 M458.24 371.25h3.6 M458.24 374.74h3.6M461.75 371.4V374.36 M459.95 371.4h3.6 M459.95 374.36h3.6M463.47 368.6V370.5 M461.67 368.6h3.6 M461.67 370.5h3.6M465.18 368.36V371.8 M463.38 368.36h3.6 M463.38 371.8h3.6M466.89 365.86V368.61 M465.09 365.86h3.6 M465.09 368.61h3.6M468.6 365.33V368.61 M466.8 365.33h3.6 M466.8 368.61h3.6M470.31 364.41V367.17 M468.51 364.41h3.6 M468.51 367.17h3.6M472.02 363.56V366.9 M470.22 363.56h3.6 M470.22 366.9h3.6M473.74 362.87V366.49 M471.94 362.87h3.6 M471.94 366.49h3.6M475.45 363.32V365.73 M473.65 363.32h3.6 M473.65 365.73h3.6M477.16 362.69V364.56 M475.36 362.69h3.6 M475.36 364.56h3.6M478.87 360.68V364.05 M477.07 360.68h3.6 M477.07 364.05h3.6M480.58 361.87V363.52 M478.78 361.87h3.6 M478.78 363.52h3.6M482.29 359.72V362.77 M480.49 359.72h3.6 M480.49 362.77h3.6M484.01 359.55V361.8 M482.21 359.55h3.6 M482.21 361.8h3.6M485.72 359.85V362.46 M483.92 359.85h3.6 M483.92 362.46h3.6M487.43 357.07V360.7 M485.63 357.07h3.6 M485.63 360.7h3.6M489.14 357.85V360.66 M487.34 357.85h3.6 M487.34 360.66h3.6M490.85 358.29V359.92 M489.05 358.29h3.6 M489.05 359.92h3.6M492.56 357.32V360.15 M490.76 357.32h3.6 M490.76 360.15h3.6M494.28 357.73V359.61 M492.48 357.73h3.6 M492.48 359.61h3.6M495.99 357.65V359.87 M494.19 357.65h3.6 M494.19 359.87h3.6M497.7 355.99V359.54 M495.9 355.99h3.6 M495.9 359.54h3.6M499.41 356.25V358.77 M497.61 356.25h3.6 M497.61 358.77h3.6M501.12 355.21V357.85 M499.32 355.21h3.6 M499.32 357.85h3.6M502.83 354.71V357.43 M501.03 354.71h3.6 M501.03 357.43h3.6M504.55 354.2V357.05 M502.75 354.2h3.6 M502.75 357.05h3.6M506.26 355.06V357.51 M504.46 355.06h3.6 M504.46 357.51h3.6M507.97 353.76V356.82 M506.17 353.76h3.6 M506.17 356.82h3.6M509.68 353.42V357.02 M507.88 353.42h3.6 M507.88 357.02h3.6M511.39 353.97V356.61 M509.59 353.97h3.6 M509.59 356.61h3.6M513.1 353.35V355.78 M511.3 353.35h3.6 M511.3 355.78h3.6M514.82 352.95V355.72 M513.02 352.95h3.6 M513.02 355.72h3.6M516.53 353.26V356.13 M514.73 353.26h3.6 M514.73 356.13h3.6M518.24 353.03V354.72 M516.44 353.03h3.6 M516.44 354.72h3.6M519.95 351.67V354.64 M518.15 351.67h3.6 M518.15 354.64h3.6M521.66 351.7V353.99 M519.86 351.7h3.6 M519.86 353.99h3.6M523.37 351.89V353.5 M521.57 351.89h3.6 M521.57 353.5h3.6M525.08 351.01V352.7 M523.28 351.01h3.6 M523.28 352.7h3.6M526.8 350.67V352.76 M525 350.67h3.6 M525 352.76h3.6M528.51 349.62V352.13 M526.71 349.62h3.6 M526.71 352.13h3.6M530.22 350.1V352.42 M528.42 350.1h3.6 M528.42 352.42h3.6M531.93 349.97V352.18 M530.13 349.97h3.6 M530.13 352.18h3.6M533.64 349.51V351.7 M531.84 349.51h3.6 M531.84 351.7h3.6M535.35 350.04V352.39 M533.55 350.04h3.6 M533.55 352.39h3.6M537.07 349.2V351.94 M535.27 349.2h3.6 M535.27 351.94h3.6M538.78 348.72V351.81 M536.98 348.72h3.6 M536.98 351.81h3.6M540.49 348.45V351.68 M538.69 348.45h3.6 M538.69 351.68h3.6M542.2 349.28V351.34 M540.4 349.28h3.6 M540.4 351.34h3.6M543.91 348.53V351.54 M542.11 348.53h3.6 M542.11 351.54h3.6M545.62 349.25V351.02 M543.82 349.25h3.6 M543.82 351.02h3.6M547.34 347.72V351.01 M545.54 347.72h3.6 M545.54 351.01h3.6M549.05 348.53V351 M547.25 348.53h3.6 M547.25 351h3.6M550.76 348.31V350.57 M548.96 348.31h3.6 M548.96 350.57h3.6M552.47 347.47V350.38 M550.67 347.47h3.6 M550.67 350.38h3.6M554.18 348.37V350.4 M552.38 348.37h3.6 M552.38 350.4h3.6M555.89 347.66V349.47 M554.09 347.66h3.6 M554.09 349.47h3.6M557.61 346.86V350.1 M555.81 346.86h3.6 M555.81 350.1h3.6M559.32 346.95V350.25 M557.52 346.95h3.6 M557.52 350.25h3.6M561.03 347.07V350.3 M559.23 347.07h3.6 M559.23 350.3h3.6M562.74 347.31V350.2 M560.94 347.31h3.6 M560.94 350.2h3.6M564.45 347.54V349.37 M562.65 347.54h3.6 M562.65 349.37h3.6M566.16 346.73V348.9 M564.36 346.73h3.6 M564.36 348.9h3.6M567.88 347.05V349.33 M566.08 347.05h3.6 M566.08 349.33h3.6M569.59 346.43V348.86 M567.79 346.43h3.6 M567.79 348.86h3.6M571.3 345.75V349.23 M569.5 345.75h3.6 M569.5 349.23h3.6M573.01 347.08V348.96 M571.21 347.08h3.6 M571.21 348.96h3.6M574.72 347.09V350.48 M572.92 347.09h3.6 M572.92 350.48h3.6M576.43 345.84V349.45 M574.63 345.84h3.6 M574.63 349.45h3.6M578.15 344.78V348.26 M576.35 344.78h3.6 M576.35 348.26h3.6M579.86 346.88V348.9 M578.06 346.88h3.6 M578.06 348.9h3.6M581.57 345.88V348.82 M579.77 345.88h3.6 M579.77 348.82h3.6M583.28 345.13V347.77 M581.48 345.13h3.6 M581.48 347.77h3.6M584.99 346.12V348.15 M583.19 346.12h3.6 M583.19 348.15h3.6M586.7 346.72V348.42 M584.9 346.72h3.6 M584.9 348.42h3.6M588.41 345.17V348.41 M586.61 345.17h3.6 M586.61 348.41h3.6M590.13 346.02V347.67 M588.33 346.02h3.6 M588.33 347.67h3.6M591.84 345.81V349.29 M590.04 345.81h3.6 M590.04 349.29h3.6M593.55 344.81V348.24 M591.75 344.81h3.6 M591.75 348.24h3.6M595.26 346.55V348.13 M593.46 346.55h3.6 M593.46 348.13h3.6M596.97 344.91V348.02 M595.17 344.91h3.6 M595.17 348.02h3.6M598.68 345.47V348.41 M596.88 345.47h3.6 M596.88 348.41h3.6M600.4 345.73V348.38 M598.6 345.73h3.6 M598.6 348.38h3.6M602.11 344.35V347.18 M600.31 344.35h3.6 M600.31 347.18h3.6M603.82 346.06V348.33 M602.02 346.06h3.6 M602.02 348.33h3.6M605.53 345.33V347.88 M603.73 345.33h3.6 M603.73 347.88h3.6M607.24 345.9V349.08 M605.44 345.9h3.6 M605.44 349.08h3.6M608.95 345.06V347.73 M607.15 345.06h3.6 M607.15 347.73h3.6M610.67 345.17V348.43 M608.87 345.17h3.6 M608.87 348.43h3.6M612.38 345.18V348.66 M610.58 345.18h3.6 M610.58 348.66h3.6M614.09 345.61V348.84 M612.29 345.61h3.6 M612.29 348.84h3.6M615.8 345.1V347.97 M614 345.1h3.6 M614 347.97h3.6M617.51 344.77V348.12 M615.71 344.77h3.6 M615.71 348.12h3.6M619.22 345.76V347.88 M617.42 345.76h3.6 M617.42 347.88h3.6M620.94 345.25V347.9 M619.14 345.25h3.6 M619.14 347.9h3.6M622.65 344.41V347.59 M620.85 344.41h3.6 M620.85 347.59h3.6M624.36 345.9V347.46 M622.56 345.9h3.6 M622.56 347.46h3.6M626.07 345.74V347.56 M624.27 345.74h3.6 M624.27 347.56h3.6M627.78 345.65V347.35 M625.98 345.65h3.6 M625.98 347.35h3.6M629.49 346.42V348.16 M627.69 346.42h3.6 M627.69 348.16h3.6M631.21 344.97V347.57 M629.41 344.97h3.6 M629.41 347.57h3.6M632.92 345.1V347.39 M631.12 345.1h3.6 M631.12 347.39h3.6M634.63 345.31V348.21 M632.83 345.31h3.6 M632.83 348.21h3.6M636.34 345.06V347.01 M634.54 345.06h3.6 M634.54 347.01h3.6M638.05 345.06V347.3 M636.25 345.06h3.6 M636.25 347.3h3.6" stroke="#3f62ff" stroke-width="0.8" fill="none" opacity="1"/>
<g fill="#a8a8b4" stroke="#1f45ff" stroke-width="0.75"><rect x="415.52" y="468.37" width="3.46" height="3.46"/><rect x="417.23" y="448.17" width="3.46" height="3.46"/><rect x="418.95" y="456.37" width="3.46" height="3.46"/><rect x="420.66" y="466.47" width="3.46" height="3.46"/><rect x="422.37" y="473.87" width="3.46" height="3.46"/><rect x="424.08" y="465.07" width="3.46" height="3.46"/><rect x="425.79" y="450.27" width="3.46" height="3.46"/><rect x="427.5" y="438.27" width="3.46" height="3.46"/><rect x="429.22" y="436.07" width="3.46" height="3.46"/><rect x="430.93" y="428.27" width="3.46" height="3.46"/><rect x="432.64" y="422.27" width="3.46" height="3.46"/><rect x="434.35" y="416.27" width="3.46" height="3.46"/><rect x="436.06" y="411.27" width="3.46" height="3.46"/><rect x="437.77" y="401.8" width="3.46" height="3.46"/><rect x="439.49" y="397.25" width="3.46" height="3.46"/><rect x="441.2" y="393.04" width="3.46" height="3.46"/><rect x="442.91" y="390.21" width="3.46" height="3.46"/><rect x="444.62" y="388.55" width="3.46" height="3.46"/><rect x="446.33" y="385.65" width="3.46" height="3.46"/><rect x="448.04" y="383.01" width="3.46" height="3.46"/><rect x="449.76" y="381.41" width="3.46" height="3.46"/><rect x="451.47" y="378.74" width="3.46" height="3.46"/><rect x="453.18" y="376.43" width="3.46" height="3.46"/><rect x="454.89" y="375.02" width="3.46" height="3.46"/><rect x="456.6" y="372.49" width="3.46" height="3.46"/><rect x="458.31" y="371.26" width="3.46" height="3.46"/><rect x="460.02" y="371.15" width="3.46" height="3.46"/><rect x="461.74" y="367.82" width="3.46" height="3.46"/><rect x="463.45" y="368.35" width="3.46" height="3.46"/><rect x="465.16" y="365.5" width="3.46" height="3.46"/><rect x="466.87" y="365.24" width="3.46" height="3.46"/><rect x="468.58" y="364.06" width="3.46" height="3.46"/><rect x="470.29" y="363.5" width="3.46" height="3.46"/><rect x="472.01" y="362.95" width="3.46" height="3.46"/><rect x="473.72" y="362.8" width="3.46" height="3.46"/><rect x="475.43" y="361.9" width="3.46" height="3.46"/><rect x="477.14" y="360.63" width="3.46" height="3.46"/><rect x="478.85" y="360.96" width="3.46" height="3.46"/><rect x="480.56" y="359.51" width="3.46" height="3.46"/><rect x="482.28" y="358.94" width="3.46" height="3.46"/><rect x="483.99" y="359.42" width="3.46" height="3.46"/><rect x="485.7" y="357.15" width="3.46" height="3.46"/><rect x="487.41" y="357.52" width="3.46" height="3.46"/><rect x="489.12" y="357.37" width="3.46" height="3.46"/><rect x="490.83" y="357" width="3.46" height="3.46"/><rect x="492.55" y="356.94" width="3.46" height="3.46"/><rect x="494.26" y="357.03" width="3.46" height="3.46"/><rect x="495.97" y="356.03" width="3.46" height="3.46"/><rect x="497.68" y="355.77" width="3.46" height="3.46"/><rect x="499.39" y="354.8" width="3.46" height="3.46"/><rect x="501.1" y="354.34" width="3.46" height="3.46"/><rect x="502.82" y="353.9" width="3.46" height="3.46"/><rect x="504.53" y="354.55" width="3.46" height="3.46"/><rect x="506.24" y="353.56" width="3.46" height="3.46"/><rect x="507.95" y="353.49" width="3.46" height="3.46"/><rect x="509.66" y="353.56" width="3.46" height="3.46"/><rect x="511.37" y="352.83" width="3.46" height="3.46"/><rect x="513.09" y="352.6" width="3.46" height="3.46"/><rect x="514.8" y="352.96" width="3.46" height="3.46"/><rect x="516.51" y="352.14" width="3.46" height="3.46"/><rect x="518.22" y="351.42" width="3.46" height="3.46"/><rect x="519.93" y="351.11" width="3.46" height="3.46"/><rect x="521.64" y="350.96" width="3.46" height="3.46"/><rect x="523.35" y="350.12" width="3.46" height="3.46"/><rect x="525.07" y="349.98" width="3.46" height="3.46"/><rect x="526.78" y="349.14" width="3.46" height="3.46"/><rect x="528.49" y="349.53" width="3.46" height="3.46"/><rect x="530.2" y="349.34" width="3.46" height="3.46"/><rect x="531.91" y="348.87" width="3.46" height="3.46"/><rect x="533.62" y="349.48" width="3.46" height="3.46"/><rect x="535.34" y="348.84" width="3.46" height="3.46"/><rect x="537.05" y="348.53" width="3.46" height="3.46"/><rect x="538.76" y="348.33" width="3.46" height="3.46"/><rect x="540.47" y="348.58" width="3.46" height="3.46"/><rect x="542.18" y="348.3" width="3.46" height="3.46"/><rect x="543.89" y="348.4" width="3.46" height="3.46"/><rect x="545.61" y="347.63" width="3.46" height="3.46"/><rect x="547.32" y="348.04" width="3.46" height="3.46"/><rect x="549.03" y="347.7" width="3.46" height="3.46"/><rect x="550.74" y="347.19" width="3.46" height="3.46"/><rect x="552.45" y="347.65" width="3.46" height="3.46"/><rect x="554.16" y="346.83" width="3.46" height="3.46"/><rect x="555.88" y="346.75" width="3.46" height="3.46"/><rect x="557.59" y="346.87" width="3.46" height="3.46"/><rect x="559.3" y="346.95" width="3.46" height="3.46"/><rect x="561.01" y="347.02" width="3.46" height="3.46"/><rect x="562.72" y="346.72" width="3.46" height="3.46"/><rect x="564.43" y="346.08" width="3.46" height="3.46"/><rect x="566.15" y="346.46" width="3.46" height="3.46"/><rect x="567.86" y="345.92" width="3.46" height="3.46"/><rect x="569.57" y="345.76" width="3.46" height="3.46"/><rect x="571.28" y="346.29" width="3.46" height="3.46"/><rect x="572.99" y="347.05" width="3.46" height="3.46"/><rect x="574.7" y="345.91" width="3.46" height="3.46"/><rect x="576.42" y="344.79" width="3.46" height="3.46"/><rect x="578.13" y="346.16" width="3.46" height="3.46"/><rect x="579.84" y="345.62" width="3.46" height="3.46"/><rect x="581.55" y="344.72" width="3.46" height="3.46"/><rect x="583.26" y="345.41" width="3.46" height="3.46"/><rect x="584.97" y="345.84" width="3.46" height="3.46"/><rect x="586.68" y="345.06" width="3.46" height="3.46"/><rect x="588.4" y="345.11" width="3.46" height="3.46"/><rect x="590.11" y="345.82" width="3.46" height="3.46"/><rect x="591.82" y="344.79" width="3.46" height="3.46"/><rect x="593.53" y="345.61" width="3.46" height="3.46"/><rect x="595.24" y="344.73" width="3.46" height="3.46"/><rect x="596.95" y="345.21" width="3.46" height="3.46"/><rect x="598.67" y="345.32" width="3.46" height="3.46"/><rect x="600.38" y="344.03" width="3.46" height="3.46"/><rect x="602.09" y="345.46" width="3.46" height="3.46"/><rect x="603.8" y="344.87" width="3.46" height="3.46"/><rect x="605.51" y="345.76" width="3.46" height="3.46"/><rect x="607.22" y="344.67" width="3.46" height="3.46"/><rect x="608.94" y="345.07" width="3.46" height="3.46"/><rect x="610.65" y="345.19" width="3.46" height="3.46"/><rect x="612.36" y="345.49" width="3.46" height="3.46"/><rect x="614.07" y="344.8" width="3.46" height="3.46"/><rect x="615.78" y="344.71" width="3.46" height="3.46"/><rect x="617.49" y="345.09" width="3.46" height="3.46"/><rect x="619.21" y="344.84" width="3.46" height="3.46"/><rect x="620.92" y="344.27" width="3.46" height="3.46"/><rect x="622.63" y="344.95" width="3.46" height="3.46"/><rect x="624.34" y="344.92" width="3.46" height="3.46"/><rect x="626.05" y="344.77" width="3.46" height="3.46"/><rect x="627.76" y="345.56" width="3.46" height="3.46"/><rect x="629.48" y="344.54" width="3.46" height="3.46"/><rect x="631.19" y="344.52" width="3.46" height="3.46"/><rect x="632.9" y="345.03" width="3.46" height="3.46"/><rect x="634.61" y="344.3" width="3.46" height="3.46"/><rect x="636.32" y="344.45" width="3.46" height="3.46"/></g>
<path d="M420 490 L420.05 488.61 L420.1 487.21 L420.15 485.79 L420.2 484.36 L420.25 482.93 L420.3 481.5 L420.35 480.08 L420.4 478.67 L420.45 477.28 L420.5 475.91 L420.55 474.57 L420.6 473.26 L420.65 471.98 L420.7 470.74 L420.75 469.55 L420.8 468.41 L420.85 467.33 L420.9 466.3 L420.95 465.35 L421 464.46 L421.05 463.64 L421.1 462.91 L421.2 461.7 L421.3 460.69 L421.4 459.71 L421.5 458.76 L421.6 457.84 L421.7 456.95 L421.8 456.09 L421.9 455.25 L422 454.45 L422.1 453.67 L422.2 452.91 L422.3 452.18 L422.4 451.48 L422.55 450.46 L422.7 449.5 L422.85 448.58 L423 447.71 L423.15 446.88 L423.3 446.09 L423.45 445.35 L423.6 444.63 L423.8 443.73 L424 442.89 L424.2 442.09 L424.4 441.34 L424.6 440.62 L424.8 439.93 L425.05 439.11 L425.3 438.31 L425.55 437.54 L425.8 436.79 L426.05 436.07 L426.3 435.37 L426.55 434.7 L426.85 433.93 L427.15 433.19 L427.45 432.49 L427.75 431.81 L428.05 431.16 L428.4 430.43 L428.75 429.73 L429.1 429.06 L429.45 428.41 L429.8 427.79 L430.2 427.1 L430.6 426.43 L431 425.77 L431.4 425.12 L431.8 424.48 L432.2 423.84 L432.6 423.19 L433 422.53 L433.4 421.86 L433.8 421.18 L434.15 420.56 L434.5 419.95 L434.85 419.34 L435.2 418.73 L435.6 418.04 L436 417.35 L436.4 416.67 L436.8 416 L437.2 415.33 L437.6 414.67 L438 414.01 L438.4 413.37 L438.8 412.73 L439.2 412.09 L439.6 411.47 L440 410.85 L440.4 410.24 L440.8 409.65 L441.2 409.06 L441.6 408.48 L442.05 407.84 L442.5 407.22 L442.95 406.61 L443.4 406.02 L443.85 405.44 L444.3 404.87 L444.75 404.31 L445.2 403.77 L445.65 403.23 L446.15 402.65 L446.65 402.07 L447.15 401.51 L447.65 400.96 L448.15 400.42 L448.65 399.89 L449.15 399.36 L449.65 398.85 L450.15 398.35 L450.65 397.85 L451.2 397.32 L451.75 396.79 L452.3 396.28 L452.85 395.77 L453.4 395.27 L453.95 394.77 L454.5 394.29 L455.05 393.8 L455.6 393.33 L456.15 392.87 L456.7 392.41 L457.25 391.96 L457.8 391.52 L458.4 391.06 L459 390.61 L459.6 390.17 L460.2 389.74 L460.8 389.33 L461.4 388.94 L462 388.55 L462.6 388.18 L463.2 387.82 L463.85 387.43 L464.5 387.06 L465.15 386.7 L465.8 386.35 L466.45 386 L467.1 385.67 L467.75 385.34 L468.4 385.02 L469.05 384.7 L469.7 384.39 L470.35 384.08 L471 383.78 L471.65 383.48 L472.3 383.19 L472.95 382.9 L473.6 382.62 L474.25 382.35 L474.9 382.08 L475.55 381.81 L476.25 381.54 L476.95 381.27 L477.65 381.01 L478.35 380.76 L479.05 380.51 L479.75 380.28 L480.45 380.04 L481.15 379.81 L481.85 379.59 L482.55 379.37 L483.25 379.16 L483.95 378.96 L484.65 378.76 L485.35 378.57 L486.05 378.38 L486.75 378.2 L487.45 378.04 L488.15 377.87 L488.85 377.72 L489.55 377.57 L490.25 377.42 L490.95 377.28 L491.65 377.15 L492.35 377.01 L493.05 376.88 L493.75 376.76 L494.45 376.63 L495.15 376.51 L495.85 376.39 L496.55 376.27 L497.25 376.16 L497.95 376.05 L498.65 375.93 L499.35 375.83 L500.05 375.72 L500.75 375.61 L501.45 375.51 L502.15 375.41 L502.85 375.31 L503.55 375.21 L504.25 375.12 L504.95 375.02 L505.65 374.93 L506.35 374.83 L507.05 374.74 L507.75 374.66 L508.45 374.57 L509.15 374.48 L509.85 374.4 L510.55 374.32 L511.25 374.23 L511.95 374.15 L512.65 374.07 L513.35 373.99 L514.05 373.91 L514.75 373.83 L515.45 373.75 L516.15 373.67 L516.85 373.58 L517.55 373.5 L518.25 373.42 L518.95 373.33 L519.65 373.24 L520.35 373.16 L521.05 373.07 L521.75 372.97 L522.45 372.88 L523.15 372.78 L523.85 372.69 L524.55 372.59 L525.25 372.49 L525.95 372.39 L526.65 372.29 L527.35 372.19 L528.05 372.09 L528.75 371.99 L529.45 371.9 L530.15 371.8 L530.85 371.7 L531.55 371.61 L532.25 371.52 L532.95 371.43 L533.65 371.34 L534.35 371.26 L535.05 371.18 L535.75 371.1 L536.45 371.03 L537.15 370.95 L537.85 370.88 L538.55 370.82 L539.25 370.75 L539.95 370.68 L540.65 370.62 L541.35 370.55 L542.05 370.49 L542.75 370.43 L543.45 370.36 L544.15 370.3 L544.85 370.24 L545.55 370.19 L546.25 370.13 L546.95 370.07 L547.65 370.01 L548.35 369.96 L549.05 369.9 L549.75 369.85 L550.45 369.79 L551.15 369.74 L551.85 369.69 L552.55 369.64 L553.25 369.59 L553.95 369.53 L554.65 369.48 L555.35 369.43 L556.05 369.38 L556.75 369.33 L557.45 369.28 L558.15 369.24 L558.85 369.19 L559.55 369.14 L560.25 369.09 L560.95 369.04 L561.65 368.99 L562.35 368.95 L563.05 368.9 L563.75 368.85 L564.45 368.81 L565.15 368.76 L565.85 368.71 L566.55 368.67 L567.25 368.62 L567.95 368.58 L568.65 368.54 L569.35 368.49 L570.05 368.45 L570.75 368.41 L571.45 368.36 L572.15 368.32 L572.85 368.28 L573.55 368.24 L574.25 368.2 L574.95 368.16 L575.65 368.12 L576.35 368.08 L577.05 368.04 L577.75 368 L578.45 367.96 L579.15 367.92 L579.85 367.88 L580.55 367.85 L581.25 367.81 L581.95 367.77 L582.65 367.74 L583.35 367.7 L584.05 367.67 L584.75 367.63 L585.45 367.6 L586.15 367.56 L586.85 367.53 L587.55 367.49 L588.25 367.46 L588.95 367.43 L589.65 367.39 L590.35 367.36 L591.05 367.33 L591.75 367.29 L592.45 367.26 L593.15 367.23 L593.85 367.2 L594.55 367.17 L595.25 367.14 L595.95 367.11 L596.65 367.08 L597.35 367.05 L598.05 367.02 L598.75 366.99 L599.45 366.96 L600.15 366.93 L600.85 366.91 L601.55 366.88 L602.25 366.85 L602.95 366.83 L603.65 366.8 L604.35 366.78 L605.05 366.76 L605.75 366.73 L606.45 366.71 L607.15 366.69 L607.85 366.67 L608.55 366.65 L609.25 366.63 L609.95 366.61 L610.65 366.59 L611.35 366.56 L612.05 366.54 L612.75 366.52 L613.45 366.5 L614.15 366.48 L614.85 366.47 L615.55 366.45 L616.25 366.43 L616.95 366.41 L617.65 366.39 L618.35 366.37 L619.05 366.35 L619.75 366.34 L620.45 366.32 L621.15 366.3 L621.85 366.28 L622.55 366.27 L623.25 366.25 L623.95 366.23 L624.65 366.22 L625.35 366.2 L626.05 366.19 L626.75 366.17 L627.45 366.16 L628.15 366.14 L628.85 366.13 L629.55 366.12 L630.25 366.11 L630.95 366.09 L631.65 366.08 L632.35 366.07 L633.05 366.06 L633.75 366.05 L634.45 366.04 L635.15 366.03 L635.85 366.02 L636.55 366.01 L637.2 366" fill="none" stroke="#000" stroke-width="2.0"/>
<path d="M417.25 437.4V486.4 M415.45 437.4h3.6 M415.45 486.4h3.6M418.96 484V490 M417.16 484h3.6 M417.16 490h3.6M420.68 434.7V450.7 M418.88 434.7h3.6 M418.88 450.7h3.6M422.39 427.8V447.8 M420.59 427.8h3.6 M420.59 447.8h3.6M424.1 428V452 M422.3 428h3.6 M422.3 452h3.6M425.81 425.1V445.1 M424.01 425.1h3.6 M424.01 445.1h3.6M427.52 432V460 M425.72 432h3.6 M425.72 460h3.6M429.23 432.7V452.7 M427.43 432.7h3.6 M427.43 452.7h3.6M430.95 424.7V448.7 M429.15 424.7h3.6 M429.15 448.7h3.6M432.66 416.3V446.3 M430.86 416.3h3.6 M430.86 446.3h3.6M434.37 421.6V437.6 M432.57 421.6h3.6 M432.57 437.6h3.6M436.08 415.4V427.4 M434.28 415.4h3.6 M434.28 427.4h3.6M437.79 410.9V420.9 M435.99 410.9h3.6 M435.99 420.9h3.6M439.5 409.8V417.8 M437.7 409.8h3.6 M437.7 417.8h3.6M441.22 406.5V414.5 M439.42 406.5h3.6 M439.42 414.5h3.6M442.93 403.7V410.7 M441.13 403.7h3.6 M441.13 410.7h3.6M444.64 401.63V409.11 M442.84 401.63h3.6 M442.84 409.11h3.6M446.35 396.51V402.56 M444.55 396.51h3.6 M444.55 402.56h3.6M448.06 395.94V405.34 M446.26 395.94h3.6 M446.26 405.34h3.6M449.77 391.7V400.91 M447.97 391.7h3.6 M447.97 400.91h3.6M451.49 390.36V398.13 M449.69 390.36h3.6 M449.69 398.13h3.6M453.2 390.78V397.58 M451.4 390.78h3.6 M451.4 397.58h3.6M454.91 388.93V397.93 M453.11 388.93h3.6 M453.11 397.93h3.6M456.62 390.08V394.65 M454.82 390.08h3.6 M454.82 394.65h3.6M458.33 388.94V394.87 M456.53 388.94h3.6 M456.53 394.87h3.6M460.04 385.53V392.93 M458.24 385.53h3.6 M458.24 392.93h3.6M461.75 381.14V391.21 M459.95 381.14h3.6 M459.95 391.21h3.6M463.47 384.07V389.52 M461.67 384.07h3.6 M461.67 389.52h3.6M465.18 380.82V388.79 M463.38 380.82h3.6 M463.38 388.79h3.6M466.89 382.42V388.33 M465.09 382.42h3.6 M465.09 388.33h3.6M468.6 379.45V385.62 M466.8 379.45h3.6 M466.8 385.62h3.6M470.31 381.7V388.82 M468.51 381.7h3.6 M468.51 388.82h3.6M472.02 380.92V385.33 M470.22 380.92h3.6 M470.22 385.33h3.6M473.74 378.77V384.1 M471.94 378.77h3.6 M471.94 384.1h3.6M475.45 378.65V384.02 M473.65 378.65h3.6 M473.65 384.02h3.6M477.16 375.48V381.36 M475.36 375.48h3.6 M475.36 381.36h3.6M478.87 378.45V382.76 M477.07 378.45h3.6 M477.07 382.76h3.6M480.58 376.85V384.73 M478.78 376.85h3.6 M478.78 384.73h3.6M482.29 377.66V385.74 M480.49 377.66h3.6 M480.49 385.74h3.6M484.01 371.29V380.59 M482.21 371.29h3.6 M482.21 380.59h3.6M485.72 374.3V383.64 M483.92 374.3h3.6 M483.92 383.64h3.6M487.43 373.33V381.63 M485.63 373.33h3.6 M485.63 381.63h3.6M489.14 370.24V377.69 M487.34 370.24h3.6 M487.34 377.69h3.6M490.85 374.37V382.89 M489.05 374.37h3.6 M489.05 382.89h3.6M492.56 372.94V379.44 M490.76 372.94h3.6 M490.76 379.44h3.6M494.28 374.74V379.56 M492.48 374.74h3.6 M492.48 379.56h3.6M495.99 370.2V376.08 M494.19 370.2h3.6 M494.19 376.08h3.6M497.7 376.24V380.37 M495.9 376.24h3.6 M495.9 380.37h3.6M499.41 372.17V380.52 M497.61 372.17h3.6 M497.61 380.52h3.6M501.12 372.46V378.51 M499.32 372.46h3.6 M499.32 378.51h3.6M502.83 370.12V379.54 M501.03 370.12h3.6 M501.03 379.54h3.6M504.55 372.23V378.62 M502.75 372.23h3.6 M502.75 378.62h3.6M506.26 372.5V376.88 M504.46 372.5h3.6 M504.46 376.88h3.6M507.97 372.35V377.34 M506.17 372.35h3.6 M506.17 377.34h3.6M509.68 371.6V375.9 M507.88 371.6h3.6 M507.88 375.9h3.6M511.39 369.79V376.53 M509.59 369.79h3.6 M509.59 376.53h3.6M513.1 371.38V376.13 M511.3 371.38h3.6 M511.3 376.13h3.6M514.82 375.26V382.22 M513.02 375.26h3.6 M513.02 382.22h3.6M516.53 368.82V378.27 M514.73 368.82h3.6 M514.73 378.27h3.6M518.24 368.25V374.93 M516.44 368.25h3.6 M516.44 374.93h3.6M519.95 370.84V375.13 M518.15 370.84h3.6 M518.15 375.13h3.6M521.66 371.05V377.42 M519.86 371.05h3.6 M519.86 377.42h3.6M523.37 368.19V376.79 M521.57 368.19h3.6 M521.57 376.79h3.6M525.08 371.99V378.78 M523.28 371.99h3.6 M523.28 378.78h3.6M526.8 370.43V375.83 M525 370.43h3.6 M525 375.83h3.6M528.51 369.39V374.61 M526.71 369.39h3.6 M526.71 374.61h3.6M530.22 369.47V374.33 M528.42 369.47h3.6 M528.42 374.33h3.6M531.93 372.16V376.52 M530.13 372.16h3.6 M530.13 376.52h3.6M533.64 368.13V377.6 M531.84 368.13h3.6 M531.84 377.6h3.6M535.35 366.95V373.23 M533.55 366.95h3.6 M533.55 373.23h3.6M537.07 368.35V376.73 M535.27 368.35h3.6 M535.27 376.73h3.6M538.78 365.26V373.4 M536.98 365.26h3.6 M536.98 373.4h3.6M540.49 367.18V372.4 M538.69 367.18h3.6 M538.69 372.4h3.6M542.2 365.91V374.74 M540.4 365.91h3.6 M540.4 374.74h3.6M543.91 369.96V375.87 M542.11 369.96h3.6 M542.11 375.87h3.6M545.62 364.19V371.84 M543.82 364.19h3.6 M543.82 371.84h3.6M547.34 366.3V374.81 M545.54 366.3h3.6 M545.54 374.81h3.6M549.05 364.24V371.19 M547.25 364.24h3.6 M547.25 371.19h3.6M550.76 365.59V371.13 M548.96 365.59h3.6 M548.96 371.13h3.6M552.47 363.08V372.18 M550.67 363.08h3.6 M550.67 372.18h3.6M554.18 365.29V374.65 M552.38 365.29h3.6 M552.38 374.65h3.6M555.89 364.47V373.78 M554.09 364.47h3.6 M554.09 373.78h3.6M557.61 364.46V373.43 M555.81 364.46h3.6 M555.81 373.43h3.6M559.32 366.27V371.05 M557.52 366.27h3.6 M557.52 371.05h3.6M561.03 368.91V373.32 M559.23 368.91h3.6 M559.23 373.32h3.6M562.74 365.89V370.88 M560.94 365.89h3.6 M560.94 370.88h3.6M564.45 363.35V371.5 M562.65 363.35h3.6 M562.65 371.5h3.6M566.16 362.58V371.7 M564.36 362.58h3.6 M564.36 371.7h3.6M567.88 363.96V373.06 M566.08 363.96h3.6 M566.08 373.06h3.6M569.59 366.43V370.58 M567.79 366.43h3.6 M567.79 370.58h3.6M571.3 364.56V373.05 M569.5 364.56h3.6 M569.5 373.05h3.6M573.01 363.48V371.82 M571.21 363.48h3.6 M571.21 371.82h3.6M574.72 365.01V373.87 M572.92 365.01h3.6 M572.92 373.87h3.6M576.43 364.07V369.24 M574.63 364.07h3.6 M574.63 369.24h3.6M578.15 362.77V371.71 M576.35 362.77h3.6 M576.35 371.71h3.6M579.86 362.46V370.74 M578.06 362.46h3.6 M578.06 370.74h3.6M581.57 363.78V368 M579.77 363.78h3.6 M579.77 368h3.6M583.28 365.8V370.07 M581.48 365.8h3.6 M581.48 370.07h3.6M584.99 361.69V370.47 M583.19 361.69h3.6 M583.19 370.47h3.6M586.7 362.77V370.16 M584.9 362.77h3.6 M584.9 370.16h3.6M588.41 364.14V372.4 M586.61 364.14h3.6 M586.61 372.4h3.6M590.13 364.9V371.82 M588.33 364.9h3.6 M588.33 371.82h3.6M591.84 365.75V374.34 M590.04 365.75h3.6 M590.04 374.34h3.6M593.55 365.03V369.57 M591.75 365.03h3.6 M591.75 369.57h3.6M595.26 361.44V369.8 M593.46 361.44h3.6 M593.46 369.8h3.6M596.97 363.68V369.45 M595.17 363.68h3.6 M595.17 369.45h3.6M598.68 362.4V371.74 M596.88 362.4h3.6 M596.88 371.74h3.6M600.4 366.25V370.84 M598.6 366.25h3.6 M598.6 370.84h3.6M602.11 363.88V372.78 M600.31 363.88h3.6 M600.31 372.78h3.6M603.82 364.64V371.51 M602.02 364.64h3.6 M602.02 371.51h3.6M605.53 359.78V368.08 M603.73 359.78h3.6 M603.73 368.08h3.6M607.24 365.56V370 M605.44 365.56h3.6 M605.44 370h3.6M608.95 364.4V370.13 M607.15 364.4h3.6 M607.15 370.13h3.6M610.67 361.5V370.13 M608.87 361.5h3.6 M608.87 370.13h3.6M612.38 361.57V366.56 M610.58 361.57h3.6 M610.58 366.56h3.6M614.09 363.23V372.06 M612.29 363.23h3.6 M612.29 372.06h3.6M615.8 363.34V370.1 M614 363.34h3.6 M614 370.1h3.6M617.51 364.1V370.02 M615.71 364.1h3.6 M615.71 370.02h3.6M619.22 359.14V367.09 M617.42 359.14h3.6 M617.42 367.09h3.6M620.94 363.31V367.42 M619.14 363.31h3.6 M619.14 367.42h3.6M622.65 362.09V368.81 M620.85 362.09h3.6 M620.85 368.81h3.6M624.36 363.88V371.85 M622.56 363.88h3.6 M622.56 371.85h3.6M626.07 362.79V368.2 M624.27 362.79h3.6 M624.27 368.2h3.6M627.78 361.77V370.46 M625.98 361.77h3.6 M625.98 370.46h3.6M629.49 359.71V369.15 M627.69 359.71h3.6 M627.69 369.15h3.6M631.21 364.25V371.74 M629.41 364.25h3.6 M629.41 371.74h3.6M632.92 362.15V367.94 M631.12 362.15h3.6 M631.12 367.94h3.6M634.63 359.57V368.61 M632.83 359.57h3.6 M632.83 368.61h3.6M636.34 359.81V365.55 M634.54 359.81h3.6 M634.54 365.55h3.6M638.05 362.18V370.98 M636.25 362.18h3.6 M636.25 370.98h3.6" stroke="#222" stroke-width="0.8" fill="none" opacity="1"/>
<g fill="#b0b0b0" stroke="#000" stroke-width="0.9"><circle cx="417.25" cy="456.4" r="2.24"/><circle cx="418.96" cy="487" r="2.24"/><circle cx="420.68" cy="442.7" r="2.24"/><circle cx="422.39" cy="437.8" r="2.24"/><circle cx="424.1" cy="440" r="2.24"/><circle cx="425.81" cy="435.1" r="2.24"/><circle cx="427.52" cy="446" r="2.24"/><circle cx="429.23" cy="442.7" r="2.24"/><circle cx="430.95" cy="436.7" r="2.24"/><circle cx="432.66" cy="431.3" r="2.24"/><circle cx="434.37" cy="429.6" r="2.24"/><circle cx="436.08" cy="421.4" r="2.24"/><circle cx="437.79" cy="415.9" r="2.24"/><circle cx="439.5" cy="413.8" r="2.24"/><circle cx="441.22" cy="410.5" r="2.24"/><circle cx="442.93" cy="407.2" r="2.24"/><circle cx="444.64" cy="405.37" r="2.24"/><circle cx="446.35" cy="399.53" r="2.24"/><circle cx="448.06" cy="400.64" r="2.24"/><circle cx="449.77" cy="396.31" r="2.24"/><circle cx="451.49" cy="394.25" r="2.24"/><circle cx="453.2" cy="394.18" r="2.24"/><circle cx="454.91" cy="393.43" r="2.24"/><circle cx="456.62" cy="392.36" r="2.24"/><circle cx="458.33" cy="391.91" r="2.24"/><circle cx="460.04" cy="389.23" r="2.24"/><circle cx="461.75" cy="386.17" r="2.24"/><circle cx="463.47" cy="386.8" r="2.24"/><circle cx="465.18" cy="384.8" r="2.24"/><circle cx="466.89" cy="385.37" r="2.24"/><circle cx="468.6" cy="382.53" r="2.24"/><circle cx="470.31" cy="385.26" r="2.24"/><circle cx="472.02" cy="383.13" r="2.24"/><circle cx="473.74" cy="381.44" r="2.24"/><circle cx="475.45" cy="381.33" r="2.24"/><circle cx="477.16" cy="378.42" r="2.24"/><circle cx="478.87" cy="380.61" r="2.24"/><circle cx="480.58" cy="380.79" r="2.24"/><circle cx="482.29" cy="381.7" r="2.24"/><circle cx="484.01" cy="375.94" r="2.24"/><circle cx="485.72" cy="378.97" r="2.24"/><circle cx="487.43" cy="377.48" r="2.24"/><circle cx="489.14" cy="373.96" r="2.24"/><circle cx="490.85" cy="378.63" r="2.24"/><circle cx="492.56" cy="376.19" r="2.24"/><circle cx="494.28" cy="377.15" r="2.24"/><circle cx="495.99" cy="373.14" r="2.24"/><circle cx="497.7" cy="378.31" r="2.24"/><circle cx="499.41" cy="376.34" r="2.24"/><circle cx="501.12" cy="375.48" r="2.24"/><circle cx="502.83" cy="374.83" r="2.24"/><circle cx="504.55" cy="375.43" r="2.24"/><circle cx="506.26" cy="374.69" r="2.24"/><circle cx="507.97" cy="374.84" r="2.24"/><circle cx="509.68" cy="373.75" r="2.24"/><circle cx="511.39" cy="373.16" r="2.24"/><circle cx="513.1" cy="373.75" r="2.24"/><circle cx="514.82" cy="378.74" r="2.24"/><circle cx="516.53" cy="373.55" r="2.24"/><circle cx="518.24" cy="371.59" r="2.24"/><circle cx="519.95" cy="372.98" r="2.24"/><circle cx="521.66" cy="374.23" r="2.24"/><circle cx="523.37" cy="372.49" r="2.24"/><circle cx="525.08" cy="375.38" r="2.24"/><circle cx="526.8" cy="373.13" r="2.24"/><circle cx="528.51" cy="372" r="2.24"/><circle cx="530.22" cy="371.9" r="2.24"/><circle cx="531.93" cy="374.34" r="2.24"/><circle cx="533.64" cy="372.87" r="2.24"/><circle cx="535.35" cy="370.09" r="2.24"/><circle cx="537.07" cy="372.54" r="2.24"/><circle cx="538.78" cy="369.33" r="2.24"/><circle cx="540.49" cy="369.79" r="2.24"/><circle cx="542.2" cy="370.33" r="2.24"/><circle cx="543.91" cy="372.92" r="2.24"/><circle cx="545.62" cy="368.02" r="2.24"/><circle cx="547.34" cy="370.55" r="2.24"/><circle cx="549.05" cy="367.72" r="2.24"/><circle cx="550.76" cy="368.36" r="2.24"/><circle cx="552.47" cy="367.63" r="2.24"/><circle cx="554.18" cy="369.97" r="2.24"/><circle cx="555.89" cy="369.12" r="2.24"/><circle cx="557.61" cy="368.95" r="2.24"/><circle cx="559.32" cy="368.66" r="2.24"/><circle cx="561.03" cy="371.12" r="2.24"/><circle cx="562.74" cy="368.39" r="2.24"/><circle cx="564.45" cy="367.43" r="2.24"/><circle cx="566.16" cy="367.14" r="2.24"/><circle cx="567.88" cy="368.51" r="2.24"/><circle cx="569.59" cy="368.5" r="2.24"/><circle cx="571.3" cy="368.81" r="2.24"/><circle cx="573.01" cy="367.65" r="2.24"/><circle cx="574.72" cy="369.44" r="2.24"/><circle cx="576.43" cy="366.66" r="2.24"/><circle cx="578.15" cy="367.24" r="2.24"/><circle cx="579.86" cy="366.6" r="2.24"/><circle cx="581.57" cy="365.89" r="2.24"/><circle cx="583.28" cy="367.93" r="2.24"/><circle cx="584.99" cy="366.08" r="2.24"/><circle cx="586.7" cy="366.46" r="2.24"/><circle cx="588.41" cy="368.27" r="2.24"/><circle cx="590.13" cy="368.36" r="2.24"/><circle cx="591.84" cy="370.04" r="2.24"/><circle cx="593.55" cy="367.3" r="2.24"/><circle cx="595.26" cy="365.62" r="2.24"/><circle cx="596.97" cy="366.57" r="2.24"/><circle cx="598.68" cy="367.07" r="2.24"/><circle cx="600.4" cy="368.55" r="2.24"/><circle cx="602.11" cy="368.33" r="2.24"/><circle cx="603.82" cy="368.07" r="2.24"/><circle cx="605.53" cy="363.93" r="2.24"/><circle cx="607.24" cy="367.78" r="2.24"/><circle cx="608.95" cy="367.26" r="2.24"/><circle cx="610.67" cy="365.81" r="2.24"/><circle cx="612.38" cy="364.06" r="2.24"/><circle cx="614.09" cy="367.64" r="2.24"/><circle cx="615.8" cy="366.72" r="2.24"/><circle cx="617.51" cy="367.06" r="2.24"/><circle cx="619.22" cy="363.11" r="2.24"/><circle cx="620.94" cy="365.36" r="2.24"/><circle cx="622.65" cy="365.45" r="2.24"/><circle cx="624.36" cy="367.87" r="2.24"/><circle cx="626.07" cy="365.5" r="2.24"/><circle cx="627.78" cy="366.11" r="2.24"/><circle cx="629.49" cy="364.43" r="2.24"/><circle cx="631.21" cy="367.99" r="2.24"/><circle cx="632.92" cy="365.05" r="2.24"/><circle cx="634.63" cy="364.09" r="2.24"/><circle cx="636.34" cy="362.68" r="2.24"/><circle cx="638.05" cy="366.58" r="2.24"/></g>
</g>
<path d="M404.3 489.3h1.9M645.4 489.3h-1.9M404.3 483.95h1.9M645.4 483.95h-1.9M404.3 479.42h1.9M645.4 479.42h-1.9M404.3 475.5h1.9M645.4 475.5h-1.9M404.3 472.04h1.9M645.4 472.04h-1.9M404.3 468.95h3.6M645.4 468.95h-3.6M404.3 448.6h1.9M645.4 448.6h-1.9M404.3 436.7h1.9M645.4 436.7h-1.9M404.3 428.25h1.9M645.4 428.25h-1.9M404.3 421.7h1.9M645.4 421.7h-1.9M404.3 416.35h1.9M645.4 416.35h-1.9M404.3 411.82h1.9M645.4 411.82h-1.9M404.3 407.9h1.9M645.4 407.9h-1.9M404.3 404.44h1.9M645.4 404.44h-1.9M404.3 401.35h3.6M645.4 401.35h-3.6M404.3 381h1.9M645.4 381h-1.9M404.3 369.1h1.9M645.4 369.1h-1.9M404.3 360.65h1.9M645.4 360.65h-1.9M404.3 354.1h1.9M645.4 354.1h-1.9M404.3 348.75h1.9M645.4 348.75h-1.9M404.3 344.22h1.9M645.4 344.22h-1.9M404.3 340.3h1.9M645.4 340.3h-1.9M404.3 336.84h1.9M645.4 336.84h-1.9M404.3 333.75h3.6M645.4 333.75h-3.6M519.95 489.3v-3.6M519.95 328.8v3.6M635.6 489.3v-3.6M635.6 328.8v3.6" stroke="#4a4a4a" stroke-width="0.9" fill="none"/>
<rect x="404.3" y="328.8" width="241.1" height="160.5" fill="none" stroke="#4a4a4a" stroke-width="1.1"/>
<text x="388.87" y="339.85" font-size="17.5">0</text>
<path d="M385.55 339.85 L383.99 339.85 L383.99 331.03 L380.94 331.03 L380.94 329.91 C382.92 329.91 383.73 329.39 384.09 327.44 L385.55 327.44 Z" fill="#000"/>
<path d="M395.27 407.45 L393.72 407.45 L393.72 398.63 L390.67 398.63 L390.67 397.51 C392.65 397.51 393.45 396.99 393.82 395.04 L395.27 395.04 Z" fill="#000"/>
<text x="374.28" y="475.05" font-size="17.5">0</text>
<text x="384.01" y="475.05" font-size="17.5">.</text>
<path d="M395.28 475.05 L393.72 475.05 L393.72 466.23 L390.67 466.23 L390.67 465.11 C392.65 465.11 393.46 464.59 393.82 462.64 L395.28 462.64 Z" fill="#000"/>
<text x="392.14" y="508.5" font-size="17.5" fill="#000">0.0</text>
<text x="507.71" y="508.5" font-size="17.5" fill="#000">2.5</text>
<text x="623.43" y="508.5" font-size="17.5" fill="#000">5.0</text>
<text x="486.19" y="531.9" font-size="17.1" fill="#000">Time (min)</text>
<text transform="translate(359.7 461.28) rotate(-90)" x="0" y="0" font-size="17.1">Intensity (AU)</text>
<rect x="581.1" y="454.7" width="4" height="4" fill="#aaa" stroke="#2a4cf5" stroke-width="0.8"/>
<text x="592.14" y="461" font-size="15.6" fill="#1a3cff">dsLag</text>
<circle cx="583.1" cy="473.6" r="2.1" fill="#bbb" stroke="#111" stroke-width="0.8"/>
<text x="592.37" y="477.4" font-size="15.6" fill="#000">ssLag</text>
<text x="-0.06" y="574.1" font-size="21" font-weight="bold" fill="#000">d</text>
<text x="266.86" y="582.9" font-size="19.9" fill="#000">NS3</text>
<clipPath id="cd"><rect x="69.4" y="588.5" width="241" height="161"/></clipPath>
<g clip-path="url(#cd)">
<path d="M89.84 680V760 M87.84 680h4 M87.84 760h4M91.42 666.11V691.52 M89.42 666.11h4 M89.42 691.52h4M93 664.75V683.13 M91 664.75h4 M91 683.13h4M94.58 657.81V679.55 M92.58 657.81h4 M92.58 679.55h4M96.16 654.95V680.03 M94.16 654.95h4 M94.16 680.03h4M97.74 653.78V672.8 M95.74 653.78h4 M95.74 672.8h4M99.32 649.17V671.5 M97.32 649.17h4 M97.32 671.5h4M100.9 647.03V669.6 M98.9 647.03h4 M98.9 669.6h4M102.48 646.22V666.52 M100.48 646.22h4 M100.48 666.52h4M104.06 641.31V666.52 M102.06 641.31h4 M102.06 666.52h4M105.64 639.86V664.15 M103.64 639.86h4 M103.64 664.15h4M107.22 640.23V659.45 M105.22 640.23h4 M105.22 659.45h4M108.8 639.19V657.35 M106.8 639.19h4 M106.8 657.35h4M110.38 634.23V659.09 M108.38 634.23h4 M108.38 659.09h4M111.96 632.56V658.27 M109.96 632.56h4 M109.96 658.27h4M113.54 631.79V656.66 M111.54 631.79h4 M111.54 656.66h4M115.12 630.88V653.18 M113.12 630.88h4 M113.12 653.18h4M116.7 630.88V654.25 M114.7 630.88h4 M114.7 654.25h4M118.28 628.49V651.96 M116.28 628.49h4 M116.28 651.96h4M119.86 627.15V652.75 M117.86 627.15h4 M117.86 652.75h4M121.44 627.27V648.2 M119.44 627.27h4 M119.44 648.2h4M123.01 626.09V645.51 M121.01 626.09h4 M121.01 645.51h4M124.59 624.79V645.26 M122.59 624.79h4 M122.59 645.26h4M126.17 622.46V645.25 M124.17 622.46h4 M124.17 645.25h4M127.75 623.02V643.77 M125.75 623.02h4 M125.75 643.77h4M129.33 621.08V641.61 M127.33 621.08h4 M127.33 641.61h4M130.91 620.18V640.76 M128.91 620.18h4 M128.91 640.76h4M132.49 617.51V639.37 M130.49 617.51h4 M130.49 639.37h4M134.07 615.09V640.75 M132.07 615.09h4 M132.07 640.75h4M135.65 617.57V635.89 M133.65 617.57h4 M133.65 635.89h4M137.23 616.77V635.06 M135.23 616.77h4 M135.23 635.06h4M138.81 611.67V635.89 M136.81 611.67h4 M136.81 635.89h4M140.39 616.44V630.52 M138.39 616.44h4 M138.39 630.52h4M141.97 616.56V630.87 M139.97 616.56h4 M139.97 630.87h4M143.55 615.33V630.52 M141.55 615.33h4 M141.55 630.52h4M145.13 613.62V632.14 M143.13 613.62h4 M143.13 632.14h4M146.71 614.06V630.13 M144.71 614.06h4 M144.71 630.13h4M148.29 611.46V627.6 M146.29 611.46h4 M146.29 627.6h4M149.87 611.19V625.86 M147.87 611.19h4 M147.87 625.86h4M151.45 609.6V628.08 M149.45 609.6h4 M149.45 628.08h4M153.03 611.7V625.95 M151.03 611.7h4 M151.03 625.95h4M154.61 607.02V626.67 M152.61 607.02h4 M152.61 626.67h4M156.19 609.14V626.79 M154.19 609.14h4 M154.19 626.79h4M157.77 607.6V627.09 M155.77 607.6h4 M155.77 627.09h4M159.35 607.26V624.52 M157.35 607.26h4 M157.35 624.52h4M160.93 609.42V625.3 M158.93 609.42h4 M158.93 625.3h4M162.51 608.42V622.91 M160.51 608.42h4 M160.51 622.91h4M164.09 608.33V623.24 M162.09 608.33h4 M162.09 623.24h4M165.67 606.84V621.83 M163.67 606.84h4 M163.67 621.83h4M167.24 605.72V620.03 M165.24 605.72h4 M165.24 620.03h4M168.82 606.96V623.4 M166.82 606.96h4 M166.82 623.4h4M170.4 606.36V621.79 M168.4 606.36h4 M168.4 621.79h4M171.98 604.55V621.28 M169.98 604.55h4 M169.98 621.28h4M173.56 604.68V621.22 M171.56 604.68h4 M171.56 621.22h4M175.14 607.46V621.68 M173.14 607.46h4 M173.14 621.68h4M176.72 605.04V622 M174.72 605.04h4 M174.72 622h4M178.3 603.8V622.18 M176.3 603.8h4 M176.3 622.18h4M179.88 602.48V622.16 M177.88 602.48h4 M177.88 622.16h4M181.46 604.31V618.97 M179.46 604.31h4 M179.46 618.97h4M183.04 603.07V619.68 M181.04 603.07h4 M181.04 619.68h4M184.62 604.74V620.52 M182.62 604.74h4 M182.62 620.52h4M186.2 604.32V621.04 M184.2 604.32h4 M184.2 621.04h4M187.78 602.81V622.65 M185.78 602.81h4 M185.78 622.65h4M189.36 603.01V619.73 M187.36 603.01h4 M187.36 619.73h4M190.94 601.79V618.67 M188.94 601.79h4 M188.94 618.67h4M192.52 603.23V618.98 M190.52 603.23h4 M190.52 618.98h4M194.1 602.46V618.73 M192.1 602.46h4 M192.1 618.73h4M195.68 600.96V620.86 M193.68 600.96h4 M193.68 620.86h4M197.26 602.89V619.88 M195.26 602.89h4 M195.26 619.88h4M198.84 602.19V618.23 M196.84 602.19h4 M196.84 618.23h4M200.42 604.1V617.28 M198.42 604.1h4 M198.42 617.28h4M202 603.63V617.18 M200 603.63h4 M200 617.18h4M203.58 602.76V615.92 M201.58 602.76h4 M201.58 615.92h4M205.16 604.29V617.11 M203.16 604.29h4 M203.16 617.11h4M206.74 603.53V614.96 M204.74 603.53h4 M204.74 614.96h4M208.32 602.35V615.21 M206.32 602.35h4 M206.32 615.21h4M209.9 602.83V615.97 M207.9 602.83h4 M207.9 615.97h4M211.47 603.7V616.5 M209.47 603.7h4 M209.47 616.5h4M213.05 602.61V615.24 M211.05 602.61h4 M211.05 615.24h4M214.63 604.44V616.78 M212.63 604.44h4 M212.63 616.78h4M216.21 604.39V615.35 M214.21 604.39h4 M214.21 615.35h4M217.79 602.72V615.44 M215.79 602.72h4 M215.79 615.44h4M219.37 601.55V614.17 M217.37 601.55h4 M217.37 614.17h4M220.95 602.48V615.73 M218.95 602.48h4 M218.95 615.73h4M222.53 601.78V614.78 M220.53 601.78h4 M220.53 614.78h4M224.11 602.71V616.09 M222.11 602.71h4 M222.11 616.09h4M225.69 601.17V614.72 M223.69 601.17h4 M223.69 614.72h4M227.27 603.09V615.88 M225.27 603.09h4 M225.27 615.88h4M228.85 603.94V616.01 M226.85 603.94h4 M226.85 616.01h4M230.43 602.14V614.26 M228.43 602.14h4 M228.43 614.26h4M232.01 602.01V615.85 M230.01 602.01h4 M230.01 615.85h4M233.59 603.33V615.24 M231.59 603.33h4 M231.59 615.24h4M235.17 601.41V614.38 M233.17 601.41h4 M233.17 614.38h4M236.75 601.98V612.6 M234.75 601.98h4 M234.75 612.6h4M238.33 601.93V614.63 M236.33 601.93h4 M236.33 614.63h4M239.91 601.47V613.14 M237.91 601.47h4 M237.91 613.14h4M241.49 601V613.58 M239.49 601h4 M239.49 613.58h4M243.07 600.79V613.72 M241.07 600.79h4 M241.07 613.72h4M244.65 602.41V614.16 M242.65 602.41h4 M242.65 614.16h4M246.23 601.64V614.27 M244.23 601.64h4 M244.23 614.27h4M247.81 601.75V614.3 M245.81 601.75h4 M245.81 614.3h4M249.39 603.67V613.75 M247.39 603.67h4 M247.39 613.75h4M250.97 603.3V611.41 M248.97 603.3h4 M248.97 611.41h4M252.55 603.63V612 M250.55 603.63h4 M250.55 612h4M254.12 603.27V611.84 M252.12 603.27h4 M252.12 611.84h4M255.7 604V612.04 M253.7 604h4 M253.7 612.04h4M257.28 602.08V612.06 M255.28 602.08h4 M255.28 612.06h4M258.86 602.79V612.69 M256.86 602.79h4 M256.86 612.69h4M260.44 603.72V611.64 M258.44 603.72h4 M258.44 611.64h4M262.02 604.2V613.49 M260.02 604.2h4 M260.02 613.49h4M263.6 603.26V611.57 M261.6 603.26h4 M261.6 611.57h4M265.18 602.74V613.46 M263.18 602.74h4 M263.18 613.46h4M266.76 602.36V612.34 M264.76 602.36h4 M264.76 612.34h4M268.34 603.43V611.67 M266.34 603.43h4 M266.34 611.67h4M269.92 601.94V611.81 M267.92 601.94h4 M267.92 611.81h4M271.5 601.65V612.79 M269.5 601.65h4 M269.5 612.79h4M273.08 602.27V612.93 M271.08 602.27h4 M271.08 612.93h4M274.66 601.7V611.78 M272.66 601.7h4 M272.66 611.78h4M276.24 602.09V612.01 M274.24 602.09h4 M274.24 612.01h4M277.82 602.58V612.4 M275.82 602.58h4 M275.82 612.4h4M279.4 603.75V613.72 M277.4 603.75h4 M277.4 613.72h4M280.98 602.22V611.32 M278.98 602.22h4 M278.98 611.32h4M282.56 603.03V611.32 M280.56 603.03h4 M280.56 611.32h4M284.14 602.2V612.02 M282.14 602.2h4 M282.14 612.02h4M285.72 601.83V611.86 M283.72 601.83h4 M283.72 611.86h4M287.3 601.39V612.3 M285.3 601.39h4 M285.3 612.3h4M288.88 602.24V610.92 M286.88 602.24h4 M286.88 610.92h4M290.46 603V611.9 M288.46 603h4 M288.46 611.9h4M292.04 601.98V613.13 M290.04 601.98h4 M290.04 613.13h4M293.62 601.35V612.34 M291.62 601.35h4 M291.62 612.34h4M295.2 600.93V612.14 M293.2 600.93h4 M293.2 612.14h4M296.78 601.83V611.42 M294.78 601.83h4 M294.78 611.42h4M298.35 600.79V612.02 M296.35 600.79h4 M296.35 612.02h4M299.93 602.31V611.88 M297.93 602.31h4 M297.93 611.88h4M301.51 602.48V610.81 M299.51 602.48h4 M299.51 610.81h4" stroke="#8a92f8" stroke-width="1" fill="none" opacity="0.7"/>
<g fill="#a0a0ac" stroke="#7f87f5" stroke-width="0.75"><rect x="88.19" y="718.35" width="3.3" height="3.3"/><rect x="89.77" y="677.16" width="3.3" height="3.3"/><rect x="91.35" y="672.29" width="3.3" height="3.3"/><rect x="92.93" y="667.03" width="3.3" height="3.3"/><rect x="94.51" y="665.84" width="3.3" height="3.3"/><rect x="96.09" y="661.64" width="3.3" height="3.3"/><rect x="97.67" y="658.68" width="3.3" height="3.3"/><rect x="99.25" y="656.67" width="3.3" height="3.3"/><rect x="100.83" y="654.72" width="3.3" height="3.3"/><rect x="102.41" y="652.26" width="3.3" height="3.3"/><rect x="103.99" y="650.36" width="3.3" height="3.3"/><rect x="105.57" y="648.19" width="3.3" height="3.3"/><rect x="107.15" y="646.62" width="3.3" height="3.3"/><rect x="108.73" y="645.01" width="3.3" height="3.3"/><rect x="110.31" y="643.76" width="3.3" height="3.3"/><rect x="111.89" y="642.57" width="3.3" height="3.3"/><rect x="113.47" y="640.38" width="3.3" height="3.3"/><rect x="115.05" y="640.92" width="3.3" height="3.3"/><rect x="116.63" y="638.58" width="3.3" height="3.3"/><rect x="118.21" y="638.3" width="3.3" height="3.3"/><rect x="119.79" y="636.09" width="3.3" height="3.3"/><rect x="121.36" y="634.15" width="3.3" height="3.3"/><rect x="122.94" y="633.38" width="3.3" height="3.3"/><rect x="124.52" y="632.21" width="3.3" height="3.3"/><rect x="126.1" y="631.75" width="3.3" height="3.3"/><rect x="127.68" y="629.69" width="3.3" height="3.3"/><rect x="129.26" y="628.82" width="3.3" height="3.3"/><rect x="130.84" y="626.79" width="3.3" height="3.3"/><rect x="132.42" y="626.27" width="3.3" height="3.3"/><rect x="134" y="625.08" width="3.3" height="3.3"/><rect x="135.58" y="624.26" width="3.3" height="3.3"/><rect x="137.16" y="622.13" width="3.3" height="3.3"/><rect x="138.74" y="621.83" width="3.3" height="3.3"/><rect x="140.32" y="622.07" width="3.3" height="3.3"/><rect x="141.9" y="621.28" width="3.3" height="3.3"/><rect x="143.48" y="621.23" width="3.3" height="3.3"/><rect x="145.06" y="620.44" width="3.3" height="3.3"/><rect x="146.64" y="617.88" width="3.3" height="3.3"/><rect x="148.22" y="616.87" width="3.3" height="3.3"/><rect x="149.8" y="617.19" width="3.3" height="3.3"/><rect x="151.38" y="617.18" width="3.3" height="3.3"/><rect x="152.96" y="615.19" width="3.3" height="3.3"/><rect x="154.54" y="616.31" width="3.3" height="3.3"/><rect x="156.12" y="615.7" width="3.3" height="3.3"/><rect x="157.7" y="614.24" width="3.3" height="3.3"/><rect x="159.28" y="615.71" width="3.3" height="3.3"/><rect x="160.86" y="614.02" width="3.3" height="3.3"/><rect x="162.44" y="614.14" width="3.3" height="3.3"/><rect x="164.02" y="612.69" width="3.3" height="3.3"/><rect x="165.59" y="611.23" width="3.3" height="3.3"/><rect x="167.17" y="613.53" width="3.3" height="3.3"/><rect x="168.75" y="612.42" width="3.3" height="3.3"/><rect x="170.33" y="611.27" width="3.3" height="3.3"/><rect x="171.91" y="611.3" width="3.3" height="3.3"/><rect x="173.49" y="612.92" width="3.3" height="3.3"/><rect x="175.07" y="611.87" width="3.3" height="3.3"/><rect x="176.65" y="611.34" width="3.3" height="3.3"/><rect x="178.23" y="610.67" width="3.3" height="3.3"/><rect x="179.81" y="609.99" width="3.3" height="3.3"/><rect x="181.39" y="609.73" width="3.3" height="3.3"/><rect x="182.97" y="610.98" width="3.3" height="3.3"/><rect x="184.55" y="611.03" width="3.3" height="3.3"/><rect x="186.13" y="611.08" width="3.3" height="3.3"/><rect x="187.71" y="609.72" width="3.3" height="3.3"/><rect x="189.29" y="608.58" width="3.3" height="3.3"/><rect x="190.87" y="609.45" width="3.3" height="3.3"/><rect x="192.45" y="608.94" width="3.3" height="3.3"/><rect x="194.03" y="609.26" width="3.3" height="3.3"/><rect x="195.61" y="609.73" width="3.3" height="3.3"/><rect x="197.19" y="608.56" width="3.3" height="3.3"/><rect x="198.77" y="609.04" width="3.3" height="3.3"/><rect x="200.35" y="608.75" width="3.3" height="3.3"/><rect x="201.93" y="607.69" width="3.3" height="3.3"/><rect x="203.51" y="609.05" width="3.3" height="3.3"/><rect x="205.09" y="607.6" width="3.3" height="3.3"/><rect x="206.67" y="607.13" width="3.3" height="3.3"/><rect x="208.25" y="607.75" width="3.3" height="3.3"/><rect x="209.82" y="608.45" width="3.3" height="3.3"/><rect x="211.4" y="607.27" width="3.3" height="3.3"/><rect x="212.98" y="608.96" width="3.3" height="3.3"/><rect x="214.56" y="608.22" width="3.3" height="3.3"/><rect x="216.14" y="607.43" width="3.3" height="3.3"/><rect x="217.72" y="606.21" width="3.3" height="3.3"/><rect x="219.3" y="607.46" width="3.3" height="3.3"/><rect x="220.88" y="606.63" width="3.3" height="3.3"/><rect x="222.46" y="607.75" width="3.3" height="3.3"/><rect x="224.04" y="606.3" width="3.3" height="3.3"/><rect x="225.62" y="607.84" width="3.3" height="3.3"/><rect x="227.2" y="608.32" width="3.3" height="3.3"/><rect x="228.78" y="606.55" width="3.3" height="3.3"/><rect x="230.36" y="607.28" width="3.3" height="3.3"/><rect x="231.94" y="607.64" width="3.3" height="3.3"/><rect x="233.52" y="606.25" width="3.3" height="3.3"/><rect x="235.1" y="605.64" width="3.3" height="3.3"/><rect x="236.68" y="606.63" width="3.3" height="3.3"/><rect x="238.26" y="605.65" width="3.3" height="3.3"/><rect x="239.84" y="605.64" width="3.3" height="3.3"/><rect x="241.42" y="605.61" width="3.3" height="3.3"/><rect x="243" y="606.64" width="3.3" height="3.3"/><rect x="244.58" y="606.31" width="3.3" height="3.3"/><rect x="246.16" y="606.38" width="3.3" height="3.3"/><rect x="247.74" y="607.06" width="3.3" height="3.3"/><rect x="249.32" y="605.7" width="3.3" height="3.3"/><rect x="250.9" y="606.17" width="3.3" height="3.3"/><rect x="252.47" y="605.9" width="3.3" height="3.3"/><rect x="254.05" y="606.37" width="3.3" height="3.3"/><rect x="255.63" y="605.42" width="3.3" height="3.3"/><rect x="257.21" y="606.09" width="3.3" height="3.3"/><rect x="258.79" y="606.03" width="3.3" height="3.3"/><rect x="260.37" y="607.2" width="3.3" height="3.3"/><rect x="261.95" y="605.76" width="3.3" height="3.3"/><rect x="263.53" y="606.45" width="3.3" height="3.3"/><rect x="265.11" y="605.7" width="3.3" height="3.3"/><rect x="266.69" y="605.9" width="3.3" height="3.3"/><rect x="268.27" y="605.23" width="3.3" height="3.3"/><rect x="269.85" y="605.57" width="3.3" height="3.3"/><rect x="271.43" y="605.95" width="3.3" height="3.3"/><rect x="273.01" y="605.09" width="3.3" height="3.3"/><rect x="274.59" y="605.4" width="3.3" height="3.3"/><rect x="276.17" y="605.84" width="3.3" height="3.3"/><rect x="277.75" y="607.08" width="3.3" height="3.3"/><rect x="279.33" y="605.12" width="3.3" height="3.3"/><rect x="280.91" y="605.53" width="3.3" height="3.3"/><rect x="282.49" y="605.46" width="3.3" height="3.3"/><rect x="284.07" y="605.2" width="3.3" height="3.3"/><rect x="285.65" y="605.2" width="3.3" height="3.3"/><rect x="287.23" y="604.93" width="3.3" height="3.3"/><rect x="288.81" y="605.8" width="3.3" height="3.3"/><rect x="290.39" y="605.9" width="3.3" height="3.3"/><rect x="291.97" y="605.2" width="3.3" height="3.3"/><rect x="293.55" y="604.88" width="3.3" height="3.3"/><rect x="295.13" y="604.98" width="3.3" height="3.3"/><rect x="296.7" y="604.76" width="3.3" height="3.3"/><rect x="298.28" y="605.45" width="3.3" height="3.3"/><rect x="299.86" y="605" width="3.3" height="3.3"/></g>
<path d="M81.3 750.7 L81.35 749.69 L81.4 748.69 L81.45 747.69 L81.5 746.7 L81.55 745.72 L81.6 744.74 L81.65 743.77 L81.7 742.81 L81.75 741.86 L81.8 740.91 L81.85 739.97 L81.9 739.04 L81.95 738.12 L82 737.21 L82.05 736.3 L82.1 735.4 L82.15 734.51 L82.2 733.63 L82.25 732.76 L82.3 731.9 L82.35 731.04 L82.4 730.2 L82.45 729.36 L82.5 728.5 L82.55 727.64 L82.6 726.78 L82.65 725.91 L82.7 725.05 L82.75 724.18 L82.8 723.32 L82.85 722.47 L82.9 721.63 L82.95 720.79 L83 719.97 L83.05 719.17 L83.1 718.38 L83.15 717.61 L83.2 716.86 L83.25 716.14 L83.3 715.44 L83.4 714.13 L83.5 712.94 L83.6 711.9 L83.7 710.96 L83.8 710.06 L83.9 709.2 L84 708.38 L84.1 707.6 L84.2 706.85 L84.3 706.12 L84.4 705.43 L84.55 704.44 L84.7 703.5 L84.85 702.59 L85 701.73 L85.15 700.89 L85.3 700.07 L85.45 699.25 L85.6 698.44 L85.75 697.63 L85.9 696.83 L86.05 696.06 L86.2 695.31 L86.35 694.57 L86.5 693.86 L86.65 693.16 L86.8 692.47 L87 691.58 L87.2 690.7 L87.4 689.84 L87.6 688.99 L87.8 688.15 L88 687.31 L88.2 686.47 L88.4 685.63 L88.6 684.77 L88.8 683.9 L89 683.03 L89.2 682.15 L89.4 681.27 L89.6 680.4 L89.8 679.54 L90 678.7 L90.2 677.87 L90.4 677.07 L90.6 676.3 L90.8 675.56 L91 674.87 L91.25 674.05 L91.5 673.3 L91.75 672.58 L92 671.89 L92.25 671.23 L92.55 670.47 L92.85 669.74 L93.15 669.03 L93.45 668.35 L93.75 667.69 L94.05 667.05 L94.4 666.32 L94.75 665.6 L95.1 664.89 L95.45 664.2 L95.8 663.51 L96.15 662.84 L96.5 662.18 L96.85 661.54 L97.2 660.91 L97.55 660.29 L97.95 659.6 L98.35 658.92 L98.75 658.27 L99.15 657.63 L99.55 657.01 L99.95 656.4 L100.35 655.82 L100.8 655.18 L101.25 654.55 L101.7 653.95 L102.15 653.36 L102.6 652.78 L103.05 652.22 L103.5 651.67 L103.95 651.13 L104.45 650.54 L104.95 649.97 L105.45 649.41 L105.95 648.86 L106.45 648.32 L106.95 647.78 L107.45 647.25 L107.95 646.73 L108.45 646.22 L108.95 645.73 L109.5 645.19 L110.05 644.67 L110.6 644.15 L111.15 643.65 L111.7 643.15 L112.25 642.65 L112.8 642.16 L113.35 641.67 L113.9 641.19 L114.45 640.7 L115 640.21 L115.55 639.71 L116.1 639.21 L116.65 638.7 L117.2 638.18 L117.75 637.66 L118.3 637.13 L118.85 636.59 L119.4 636.06 L119.95 635.52 L120.5 634.98 L121.05 634.45 L121.6 633.92 L122.15 633.39 L122.7 632.88 L123.25 632.37 L123.8 631.87 L124.35 631.38 L124.9 630.91 L125.45 630.45 L126 630.01 L126.6 629.55 L127.2 629.11 L127.8 628.7 L128.4 628.3 L129 627.91 L129.6 627.52 L130.2 627.13 L130.8 626.75 L131.4 626.38 L132 626 L132.6 625.64 L133.2 625.27 L133.85 624.88 L134.5 624.5 L135.15 624.12 L135.8 623.75 L136.45 623.39 L137.1 623.03 L137.75 622.68 L138.4 622.34 L139.05 622 L139.7 621.67 L140.35 621.35 L141 621.03 L141.65 620.72 L142.3 620.42 L142.95 620.13 L143.6 619.84 L144.25 619.57 L144.9 619.3 L145.55 619.04 L146.25 618.77 L146.95 618.51 L147.65 618.26 L148.35 618.02 L149.05 617.79 L149.75 617.57 L150.45 617.37 L151.15 617.17 L151.85 616.97 L152.55 616.77 L153.25 616.59 L153.95 616.4 L154.65 616.22 L155.35 616.04 L156.05 615.87 L156.75 615.7 L157.45 615.54 L158.15 615.37 L158.85 615.22 L159.55 615.06 L160.25 614.91 L160.95 614.76 L161.65 614.62 L162.35 614.48 L163.05 614.34 L163.75 614.2 L164.45 614.07 L165.15 613.94 L165.85 613.82 L166.55 613.69 L167.25 613.57 L167.95 613.45 L168.65 613.33 L169.35 613.22 L170.05 613.1 L170.75 612.99 L171.45 612.88 L172.15 612.78 L172.85 612.67 L173.55 612.57 L174.25 612.46 L174.95 612.36 L175.65 612.26 L176.35 612.16 L177.05 612.07 L177.75 611.97 L178.45 611.88 L179.15 611.78 L179.85 611.69 L180.55 611.6 L181.25 611.51 L181.95 611.42 L182.65 611.34 L183.35 611.25 L184.05 611.17 L184.75 611.09 L185.45 611 L186.15 610.93 L186.85 610.85 L187.55 610.77 L188.25 610.7 L188.95 610.62 L189.65 610.55 L190.35 610.48 L191.05 610.41 L191.75 610.34 L192.45 610.27 L193.15 610.21 L193.85 610.15 L194.55 610.08 L195.25 610.02 L195.95 609.96 L196.65 609.91 L197.35 609.85 L198.05 609.8 L198.75 609.74 L199.45 609.69 L200.15 609.64 L200.85 609.59 L201.55 609.54 L202.25 609.49 L202.95 609.44 L203.65 609.39 L204.35 609.34 L205.05 609.3 L205.75 609.25 L206.45 609.2 L207.15 609.16 L207.85 609.12 L208.55 609.07 L209.25 609.03 L209.95 608.99 L210.65 608.95 L211.35 608.91 L212.05 608.87 L212.75 608.83 L213.45 608.79 L214.15 608.76 L214.85 608.72 L215.55 608.69 L216.25 608.65 L216.95 608.62 L217.65 608.59 L218.35 608.55 L219.05 608.52 L219.75 608.49 L220.45 608.46 L221.15 608.43 L221.85 608.41 L222.55 608.38 L223.25 608.35 L223.95 608.33 L224.65 608.3 L225.35 608.27 L226.05 608.25 L226.75 608.23 L227.45 608.2 L228.15 608.18 L228.85 608.16 L229.55 608.13 L230.25 608.11 L230.95 608.09 L231.65 608.07 L232.35 608.05 L233.05 608.02 L233.75 608 L234.45 607.98 L235.15 607.96 L235.85 607.95 L236.55 607.93 L237.25 607.91 L237.95 607.89 L238.65 607.87 L239.35 607.85 L240.05 607.84 L240.75 607.82 L241.45 607.8 L242.15 607.79 L242.85 607.77 L243.55 607.75 L244.25 607.74 L244.95 607.72 L245.65 607.71 L246.35 607.69 L247.05 607.68 L247.75 607.66 L248.45 607.65 L249.15 607.64 L249.85 607.62 L250.55 607.61 L251.25 607.6 L251.95 607.58 L252.65 607.57 L253.35 607.56 L254.05 607.55 L254.75 607.53 L255.45 607.52 L256.15 607.51 L256.85 607.5 L257.55 607.49 L258.25 607.48 L258.95 607.46 L259.65 607.45 L260.35 607.44 L261.05 607.43 L261.75 607.42 L262.45 607.41 L263.15 607.4 L263.85 607.39 L264.55 607.38 L265.25 607.37 L265.95 607.36 L266.65 607.35 L267.35 607.34 L268.05 607.33 L268.75 607.32 L269.45 607.31 L270.15 607.3 L270.85 607.29 L271.55 607.28 L272.25 607.27 L272.95 607.26 L273.65 607.25 L274.35 607.24 L275.05 607.23 L275.75 607.22 L276.45 607.21 L277.15 607.2 L277.85 607.19 L278.55 607.18 L279.25 607.17 L279.95 607.16 L280.65 607.15 L281.35 607.14 L282.05 607.13 L282.75 607.12 L283.45 607.11 L284.15 607.11 L284.85 607.1 L285.55 607.09 L286.25 607.08 L286.95 607.07 L287.65 607.06 L288.35 607.05 L289.05 607.04 L289.75 607.03 L290.45 607.03 L291.15 607.02 L291.85 607.01 L292.55 607 L293.25 606.99 L293.95 606.98 L294.65 606.98 L295.35 606.97 L296.05 606.96 L296.75 606.95 L297.45 606.95 L298.15 606.94 L298.85 606.93 L299.55 606.92 L300.25 606.92 L300.95 606.91 L301.65 606.9 L301.7 606.9" fill="none" stroke="#6a72f2" stroke-width="1.3"/>
<path d="M82.6 752 L82.65 750.99 L82.7 749.99 L82.75 748.99 L82.8 748 L82.85 747.02 L82.9 746.04 L82.95 745.07 L83 744.11 L83.05 743.16 L83.1 742.21 L83.15 741.27 L83.2 740.34 L83.25 739.42 L83.3 738.51 L83.35 737.6 L83.4 736.7 L83.45 735.81 L83.5 734.93 L83.55 734.06 L83.6 733.2 L83.65 732.34 L83.7 731.5 L83.75 730.66 L83.8 729.8 L83.85 728.94 L83.9 728.08 L83.95 727.21 L84 726.35 L84.05 725.48 L84.1 724.62 L84.15 723.77 L84.2 722.93 L84.25 722.09 L84.3 721.27 L84.35 720.47 L84.4 719.68 L84.45 718.91 L84.5 718.16 L84.55 717.44 L84.6 716.74 L84.7 715.43 L84.8 714.24 L84.9 713.2 L85 712.26 L85.1 711.36 L85.2 710.5 L85.3 709.68 L85.4 708.9 L85.5 708.15 L85.6 707.42 L85.7 706.73 L85.85 705.74 L86 704.8 L86.15 703.89 L86.3 703.03 L86.45 702.19 L86.6 701.37 L86.75 700.55 L86.9 699.74 L87.05 698.93 L87.2 698.13 L87.35 697.36 L87.5 696.61 L87.65 695.87 L87.8 695.16 L87.95 694.46 L88.1 693.77 L88.3 692.88 L88.5 692 L88.7 691.14 L88.9 690.29 L89.1 689.45 L89.3 688.61 L89.5 687.77 L89.7 686.93 L89.9 686.07 L90.1 685.2 L90.3 684.33 L90.5 683.45 L90.7 682.57 L90.9 681.7 L91.1 680.84 L91.3 680 L91.5 679.17 L91.7 678.37 L91.9 677.6 L92.1 676.86 L92.3 676.17 L92.55 675.35 L92.8 674.6 L93.05 673.88 L93.3 673.19 L93.55 672.53 L93.85 671.77 L94.15 671.04 L94.45 670.33 L94.75 669.65 L95.05 668.99 L95.35 668.35 L95.7 667.62 L96.05 666.9 L96.4 666.19 L96.75 665.5 L97.1 664.81 L97.45 664.14 L97.8 663.48 L98.15 662.84 L98.5 662.21 L98.85 661.59 L99.25 660.9 L99.65 660.22 L100.05 659.57 L100.45 658.93 L100.85 658.31 L101.25 657.7 L101.65 657.12 L102.1 656.48 L102.55 655.85 L103 655.25 L103.45 654.66 L103.9 654.08 L104.35 653.52 L104.8 652.97 L105.25 652.43 L105.75 651.84 L106.25 651.27 L106.75 650.71 L107.25 650.16 L107.75 649.62 L108.25 649.08 L108.75 648.55 L109.25 648.03 L109.75 647.52 L110.25 647.03 L110.8 646.49 L111.35 645.97 L111.9 645.45 L112.45 644.95 L113 644.45 L113.55 643.95 L114.1 643.46 L114.65 642.97 L115.2 642.49 L115.75 642 L116.3 641.51 L116.85 641.01 L117.4 640.51 L117.95 640 L118.5 639.49 L119.05 638.98 L119.6 638.46 L120.15 637.94 L120.7 637.42 L121.25 636.9 L121.8 636.39 L122.35 635.87 L122.9 635.36 L123.45 634.85 L124 634.34 L124.55 633.84 L125.1 633.34 L125.65 632.85 L126.2 632.37 L126.75 631.9 L127.3 631.44 L127.85 630.99 L128.4 630.54 L129 630.08 L129.6 629.62 L130.2 629.17 L130.8 628.71 L131.4 628.27 L132 627.82 L132.6 627.38 L133.2 626.94 L133.8 626.51 L134.4 626.08 L135 625.65 L135.6 625.23 L136.2 624.81 L136.8 624.4 L137.4 623.98 L138 623.58 L138.6 623.18 L139.2 622.78 L139.8 622.39 L140.4 622 L141 621.61 L141.6 621.23 L142.2 620.86 L142.8 620.49 L143.4 620.13 L144.05 619.74 L144.7 619.36 L145.35 618.98 L146 618.62 L146.65 618.25 L147.3 617.9 L147.95 617.55 L148.6 617.21 L149.25 616.88 L149.9 616.55 L150.55 616.23 L151.2 615.92 L151.85 615.62 L152.5 615.33 L153.15 615.05 L153.8 614.77 L154.45 614.5 L155.1 614.24 L155.75 613.98 L156.45 613.7 L157.15 613.43 L157.85 613.16 L158.55 612.89 L159.25 612.62 L159.95 612.36 L160.65 612.09 L161.35 611.82 L162.05 611.55 L162.75 611.27 L163.4 611.01 L164.05 610.74 L164.7 610.47 L165.35 610.2 L166 609.93 L166.65 609.66 L167.3 609.39 L167.95 609.11 L168.6 608.84 L169.25 608.56 L169.9 608.29 L170.55 608.01 L171.2 607.74 L171.85 607.46 L172.5 607.18 L173.15 606.91 L173.8 606.63 L174.1 606.5" fill="none" stroke="#000" stroke-width="3"/>
<path d="M83.34 727.77V735.68 M81.54 727.77h3.6 M81.54 735.68h3.6M84.92 708.97V715.44 M83.12 708.97h3.6 M83.12 715.44h3.6M86.5 698.67V706.48 M84.7 698.67h3.6 M84.7 706.48h3.6M88.08 689.03V698.7 M86.28 689.03h3.6 M86.28 698.7h3.6M89.66 683.28V689.83 M87.86 683.28h3.6 M87.86 689.83h3.6M91.24 675.84V685.77 M89.44 675.84h3.6 M89.44 685.77h3.6M92.82 670.36V678.61 M91.02 670.36h3.6 M91.02 678.61h3.6M94.4 665.4V674.57 M92.6 665.4h3.6 M92.6 674.57h3.6M95.98 662.27V672.22 M94.18 662.27h3.6 M94.18 672.22h3.6M97.55 661.24V667.74 M95.75 661.24h3.6 M95.75 667.74h3.6M99.13 656.23V666.43 M97.33 656.23h3.6 M97.33 666.43h3.6M100.71 654.4V661.35 M98.91 654.4h3.6 M98.91 661.35h3.6M102.29 651.91V661.86 M100.49 651.91h3.6 M100.49 661.86h3.6M103.87 650.74V658.39 M102.07 650.74h3.6 M102.07 658.39h3.6M105.45 648.01V656.87 M103.65 648.01h3.6 M103.65 656.87h3.6M107.03 647.24V653.9 M105.23 647.24h3.6 M105.23 653.9h3.6M108.61 646.23V652.31 M106.81 646.23h3.6 M106.81 652.31h3.6M110.19 642.41V651.4 M108.39 642.41h3.6 M108.39 651.4h3.6M111.77 639.6V650.22 M109.97 639.6h3.6 M109.97 650.22h3.6M113.35 640.89V648.98 M111.55 640.89h3.6 M111.55 648.98h3.6M114.93 637.32V647.28 M113.13 637.32h3.6 M113.13 647.28h3.6M116.51 635.24V646.29 M114.71 635.24h3.6 M114.71 646.29h3.6M118.09 635.97V644.62 M116.29 635.97h3.6 M116.29 644.62h3.6M119.67 635.1V641.84 M117.87 635.1h3.6 M117.87 641.84h3.6M121.25 631.52V641.96 M119.45 631.52h3.6 M119.45 641.96h3.6M122.83 631.24V639.4 M121.03 631.24h3.6 M121.03 639.4h3.6M124.41 631.06V637.86 M122.61 631.06h3.6 M122.61 637.86h3.6M125.99 629.97V636.03 M124.19 629.97h3.6 M124.19 636.03h3.6M127.57 627.9V634.04 M125.77 627.9h3.6 M125.77 634.04h3.6M129.15 624.82V635.16 M127.35 624.82h3.6 M127.35 635.16h3.6M130.73 623.85V633.63 M128.93 623.85h3.6 M128.93 633.63h3.6M132.31 625.07V629.98 M130.51 625.07h3.6 M130.51 629.98h3.6M133.89 621.57V630.34 M132.09 621.57h3.6 M132.09 630.34h3.6M135.47 622.79V629.55 M133.67 622.79h3.6 M133.67 629.55h3.6M137.05 621.1V626.71 M135.25 621.1h3.6 M135.25 626.71h3.6M138.63 617.87V629.07 M136.83 617.87h3.6 M136.83 629.07h3.6M140.21 617.78V627.35 M138.41 617.78h3.6 M138.41 627.35h3.6M141.78 617.61V624.95 M139.98 617.61h3.6 M139.98 624.95h3.6M143.36 614.95V626.02 M141.56 614.95h3.6 M141.56 626.02h3.6M144.94 613.92V624.43 M143.14 613.92h3.6 M143.14 624.43h3.6M146.52 614.04V621.7 M144.72 614.04h3.6 M144.72 621.7h3.6M148.1 611.58V621.7 M146.3 611.58h3.6 M146.3 621.7h3.6M149.68 612.91V620.72 M147.88 612.91h3.6 M147.88 620.72h3.6M151.26 612.81V617.94 M149.46 612.81h3.6 M149.46 617.94h3.6M152.84 612.39V617.66 M151.04 612.39h3.6 M151.04 617.66h3.6M154.42 612.83V616.41 M152.62 612.83h3.6 M152.62 616.41h3.6M156 611.47V614.72 M154.2 611.47h3.6 M154.2 614.72h3.6M157.58 611.97V614.68 M155.78 611.97h3.6 M155.78 614.68h3.6M159.16 611.13V615.04 M157.36 611.13h3.6 M157.36 615.04h3.6M160.74 610.7V614.25 M158.94 610.7h3.6 M158.94 614.25h3.6M162.32 608.69V612.23 M160.52 608.69h3.6 M160.52 612.23h3.6M163.9 609.07V613.16 M162.1 609.07h3.6 M162.1 613.16h3.6M165.48 608.79V612.37 M163.68 608.79h3.6 M163.68 612.37h3.6M167.06 606.82V611.13 M165.26 606.82h3.6 M165.26 611.13h3.6M168.64 606.42V610.39 M166.84 606.42h3.6 M166.84 610.39h3.6M170.22 606.1V609.82 M168.42 606.1h3.6 M168.42 609.82h3.6M171.8 604.92V609.88 M170 604.92h3.6 M170 609.88h3.6M173.38 603.31V609.36 M171.58 603.31h3.6 M171.58 609.36h3.6M174.96 604.28V609.04 M173.16 604.28h3.6 M173.16 609.04h3.6M176.54 603.8V607.57 M174.74 603.8h3.6 M174.74 607.57h3.6M178.12 602.39V607.82 M176.32 602.39h3.6 M176.32 607.82h3.6M179.7 602.53V608.46 M177.9 602.53h3.6 M177.9 608.46h3.6M181.28 602.75V606.97 M179.48 602.75h3.6 M179.48 606.97h3.6M182.86 603.2V606.04 M181.06 603.2h3.6 M181.06 606.04h3.6M184.43 603.54V606.57 M182.63 603.54h3.6 M182.63 606.57h3.6M186.01 601.59V606.76 M184.21 601.59h3.6 M184.21 606.76h3.6M187.59 600.27V605.91 M185.79 600.27h3.6 M185.79 605.91h3.6M189.17 602.91V605.77 M187.37 602.91h3.6 M187.37 605.77h3.6M190.75 601.28V606.08 M188.95 601.28h3.6 M188.95 606.08h3.6M192.33 602.02V606.15 M190.53 602.02h3.6 M190.53 606.15h3.6M193.91 600.82V605.19 M192.11 600.82h3.6 M192.11 605.19h3.6M195.49 599.65V603.94 M193.69 599.65h3.6 M193.69 603.94h3.6M197.07 601.14V604.29 M195.27 601.14h3.6 M195.27 604.29h3.6M198.65 599.96V604.8 M196.85 599.96h3.6 M196.85 604.8h3.6M200.23 599.27V604.12 M198.43 599.27h3.6 M198.43 604.12h3.6M201.81 600V602.98 M200.01 600h3.6 M200.01 602.98h3.6M203.39 599.79V604.06 M201.59 599.79h3.6 M201.59 604.06h3.6M204.97 598.67V604.47 M203.17 598.67h3.6 M203.17 604.47h3.6M206.55 598.91V602 M204.75 598.91h3.6 M204.75 602h3.6M208.13 597.42V602.99 M206.33 597.42h3.6 M206.33 602.99h3.6M209.71 598.1V603.95 M207.91 598.1h3.6 M207.91 603.95h3.6M211.29 597.66V603.5 M209.49 597.66h3.6 M209.49 603.5h3.6M212.87 597.9V602.98 M211.07 597.9h3.6 M211.07 602.98h3.6M214.45 596.83V602.26 M212.65 596.83h3.6 M212.65 602.26h3.6M216.03 597.44V603.28 M214.23 597.44h3.6 M214.23 603.28h3.6M217.61 598.2V602.39 M215.81 598.2h3.6 M215.81 602.39h3.6M219.19 597.58V601.2 M217.39 597.58h3.6 M217.39 601.2h3.6M220.77 596.09V601.23 M218.97 596.09h3.6 M218.97 601.23h3.6M222.35 596.7V602.78 M220.55 596.7h3.6 M220.55 602.78h3.6M223.93 597.35V601 M222.13 597.35h3.6 M222.13 601h3.6M225.51 596.07V601.73 M223.71 596.07h3.6 M223.71 601.73h3.6M227.09 596.71V600.34 M225.29 596.71h3.6 M225.29 600.34h3.6M228.66 596V601.88 M226.86 596h3.6 M226.86 601.88h3.6M230.24 596.88V599.63 M228.44 596.88h3.6 M228.44 599.63h3.6M231.82 596.51V601.39 M230.02 596.51h3.6 M230.02 601.39h3.6M233.4 596.29V600.81 M231.6 596.29h3.6 M231.6 600.81h3.6M234.98 596.32V600.27 M233.18 596.32h3.6 M233.18 600.27h3.6M236.56 596.57V599.39 M234.76 596.57h3.6 M234.76 599.39h3.6M238.14 595.6V601.58 M236.34 595.6h3.6 M236.34 601.58h3.6M239.72 595.15V600.25 M237.92 595.15h3.6 M237.92 600.25h3.6M241.3 594.94V600.15 M239.5 594.94h3.6 M239.5 600.15h3.6M242.88 596.19V599.23 M241.08 596.19h3.6 M241.08 599.23h3.6M244.46 594.81V599.19 M242.66 594.81h3.6 M242.66 599.19h3.6M246.04 595.81V598.72 M244.24 595.81h3.6 M244.24 598.72h3.6M247.62 596.46V599.2 M245.82 596.46h3.6 M245.82 599.2h3.6M249.2 595.28V599.77 M247.4 595.28h3.6 M247.4 599.77h3.6M250.78 595.84V599.01 M248.98 595.84h3.6 M248.98 599.01h3.6M252.36 595.13V599.77 M250.56 595.13h3.6 M250.56 599.77h3.6M253.94 595.14V598.56 M252.14 595.14h3.6 M252.14 598.56h3.6M255.52 594.93V599.56 M253.72 594.93h3.6 M253.72 599.56h3.6M257.1 595.77V598.99 M255.3 595.77h3.6 M255.3 598.99h3.6M258.68 594.8V598.56 M256.88 594.8h3.6 M256.88 598.56h3.6M260.26 594.21V599.62 M258.46 594.21h3.6 M258.46 599.62h3.6M261.84 595.1V599.74 M260.04 595.1h3.6 M260.04 599.74h3.6M263.42 594.95V598.93 M261.62 594.95h3.6 M261.62 598.93h3.6M265 595.01V599.21 M263.2 595.01h3.6 M263.2 599.21h3.6M266.58 593.16V597.74 M264.78 593.16h3.6 M264.78 597.74h3.6M268.16 595.11V600.08 M266.36 595.11h3.6 M266.36 600.08h3.6M269.74 593.74V599.22 M267.94 593.74h3.6 M267.94 599.22h3.6M271.32 593.97V597.92 M269.52 593.97h3.6 M269.52 597.92h3.6M272.89 594.33V597.54 M271.09 594.33h3.6 M271.09 597.54h3.6M274.47 593.04V597.88 M272.67 593.04h3.6 M272.67 597.88h3.6M276.05 594.95V597.74 M274.25 594.95h3.6 M274.25 597.74h3.6M277.63 593.88V599.19 M275.83 593.88h3.6 M275.83 599.19h3.6M279.21 595.43V598.42 M277.41 595.43h3.6 M277.41 598.42h3.6M280.79 594.86V598.79 M278.99 594.86h3.6 M278.99 598.79h3.6M282.37 594.17V599.58 M280.57 594.17h3.6 M280.57 599.58h3.6M283.95 594.69V598.12 M282.15 594.69h3.6 M282.15 598.12h3.6M285.53 593.49V597.16 M283.73 593.49h3.6 M283.73 597.16h3.6M287.11 593.67V597.97 M285.31 593.67h3.6 M285.31 597.97h3.6M288.69 594.43V597.67 M286.89 594.43h3.6 M286.89 597.67h3.6M290.27 592.8V597.76 M288.47 592.8h3.6 M288.47 597.76h3.6M291.85 593.25V599.35 M290.05 593.25h3.6 M290.05 599.35h3.6M293.43 594.86V597.67 M291.63 594.86h3.6 M291.63 597.67h3.6M295.01 594.24V599.26 M293.21 594.24h3.6 M293.21 599.26h3.6M296.59 593.1V598.31 M294.79 593.1h3.6 M294.79 598.31h3.6M298.17 593.73V597.93 M296.37 593.73h3.6 M296.37 597.93h3.6M299.75 594.05V597.4 M297.95 594.05h3.6 M297.95 597.4h3.6M301.33 593.79V599.21 M299.53 593.79h3.6 M299.53 599.21h3.6" stroke="#444" stroke-width="0.8" fill="none" opacity="0.75"/>
<g fill="#b4b4b4" stroke="#000" stroke-width="0.85"><circle cx="83.34" cy="731.72" r="2.05"/><circle cx="84.92" cy="712.2" r="2.05"/><circle cx="86.5" cy="702.58" r="2.05"/><circle cx="88.08" cy="693.86" r="2.05"/><circle cx="89.66" cy="686.56" r="2.05"/><circle cx="91.24" cy="680.8" r="2.05"/><circle cx="92.82" cy="674.49" r="2.05"/><circle cx="94.4" cy="669.99" r="2.05"/><circle cx="95.98" cy="667.25" r="2.05"/><circle cx="97.55" cy="664.49" r="2.05"/><circle cx="99.13" cy="661.33" r="2.05"/><circle cx="100.71" cy="657.88" r="2.05"/><circle cx="102.29" cy="656.88" r="2.05"/><circle cx="103.87" cy="654.56" r="2.05"/><circle cx="105.45" cy="652.44" r="2.05"/><circle cx="107.03" cy="650.57" r="2.05"/><circle cx="108.61" cy="649.27" r="2.05"/><circle cx="110.19" cy="646.91" r="2.05"/><circle cx="111.77" cy="644.91" r="2.05"/><circle cx="113.35" cy="644.94" r="2.05"/><circle cx="114.93" cy="642.3" r="2.05"/><circle cx="116.51" cy="640.77" r="2.05"/><circle cx="118.09" cy="640.29" r="2.05"/><circle cx="119.67" cy="638.47" r="2.05"/><circle cx="121.25" cy="636.74" r="2.05"/><circle cx="122.83" cy="635.32" r="2.05"/><circle cx="124.41" cy="634.46" r="2.05"/><circle cx="125.99" cy="633" r="2.05"/><circle cx="127.57" cy="630.97" r="2.05"/><circle cx="129.15" cy="629.99" r="2.05"/><circle cx="130.73" cy="628.74" r="2.05"/><circle cx="132.31" cy="627.53" r="2.05"/><circle cx="133.89" cy="625.96" r="2.05"/><circle cx="135.47" cy="626.17" r="2.05"/><circle cx="137.05" cy="623.9" r="2.05"/><circle cx="138.63" cy="623.47" r="2.05"/><circle cx="140.21" cy="622.56" r="2.05"/><circle cx="141.78" cy="621.28" r="2.05"/><circle cx="143.36" cy="620.49" r="2.05"/><circle cx="144.94" cy="619.18" r="2.05"/><circle cx="146.52" cy="617.87" r="2.05"/><circle cx="148.1" cy="616.64" r="2.05"/><circle cx="149.68" cy="616.81" r="2.05"/><circle cx="151.26" cy="615.38" r="2.05"/><circle cx="152.84" cy="615.02" r="2.05"/><circle cx="154.42" cy="614.62" r="2.05"/><circle cx="156" cy="613.09" r="2.05"/><circle cx="157.58" cy="613.32" r="2.05"/><circle cx="159.16" cy="613.09" r="2.05"/><circle cx="160.74" cy="612.48" r="2.05"/><circle cx="162.32" cy="610.46" r="2.05"/><circle cx="163.9" cy="611.12" r="2.05"/><circle cx="165.48" cy="610.58" r="2.05"/><circle cx="167.06" cy="608.98" r="2.05"/><circle cx="168.64" cy="608.41" r="2.05"/><circle cx="170.22" cy="607.96" r="2.05"/><circle cx="171.8" cy="607.4" r="2.05"/><circle cx="173.38" cy="606.33" r="2.05"/><circle cx="174.96" cy="606.66" r="2.05"/><circle cx="176.54" cy="605.68" r="2.05"/><circle cx="178.12" cy="605.1" r="2.05"/><circle cx="179.7" cy="605.5" r="2.05"/><circle cx="181.28" cy="604.86" r="2.05"/><circle cx="182.86" cy="604.62" r="2.05"/><circle cx="184.43" cy="605.06" r="2.05"/><circle cx="186.01" cy="604.18" r="2.05"/><circle cx="187.59" cy="603.09" r="2.05"/><circle cx="189.17" cy="604.34" r="2.05"/><circle cx="190.75" cy="603.68" r="2.05"/><circle cx="192.33" cy="604.09" r="2.05"/><circle cx="193.91" cy="603" r="2.05"/><circle cx="195.49" cy="601.8" r="2.05"/><circle cx="197.07" cy="602.72" r="2.05"/><circle cx="198.65" cy="602.38" r="2.05"/><circle cx="200.23" cy="601.69" r="2.05"/><circle cx="201.81" cy="601.49" r="2.05"/><circle cx="203.39" cy="601.92" r="2.05"/><circle cx="204.97" cy="601.57" r="2.05"/><circle cx="206.55" cy="600.46" r="2.05"/><circle cx="208.13" cy="600.2" r="2.05"/><circle cx="209.71" cy="601.02" r="2.05"/><circle cx="211.29" cy="600.58" r="2.05"/><circle cx="212.87" cy="600.44" r="2.05"/><circle cx="214.45" cy="599.54" r="2.05"/><circle cx="216.03" cy="600.36" r="2.05"/><circle cx="217.61" cy="600.29" r="2.05"/><circle cx="219.19" cy="599.39" r="2.05"/><circle cx="220.77" cy="598.66" r="2.05"/><circle cx="222.35" cy="599.74" r="2.05"/><circle cx="223.93" cy="599.17" r="2.05"/><circle cx="225.51" cy="598.9" r="2.05"/><circle cx="227.09" cy="598.53" r="2.05"/><circle cx="228.66" cy="598.94" r="2.05"/><circle cx="230.24" cy="598.25" r="2.05"/><circle cx="231.82" cy="598.95" r="2.05"/><circle cx="233.4" cy="598.55" r="2.05"/><circle cx="234.98" cy="598.29" r="2.05"/><circle cx="236.56" cy="597.98" r="2.05"/><circle cx="238.14" cy="598.59" r="2.05"/><circle cx="239.72" cy="597.7" r="2.05"/><circle cx="241.3" cy="597.54" r="2.05"/><circle cx="242.88" cy="597.71" r="2.05"/><circle cx="244.46" cy="597" r="2.05"/><circle cx="246.04" cy="597.26" r="2.05"/><circle cx="247.62" cy="597.83" r="2.05"/><circle cx="249.2" cy="597.52" r="2.05"/><circle cx="250.78" cy="597.43" r="2.05"/><circle cx="252.36" cy="597.45" r="2.05"/><circle cx="253.94" cy="596.85" r="2.05"/><circle cx="255.52" cy="597.24" r="2.05"/><circle cx="257.1" cy="597.38" r="2.05"/><circle cx="258.68" cy="596.68" r="2.05"/><circle cx="260.26" cy="596.92" r="2.05"/><circle cx="261.84" cy="597.42" r="2.05"/><circle cx="263.42" cy="596.94" r="2.05"/><circle cx="265" cy="597.11" r="2.05"/><circle cx="266.58" cy="595.45" r="2.05"/><circle cx="268.16" cy="597.59" r="2.05"/><circle cx="269.74" cy="596.48" r="2.05"/><circle cx="271.32" cy="595.94" r="2.05"/><circle cx="272.89" cy="595.94" r="2.05"/><circle cx="274.47" cy="595.46" r="2.05"/><circle cx="276.05" cy="596.34" r="2.05"/><circle cx="277.63" cy="596.53" r="2.05"/><circle cx="279.21" cy="596.93" r="2.05"/><circle cx="280.79" cy="596.83" r="2.05"/><circle cx="282.37" cy="596.87" r="2.05"/><circle cx="283.95" cy="596.4" r="2.05"/><circle cx="285.53" cy="595.33" r="2.05"/><circle cx="287.11" cy="595.82" r="2.05"/><circle cx="288.69" cy="596.05" r="2.05"/><circle cx="290.27" cy="595.28" r="2.05"/><circle cx="291.85" cy="596.3" r="2.05"/><circle cx="293.43" cy="596.26" r="2.05"/><circle cx="295.01" cy="596.75" r="2.05"/><circle cx="296.59" cy="595.7" r="2.05"/><circle cx="298.17" cy="595.83" r="2.05"/><circle cx="299.75" cy="595.72" r="2.05"/><circle cx="301.33" cy="596.5" r="2.05"/></g>
</g>
<path d="M69.4 749.5h1.9M310.4 749.5h-1.9M69.4 744.15h1.9M310.4 744.15h-1.9M69.4 739.62h1.9M310.4 739.62h-1.9M69.4 735.7h1.9M310.4 735.7h-1.9M69.4 732.24h1.9M310.4 732.24h-1.9M69.4 729.15h3.6M310.4 729.15h-3.6M69.4 708.8h1.9M310.4 708.8h-1.9M69.4 696.9h1.9M310.4 696.9h-1.9M69.4 688.45h1.9M310.4 688.45h-1.9M69.4 681.9h1.9M310.4 681.9h-1.9M69.4 676.55h1.9M310.4 676.55h-1.9M69.4 672.02h1.9M310.4 672.02h-1.9M69.4 668.1h1.9M310.4 668.1h-1.9M69.4 664.64h1.9M310.4 664.64h-1.9M69.4 661.55h3.6M310.4 661.55h-3.6M69.4 641.2h1.9M310.4 641.2h-1.9M69.4 629.3h1.9M310.4 629.3h-1.9M69.4 620.85h1.9M310.4 620.85h-1.9M69.4 614.3h1.9M310.4 614.3h-1.9M69.4 608.95h1.9M310.4 608.95h-1.9M69.4 604.42h1.9M310.4 604.42h-1.9M69.4 600.5h1.9M310.4 600.5h-1.9M69.4 597.04h1.9M310.4 597.04h-1.9M69.4 593.95h3.6M310.4 593.95h-3.6M185.55 749.5v-3.6M185.55 588.5v3.6M301.7 749.5v-3.6M301.7 588.5v3.6" stroke="#4a4a4a" stroke-width="0.9" fill="none"/>
<rect x="69.4" y="588.5" width="241" height="161" fill="none" stroke="#4a4a4a" stroke-width="1.1"/>
<text x="54.22" y="600.05" font-size="17.5">0</text>
<path d="M50.9 600.05 L49.34 600.05 L49.34 591.23 L46.29 591.23 L46.29 590.11 C48.27 590.11 49.08 589.59 49.44 587.64 L50.9 587.64 Z" fill="#000"/>
<path d="M60.62 667.65 L59.07 667.65 L59.07 658.83 L56.02 658.83 L56.02 657.71 C58 657.71 58.8 657.19 59.17 655.24 L60.62 655.24 Z" fill="#000"/>
<text x="39.62" y="735.25" font-size="17.5">0</text>
<text x="49.36" y="735.25" font-size="17.5">.</text>
<path d="M60.63 735.25 L59.07 735.25 L59.07 726.43 L56.02 726.43 L56.02 725.31 C58 725.31 58.81 724.79 59.17 722.84 L60.63 722.84 Z" fill="#000"/>
<text x="57.24" y="768.7" font-size="17.5" fill="#000">0.0</text>
<text x="173.31" y="768.7" font-size="17.5" fill="#000">2.5</text>
<text x="289.53" y="768.7" font-size="17.5" fill="#000">5.0</text>
<text x="149.39" y="791.5" font-size="17.1" fill="#000">Time (min)</text>
<text transform="translate(24.6 721.18) rotate(-90)" x="0" y="0" font-size="17.1">Intensity (AU)</text>
<rect x="242.1" y="714.2" width="4" height="4" fill="#aaa" stroke="#8088f5" stroke-width="0.8"/>
<text x="252.74" y="720.4" font-size="15.6" fill="#7a80f4">dsLag</text>
<circle cx="244.1" cy="731.9" r="2.1" fill="#bbb" stroke="#111" stroke-width="0.8"/>
<text x="252.97" y="736.1" font-size="15.6" fill="#000">ssLag</text>
<text x="345.28" y="574.2" font-size="21" font-weight="bold" fill="#000">e</text>
<path d="M399.5 752.2h3.6M635.7 752.2h-3.6M399.5 733.42h1.9M635.7 733.42h-1.9M399.5 722.43h1.9M635.7 722.43h-1.9M399.5 714.63h1.9M635.7 714.63h-1.9M399.5 708.58h1.9M635.7 708.58h-1.9M399.5 703.64h1.9M635.7 703.64h-1.9M399.5 699.47h1.9M635.7 699.47h-1.9M399.5 695.85h1.9M635.7 695.85h-1.9M399.5 692.66h1.9M635.7 692.66h-1.9M399.5 689.8h3.6M635.7 689.8h-3.6M399.5 671.02h1.9M635.7 671.02h-1.9M399.5 660.03h1.9M635.7 660.03h-1.9M399.5 652.23h1.9M635.7 652.23h-1.9M399.5 646.18h1.9M635.7 646.18h-1.9M399.5 641.24h1.9M635.7 641.24h-1.9M399.5 637.07h1.9M635.7 637.07h-1.9M399.5 633.45h1.9M635.7 633.45h-1.9M399.5 630.26h1.9M635.7 630.26h-1.9M399.5 627.4h3.6M635.7 627.4h-3.6M399.5 608.62h1.9M635.7 608.62h-1.9M399.5 597.63h1.9M635.7 597.63h-1.9M399.5 589.83h1.9M635.7 589.83h-1.9M399.5 583.78h1.9M635.7 583.78h-1.9" stroke="#4a4a4a" stroke-width="0.9" fill="none"/>
<line x1="399.5" y1="689.8" x2="635.7" y2="689.8" stroke="#222" stroke-width="1.5" stroke-dasharray="4 2.2"/>
<rect x="399.5" y="583.4" width="236.2" height="168.8" fill="none" stroke="#4a4a4a" stroke-width="1.1"/>
<text x="383.07" y="633.5" font-size="17.5">0</text>
<path d="M379.75 633.5 L378.19 633.5 L378.19 624.68 L375.14 624.68 L375.14 623.56 C377.12 623.56 377.93 623.04 378.29 621.09 L379.75 621.09 Z" fill="#000"/>
<path d="M389.47 695.9 L387.92 695.9 L387.92 687.08 L384.87 687.08 L384.87 685.96 C386.85 685.96 387.65 685.44 388.02 683.49 L389.47 683.49 Z" fill="#000"/>
<text x="368.48" y="758.3" font-size="17.5">0</text>
<text x="378.21" y="758.3" font-size="17.5">.</text>
<path d="M389.48 758.3 L387.92 758.3 L387.92 749.48 L384.87 749.48 L384.87 748.36 C386.85 748.36 387.66 747.84 388.02 745.89 L389.48 745.89 Z" fill="#000"/>
<text x="426.1" y="772.4" font-size="17.5" fill="#000">CMG</text>
<text x="498.9" y="772.2" font-size="17.5" fill="#000">LTag</text>
<text x="566.26" y="772.2" font-size="17.5" fill="#000">NS3h</text>
<path d="M422.6 627.3H470.2 M446.4 617.1V644.2 M434 617.1H458.8 M434 644.2H458.8" stroke="#0d1f96" stroke-width="1.4" fill="none"/>
<circle cx="446.4" cy="615.8" r="3.3" fill="#0d1f96"/>
<circle cx="450.8" cy="632.6" r="3.3" fill="#0d1f96"/>
<circle cx="441.9" cy="639" r="3.3" fill="#0d1f96"/>
<path d="M493.6 669.5H541.2 M517.4 665.8V673.6 M505 665.8H529.8 M505 673.6H529.8" stroke="#1638f5" stroke-width="1.4" fill="none"/>
<path d="M508.5 661.9 l4.3 7.9 h-8.6 Z" fill="#1638f5"/>
<path d="M517.5 668.9 l4.3 7.9 h-8.6 Z" fill="#1638f5"/>
<path d="M526.4 666.3 l4.3 7.9 h-8.6 Z" fill="#1638f5"/>
<path d="M564.5 700.5H612.1 M588.3 698.2V703.8 M575.9 698.2H600.7 M575.9 703.8H600.7" stroke="#6f76f2" stroke-width="1.4" fill="none"/>
<path d="M577.4 693.8 l3.7 3.7 l-3.7 3.7 l-3.7 -3.7 Z" fill="#6f76f2"/>
<path d="M588.2 700.1 l3.7 3.7 l-3.7 3.7 l-3.7 -3.7 Z" fill="#6f76f2"/>
<path d="M599.2 696.9 l3.7 3.7 l-3.7 3.7 l-3.7 -3.7 Z" fill="#6f76f2"/>
<text transform="translate(358.1 710.4) rotate(-90)" font-size="17"><tspan>I</tspan><tspan font-size="13" dy="-6">dsLag</tspan><tspan dy="6">/I</tspan><tspan font-size="13" dy="-6">ssLag</tspan></text>
</svg></body></html>
